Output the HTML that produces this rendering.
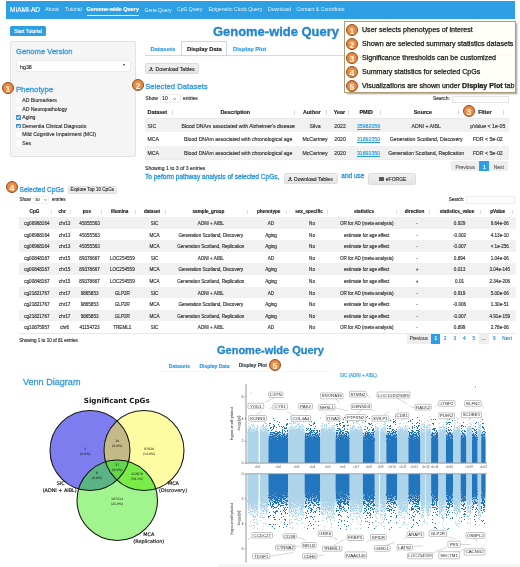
<!DOCTYPE html><html><head><meta charset="utf-8"><style>
html,body{margin:0;padding:0;overflow:hidden}
body{width:520px;height:567px;position:relative;overflow:hidden;background:#fff;font-family:"Liberation Sans", Arial, sans-serif}
.t{position:absolute;white-space:nowrap;line-height:1;-webkit-text-stroke:0.15px currentColor}
.num{position:absolute;box-sizing:border-box;border-radius:50%;background:radial-gradient(circle,#f29a55 0,#ec8a42 55%,#dc7530 100%);border:1.1px solid #8e4a1e;color:#fff4e6;font-weight:bold;text-align:center;font-family:"Liberation Sans",sans-serif}
</style></head><body>
<div style="position:absolute;left:6px;top:1px;width:509px;height:17.6px;background:#2d9fe4"></div>
<div class="t" style="left:10.00px;top:6.75px;font-size:6.5px;color:#fff;">MIAMI-AD</div>
<div class="t" style="left:45.00px;top:7.35px;font-size:5.3px;color:rgba(255,255,255,0.88);-webkit-text-stroke:0;">About</div>
<div class="t" style="left:65.00px;top:7.45px;font-size:5.1px;color:rgba(255,255,255,0.88);-webkit-text-stroke:0;">Tutorial</div>
<div class="t" style="left:144.50px;top:7.50px;font-size:5.0px;color:rgba(255,255,255,0.88);-webkit-text-stroke:0;">Gene Query</div>
<div class="t" style="left:177.00px;top:7.47px;font-size:5.05px;color:rgba(255,255,255,0.88);-webkit-text-stroke:0;">CpG Query</div>
<div class="t" style="left:208.50px;top:7.42px;font-size:5.15px;color:rgba(255,255,255,0.88);-webkit-text-stroke:0;">Epigenetic Clock Query</div>
<div class="t" style="left:268.00px;top:7.42px;font-size:5.15px;color:rgba(255,255,255,0.88);-webkit-text-stroke:0;">Download</div>
<div class="t" style="left:296.50px;top:7.40px;font-size:5.2px;color:rgba(255,255,255,0.88);-webkit-text-stroke:0;">Contact &amp; Contribute</div>
<div class="t" style="left:86.50px;top:7.30px;font-size:5.4px;color:#fff;font-weight:bold;">Genome-wide Query</div>
<div style="position:absolute;left:86.5px;top:15px;width:52.5px;height:1px;background:#fff"></div>
<div style="position:absolute;left:10px;top:26.2px;width:36px;height:9.9px;background:#2d9fe4;border-radius:1.5px"></div>
<div class="t" style="left:28.00px;transform:translateX(-50%);top:29.55px;font-size:4.9px;color:#fff;">Start Tutorial</div>
<div style="position:absolute;left:10px;top:41px;width:126px;height:116px;box-sizing:border-box;background:#f5f5f5;border:1px solid #e3e3e3;border-radius:2px"></div>
<div class="t" style="left:16.00px;top:48.00px;font-size:7.6px;color:#3198dc;-webkit-text-stroke:0.28px #3198dc;">Genome Version</div>
<div style="position:absolute;left:15.5px;top:60px;width:115.5px;height:11.5px;box-sizing:border-box;background:#fff;border:1px solid #eaeaea;border-radius:2px"></div>
<div class="t" style="left:20.00px;top:64.65px;font-size:5.3px;color:#333;">hg38</div>
<div style="position:absolute;left:123px;top:64.2px;width:0;height:0;border-left:1.6px solid transparent;border-right:1.6px solid transparent;border-top:2px solid #333"></div>
<div class="t" style="left:15.90px;top:86.40px;font-size:7.8px;color:#3198dc;-webkit-text-stroke:0.28px #3198dc;">Phenotype</div>
<div class="num" style="left:1.80px;top:81.80px;width:12px;height:12px;line-height:12px;font-size:8.6px">1</div>
<div style="position:absolute;left:16.2px;top:98.10px;width:4.6px;height:4.6px;background:#fff;border-radius:0.8px"></div>
<div class="t" style="left:22.30px;top:97.92px;font-size:5.15px;color:#333;">AD Biomarkers</div>
<div style="position:absolute;left:16.2px;top:106.68px;width:4.6px;height:4.6px;background:#fff;border-radius:0.8px"></div>
<div class="t" style="left:22.30px;top:106.50px;font-size:5.15px;color:#333;">AD Neuropathology</div>
<div style="position:absolute;left:16.2px;top:115.26px;width:4.6px;height:4.6px;background:#3b8fdc;border-radius:0.8px"></div>
<div style="position:absolute;left:17.3px;top:116.26px;width:2.2px;height:1.1px;border-left:0.7px solid #fff;border-bottom:0.7px solid #fff;transform:rotate(-45deg)"></div>
<div class="t" style="left:22.30px;top:115.08px;font-size:5.15px;color:#333;">Aging</div>
<div style="position:absolute;left:16.2px;top:123.84px;width:4.6px;height:4.6px;background:#3b8fdc;border-radius:0.8px"></div>
<div style="position:absolute;left:17.3px;top:124.84px;width:2.2px;height:1.1px;border-left:0.7px solid #fff;border-bottom:0.7px solid #fff;transform:rotate(-45deg)"></div>
<div class="t" style="left:22.30px;top:123.67px;font-size:5.15px;color:#333;">Dementia Clinical Diagnosis</div>
<div style="position:absolute;left:16.2px;top:132.42px;width:4.6px;height:4.6px;background:#fff;border-radius:0.8px"></div>
<div class="t" style="left:22.30px;top:132.25px;font-size:5.15px;color:#333;">Mild Cognitive Impairment (MCI)</div>
<div style="position:absolute;left:16.2px;top:141.00px;width:4.6px;height:4.6px;background:#fff;border-radius:0.8px"></div>
<div class="t" style="left:22.30px;top:140.83px;font-size:5.15px;color:#333;">Sex</div>
<div class="t" style="left:213.00px;top:25.72px;font-size:12.96px;color:#2386cf;font-weight:bold;-webkit-text-stroke:0.35px #2386cf;">Genome-wide Query</div>
<div style="position:absolute;left:145px;top:54.6px;width:370px;height:1px;background:#cddcea"></div>
<div style="position:absolute;left:180.8px;top:40.8px;width:46.7px;height:15px;box-sizing:border-box;background:#fff;border:1px solid #c9d9e6;border-radius:2px 2px 0 0;box-shadow:0 0 1px rgba(120,150,180,0.35)"></div>
<div class="t" style="left:150.50px;top:46.73px;font-size:5.95px;color:#2c9ae0;font-weight:bold;">Datasets</div>
<div class="t" style="left:187.00px;top:46.80px;font-size:5.8px;color:#222;font-weight:bold;">Display Data</div>
<div class="t" style="left:233.00px;top:46.80px;font-size:5.8px;color:#2c9ae0;font-weight:bold;">Display Plot</div>
<div style="position:absolute;left:145px;top:62.8px;width:53.8px;height:11.5px;box-sizing:border-box;background:linear-gradient(#efefef,#e4e4e4);border:0.5px solid #dcdcdc;border-radius:1.5px"></div>
<svg style="position:absolute;left:149px;top:66.6px" width="4.4" height="4.4" viewBox="0 0 10 10"><path d="M3.6 0h2.8v3.6h2L5 7.2 1.6 3.6h2z" fill="#3a3a3a"/><path d="M0 6.6h2.4L5 9.1l2.6-2.5H10V10H0z" fill="#3a3a3a"/></svg>
<div class="t" style="left:155.60px;top:66.72px;font-size:5.15px;color:#333;">Download Tables</div>
<div class="num" style="left:132.10px;top:79.20px;width:12px;height:12px;line-height:12px;font-size:8.6px">2</div>
<div class="t" style="left:145.20px;top:82.75px;font-size:7.7px;color:#3198dc;-webkit-text-stroke:0.28px #3198dc;">Selected Datasets</div>
<div class="t" style="left:145.50px;top:97.15px;font-size:4.9px;color:#333;">Show</div>
<div style="position:absolute;left:159.6px;top:93.6px;width:21.9px;height:9.5px;box-sizing:border-box;background:#fff;border:0.6px solid #ececec;border-radius:1.5px"></div>
<div class="t" style="left:162.30px;top:96.55px;font-size:4.9px;color:#333;">10</div>
<svg style="position:absolute;left:173.3px;top:97.6px" width="3.2" height="1.92" viewBox="0 0 10 6"><path d="M1.2 1.2l3.8 3.6 3.8-3.6" fill="none" stroke="#333" stroke-width="2.2"/></svg>
<div class="t" style="left:183.00px;top:97.15px;font-size:4.9px;color:#333;">entries</div>
<div class="t" style="left:432.90px;top:97.15px;font-size:4.9px;color:#333;">Search:</div>
<div style="position:absolute;left:452px;top:95.8px;width:56.5px;height:7.5px;box-sizing:border-box;background:#fff;border:1px solid #e3e3e3"></div>
<div style="position:absolute;left:144.5px;top:117.6px;width:364.0px;height:0.6px;background:#e9e9e9"></div>
<div class="t" style="left:147.50px;top:109.60px;font-size:5.4px;color:#222;font-weight:bold;">Dataset</div>
<div style="position:absolute;left:171.50px;top:110.05px;width:1px;height:4.5px;background:#dcdcdc"></div>
<div class="t" style="left:235.25px;transform:translateX(-50%);top:109.60px;font-size:5.4px;color:#222;font-weight:bold;">Description</div>
<div style="position:absolute;left:293.50px;top:110.05px;width:1px;height:4.5px;background:#dcdcdc"></div>
<div class="t" style="left:311.75px;transform:translateX(-50%);top:109.60px;font-size:5.4px;color:#222;font-weight:bold;">Author</div>
<div style="position:absolute;left:325.50px;top:110.05px;width:1px;height:4.5px;background:#dcdcdc"></div>
<div class="t" style="left:339.40px;transform:translateX(-50%);top:109.60px;font-size:5.4px;color:#222;font-weight:bold;">Year</div>
<div style="position:absolute;left:348.25px;top:110.05px;width:1px;height:4.5px;background:#dcdcdc"></div>
<div class="t" style="left:366.25px;transform:translateX(-50%);top:109.60px;font-size:5.4px;color:#222;font-weight:bold;">PMID</div>
<div style="position:absolute;left:379.50px;top:110.05px;width:1px;height:4.5px;background:#dcdcdc"></div>
<div class="t" style="left:422.90px;transform:translateX(-50%);top:109.60px;font-size:5.4px;color:#222;font-weight:bold;">Source</div>
<div style="position:absolute;left:457.50px;top:110.05px;width:1px;height:4.5px;background:#dcdcdc"></div>
<div class="t" style="left:484.90px;transform:translateX(-50%);top:109.60px;font-size:5.4px;color:#222;font-weight:bold;">Filter</div>
<div style="position:absolute;left:502.80px;top:110.05px;width:1px;height:4.5px;background:#dcdcdc"></div>
<div style="position:absolute;left:144.5px;top:118.8px;width:364.0px;height:13.6px;background:#f1f1f1"></div>
<div class="t" style="left:147.50px;top:123.80px;font-size:5.2px;color:#333;">SIC</div>
<div class="t" style="left:238.20px;transform:translateX(-50%);top:123.82px;font-size:5.16px;color:#333;">Blood DNAm associated with Alzheimer&#39;s disease</div>
<div class="t" style="left:315.00px;transform:translateX(-50%);top:123.80px;font-size:5.2px;color:#333;">Silva</div>
<div class="t" style="left:340.10px;transform:translateX(-50%);top:123.80px;font-size:5.2px;color:#333;">2022</div>
<div class="t" style="left:368.50px;transform:translateX(-50%);top:123.80px;font-size:5.2px;color:#2a9be0;text-decoration:underline;">35982059</div>
<div class="t" style="left:426.20px;transform:translateX(-50%);top:123.80px;font-size:5.2px;color:#333;">ADNI + AIBL</div>
<div class="t" style="left:487.80px;transform:translateX(-50%);top:123.80px;font-size:5.2px;color:#333;">pValue &lt; 1e-05</div>
<div class="t" style="left:147.50px;top:137.40px;font-size:5.2px;color:#333;">MCA</div>
<div class="t" style="left:238.20px;transform:translateX(-50%);top:137.42px;font-size:5.16px;color:#333;">Blood DNAm associated with chronological age</div>
<div class="t" style="left:315.00px;transform:translateX(-50%);top:137.40px;font-size:5.2px;color:#333;">McCartney</div>
<div class="t" style="left:340.10px;transform:translateX(-50%);top:137.40px;font-size:5.2px;color:#333;">2020</div>
<div class="t" style="left:368.50px;transform:translateX(-50%);top:137.40px;font-size:5.2px;color:#2a9be0;text-decoration:underline;">31892350</div>
<div class="t" style="left:426.20px;transform:translateX(-50%);top:137.40px;font-size:5.2px;color:#333;">Generation Scotland, Discovery</div>
<div class="t" style="left:487.80px;transform:translateX(-50%);top:137.40px;font-size:5.2px;color:#333;">FDR &lt; 5e-02</div>
<div style="position:absolute;left:144.5px;top:146.0px;width:364.0px;height:13.6px;background:#f1f1f1"></div>
<div class="t" style="left:147.50px;top:151.00px;font-size:5.2px;color:#333;">MCA</div>
<div class="t" style="left:238.20px;transform:translateX(-50%);top:151.02px;font-size:5.16px;color:#333;">Blood DNAm associated with chronological age</div>
<div class="t" style="left:315.00px;transform:translateX(-50%);top:151.00px;font-size:5.2px;color:#333;">McCartney</div>
<div class="t" style="left:340.10px;transform:translateX(-50%);top:151.00px;font-size:5.2px;color:#333;">2020</div>
<div class="t" style="left:368.50px;transform:translateX(-50%);top:151.00px;font-size:5.2px;color:#2a9be0;text-decoration:underline;">31892350</div>
<div class="t" style="left:426.20px;transform:translateX(-50%);top:151.00px;font-size:5.2px;color:#333;">Generation Scotland, Replication</div>
<div class="t" style="left:487.80px;transform:translateX(-50%);top:151.00px;font-size:5.2px;color:#333;">FDR &lt; 5e-02</div>
<div style="position:absolute;left:144.5px;top:159.4px;width:364.0px;height:0.5px;background:#ececec"></div>
<div class="t" style="left:145.00px;top:165.85px;font-size:5.1px;color:#333;">Showing 1 to 3 of 3 entries</div>
<div style="position:absolute;left:451px;top:160.8px;width:28.4px;height:10.7px;background:#eeeeee"></div>
<div class="t" style="left:465.20px;transform:translateX(-50%);top:164.50px;font-size:5.0px;color:#666;">Previous</div>
<div style="position:absolute;left:479.4px;top:160.8px;width:9.8px;height:10.7px;background:#2d9fe4"></div>
<div class="t" style="left:484.30px;transform:translateX(-50%);top:164.50px;font-size:5.0px;color:#fff;">1</div>
<div style="position:absolute;left:489.2px;top:160.8px;width:19.1px;height:10.7px;background:#eeeeee"></div>
<div class="t" style="left:498.80px;transform:translateX(-50%);top:164.50px;font-size:5.0px;color:#666;">Next</div>
<div class="num" style="left:462.60px;top:104.80px;width:12px;height:12px;line-height:12px;font-size:8.6px">3</div>
<div class="t" style="left:145.00px;top:173.73px;font-size:6.54px;color:#2b96dc;-webkit-text-stroke:0.3px #2b96dc;">To peform pathway analysis of selected CpGs,</div>
<div style="position:absolute;left:284.4px;top:172.8px;width:53.7px;height:11.6px;box-sizing:border-box;background:linear-gradient(#efefef,#e4e4e4);border:0.5px solid #dcdcdc;border-radius:1.5px"></div>
<svg style="position:absolute;left:288px;top:176.6px" width="4.4" height="4.4" viewBox="0 0 10 10"><path d="M3.6 0h2.8v3.6h2L5 7.2 1.6 3.6h2z" fill="#3a3a3a"/><path d="M0 6.6h2.4L5 9.1l2.6-2.5H10V10H0z" fill="#3a3a3a"/></svg>
<div class="t" style="left:294.00px;top:176.55px;font-size:5.1px;color:#333;">Download Tables</div>
<div class="t" style="left:341.25px;top:173.33px;font-size:6.54px;color:#2b96dc;-webkit-text-stroke:0.3px #2b96dc;">and use</div>
<div style="position:absolute;left:367.7px;top:173px;width:48.6px;height:11.5px;box-sizing:border-box;background:linear-gradient(#efefef,#e4e4e4);border:0.5px solid #dcdcdc;border-radius:1.5px"></div>
<div style="position:absolute;left:379.2px;top:177.3px;width:4.8px;height:4.2px;background:#555;border-radius:0.6px"></div>
<div class="t" style="left:385.80px;top:177.00px;font-size:5.0px;color:#333;">eFORGE</div>
<div style="position:absolute;left:344px;top:21.3px;width:171.5px;height:71.7px;box-sizing:border-box;background:rgba(255,254,248,0.88);border:1.2px solid #aa9d78;box-shadow:1.8px 1.8px 1.6px rgba(0,0,0,0.28)"></div>
<div class="num" style="left:345.90px;top:24.00px;width:12px;height:12px;line-height:12px;font-size:8.6px">1</div>
<div class="t" style="left:362.00px;top:26.65px;font-size:7.1px;color:#1a1a1a;-webkit-text-stroke:0.25px #1a1a1a;">User selects phenotypes of interest</div>
<div class="num" style="left:345.90px;top:38.00px;width:12px;height:12px;line-height:12px;font-size:8.6px">2</div>
<div class="t" style="left:362.00px;top:40.65px;font-size:7.1px;color:#1a1a1a;-webkit-text-stroke:0.25px #1a1a1a;">Shown are selected summary statistics datasets</div>
<div class="num" style="left:345.90px;top:52.00px;width:12px;height:12px;line-height:12px;font-size:8.6px">3</div>
<div class="t" style="left:362.00px;top:54.65px;font-size:7.1px;color:#1a1a1a;-webkit-text-stroke:0.25px #1a1a1a;">Significance thresholds can be customized</div>
<div class="num" style="left:345.90px;top:66.00px;width:12px;height:12px;line-height:12px;font-size:8.6px">4</div>
<div class="t" style="left:362.00px;top:68.65px;font-size:7.1px;color:#1a1a1a;-webkit-text-stroke:0.25px #1a1a1a;">Summary statistics for selected CpGs</div>
<div class="num" style="left:345.90px;top:80.00px;width:12px;height:12px;line-height:12px;font-size:8.6px">5</div>
<div class="t" style="left:362.00px;top:82.65px;font-size:7.1px;color:#1a1a1a;-webkit-text-stroke:0.25px #1a1a1a;">Visualizations are shown under <b>Display Plot</b> tab</div>
<div class="num" style="left:5.75px;top:180.50px;width:12.2px;height:12.2px;line-height:12.2px;font-size:8.8px">4</div>
<div class="t" style="left:19.50px;top:186.60px;font-size:6.6px;color:#3198dc;-webkit-text-stroke:0.3px #3198dc;">Selected CpGs</div>
<div style="position:absolute;left:67.5px;top:185.8px;width:49.5px;height:8.6px;box-sizing:border-box;background:linear-gradient(#f3f3f3,#e8e8e8);border:0.5px solid #dcdcdc;border-radius:1.5px"></div>
<div class="t" style="left:92.25px;transform:translateX(-50%);top:188.30px;font-size:4.6px;color:#333;">Explore Top 10 CpGs</div>
<div class="t" style="left:19.50px;top:198.15px;font-size:4.5px;color:#333;">Show</div>
<div style="position:absolute;left:32.5px;top:196.3px;width:16.5px;height:7.4px;box-sizing:border-box;background:#fff;border:0.5px solid #f0f0f0;border-radius:1.5px"></div>
<div class="t" style="left:35.00px;top:198.30px;font-size:4.2px;color:#333;">10</div>
<svg style="position:absolute;left:43.8px;top:199.4px" width="2.9" height="1.74" viewBox="0 0 10 6"><path d="M1.2 1.2l3.8 3.6 3.8-3.6" fill="none" stroke="#333" stroke-width="2.2"/></svg>
<div class="t" style="left:52.00px;top:198.15px;font-size:4.5px;color:#333;">entries</div>
<div class="t" style="left:448.70px;top:197.95px;font-size:4.5px;color:#333;">Search:</div>
<div style="position:absolute;left:466.2px;top:195.5px;width:48.6px;height:8.2px;box-sizing:border-box;background:#fff;border:0.6px solid #ececec"></div>
<div style="position:absolute;left:19.2px;top:216.5px;width:496.8px;height:0.5px;background:#ebebeb"></div>
<div class="t" style="left:34.50px;transform:translateX(-50%);top:210.48px;font-size:4.65px;color:#222;font-weight:bold;">CpG</div>
<div style="position:absolute;left:50.75px;top:209.50px;width:1px;height:4px;background:#dcdcdc"></div>
<div class="t" style="left:62.10px;transform:translateX(-50%);top:210.48px;font-size:4.65px;color:#222;font-weight:bold;">chr</div>
<div style="position:absolute;left:70.00px;top:209.50px;width:1px;height:4px;background:#dcdcdc"></div>
<div class="t" style="left:86.90px;transform:translateX(-50%);top:210.48px;font-size:4.65px;color:#222;font-weight:bold;">pos</div>
<div style="position:absolute;left:100.75px;top:209.50px;width:1px;height:4px;background:#dcdcdc"></div>
<div class="t" style="left:119.70px;transform:translateX(-50%);top:210.48px;font-size:4.65px;color:#222;font-weight:bold;">illumina</div>
<div style="position:absolute;left:134.80px;top:209.50px;width:1px;height:4px;background:#dcdcdc"></div>
<div class="t" style="left:152.00px;transform:translateX(-50%);top:210.48px;font-size:4.65px;color:#222;font-weight:bold;">dataset</div>
<div style="position:absolute;left:165.00px;top:209.50px;width:1px;height:4px;background:#dcdcdc"></div>
<div class="t" style="left:208.40px;transform:translateX(-50%);top:210.48px;font-size:4.65px;color:#222;font-weight:bold;">sample_group</div>
<div style="position:absolute;left:247.30px;top:209.50px;width:1px;height:4px;background:#dcdcdc"></div>
<div class="t" style="left:268.70px;transform:translateX(-50%);top:210.48px;font-size:4.65px;color:#222;font-weight:bold;">phenotype</div>
<div style="position:absolute;left:285.50px;top:209.50px;width:1px;height:4px;background:#dcdcdc"></div>
<div class="t" style="left:309.00px;transform:translateX(-50%);top:210.48px;font-size:4.65px;color:#222;font-weight:bold;">sex_specific</div>
<div style="position:absolute;left:327.30px;top:209.50px;width:1px;height:4px;background:#dcdcdc"></div>
<div class="t" style="left:364.00px;transform:translateX(-50%);top:210.48px;font-size:4.65px;color:#222;font-weight:bold;">statistics</div>
<div style="position:absolute;left:396.00px;top:209.50px;width:1px;height:4px;background:#dcdcdc"></div>
<div class="t" style="left:414.50px;transform:translateX(-50%);top:210.48px;font-size:4.65px;color:#222;font-weight:bold;">direction</div>
<div style="position:absolute;left:428.70px;top:209.50px;width:1px;height:4px;background:#dcdcdc"></div>
<div class="t" style="left:457.00px;transform:translateX(-50%);top:210.48px;font-size:4.65px;color:#222;font-weight:bold;">statistics_value</div>
<div style="position:absolute;left:480.10px;top:209.50px;width:1px;height:4px;background:#dcdcdc"></div>
<div class="t" style="left:497.70px;transform:translateX(-50%);top:210.48px;font-size:4.65px;color:#222;font-weight:bold;">pValue</div>
<div style="position:absolute;left:511.50px;top:209.50px;width:1px;height:4px;background:#dcdcdc"></div>
<div style="position:absolute;left:19.2px;top:216.9px;width:496.8px;height:11.61px;background:#f1f1f1"></div>
<div class="t" style="left:36.90px;transform:translateX(-50%);top:221.90px;font-size:4.6px;color:#333;">cg06968164</div>
<div class="t" style="left:64.70px;transform:translateX(-50%);top:221.90px;font-size:4.6px;color:#333;">chr13</div>
<div class="t" style="left:89.60px;transform:translateX(-50%);top:221.90px;font-size:4.6px;color:#333;">45055563</div>
<div class="t" style="left:154.50px;transform:translateX(-50%);top:221.90px;font-size:4.6px;color:#333;">SIC</div>
<div class="t" style="left:210.80px;transform:translateX(-50%);top:221.90px;font-size:4.6px;color:#333;">ADNI + AIBL</div>
<div class="t" style="left:271.00px;transform:translateX(-50%);top:221.90px;font-size:4.6px;color:#333;">AD</div>
<div class="t" style="left:312.00px;transform:translateX(-50%);top:221.90px;font-size:4.6px;color:#333;">No</div>
<div class="t" style="left:366.70px;transform:translateX(-50%);top:221.90px;font-size:4.6px;color:#333;">OR for AD (meta-analysis)</div>
<div class="t" style="left:417.00px;transform:translateX(-50%);top:221.90px;font-size:4.6px;color:#333;">-</div>
<div class="t" style="left:459.60px;transform:translateX(-50%);top:221.90px;font-size:4.6px;color:#333;">0.929</div>
<div class="t" style="left:499.80px;transform:translateX(-50%);top:221.90px;font-size:4.6px;color:#333;">9.64e-06</div>
<div class="t" style="left:36.90px;transform:translateX(-50%);top:233.51px;font-size:4.6px;color:#333;">cg06968164</div>
<div class="t" style="left:64.70px;transform:translateX(-50%);top:233.51px;font-size:4.6px;color:#333;">chr13</div>
<div class="t" style="left:89.60px;transform:translateX(-50%);top:233.51px;font-size:4.6px;color:#333;">45055563</div>
<div class="t" style="left:154.50px;transform:translateX(-50%);top:233.51px;font-size:4.6px;color:#333;">MCA</div>
<div class="t" style="left:210.80px;transform:translateX(-50%);top:233.51px;font-size:4.6px;color:#333;">Generation Scotland, Discovery</div>
<div class="t" style="left:271.00px;transform:translateX(-50%);top:233.51px;font-size:4.6px;color:#333;">Aging</div>
<div class="t" style="left:312.00px;transform:translateX(-50%);top:233.51px;font-size:4.6px;color:#333;">No</div>
<div class="t" style="left:366.70px;transform:translateX(-50%);top:233.51px;font-size:4.6px;color:#333;">estimate for age effect</div>
<div class="t" style="left:417.00px;transform:translateX(-50%);top:233.51px;font-size:4.6px;color:#333;">-</div>
<div class="t" style="left:459.60px;transform:translateX(-50%);top:233.51px;font-size:4.6px;color:#333;">-0.002</div>
<div class="t" style="left:499.80px;transform:translateX(-50%);top:233.51px;font-size:4.6px;color:#333;">4.13e-10</div>
<div style="position:absolute;left:19.2px;top:240.12px;width:496.8px;height:11.61px;background:#f1f1f1"></div>
<div class="t" style="left:36.90px;transform:translateX(-50%);top:245.12px;font-size:4.6px;color:#333;">cg06968164</div>
<div class="t" style="left:64.70px;transform:translateX(-50%);top:245.12px;font-size:4.6px;color:#333;">chr13</div>
<div class="t" style="left:89.60px;transform:translateX(-50%);top:245.12px;font-size:4.6px;color:#333;">45055563</div>
<div class="t" style="left:154.50px;transform:translateX(-50%);top:245.12px;font-size:4.6px;color:#333;">MCA</div>
<div class="t" style="left:210.80px;transform:translateX(-50%);top:245.12px;font-size:4.6px;color:#333;">Generation Scotland, Replication</div>
<div class="t" style="left:271.00px;transform:translateX(-50%);top:245.12px;font-size:4.6px;color:#333;">Aging</div>
<div class="t" style="left:312.00px;transform:translateX(-50%);top:245.12px;font-size:4.6px;color:#333;">No</div>
<div class="t" style="left:366.70px;transform:translateX(-50%);top:245.12px;font-size:4.6px;color:#333;">estimate for age effect</div>
<div class="t" style="left:417.00px;transform:translateX(-50%);top:245.12px;font-size:4.6px;color:#333;">-</div>
<div class="t" style="left:459.60px;transform:translateX(-50%);top:245.12px;font-size:4.6px;color:#333;">-0.007</div>
<div class="t" style="left:499.80px;transform:translateX(-50%);top:245.12px;font-size:4.6px;color:#333;">&lt; 1e-256</div>
<div class="t" style="left:36.90px;transform:translateX(-50%);top:256.73px;font-size:4.6px;color:#333;">cg00848167</div>
<div class="t" style="left:64.70px;transform:translateX(-50%);top:256.73px;font-size:4.6px;color:#333;">chr15</div>
<div class="t" style="left:89.60px;transform:translateX(-50%);top:256.73px;font-size:4.6px;color:#333;">89378667</div>
<div class="t" style="left:122.30px;transform:translateX(-50%);top:256.73px;font-size:4.6px;color:#333;">LOC254559</div>
<div class="t" style="left:154.50px;transform:translateX(-50%);top:256.73px;font-size:4.6px;color:#333;">SIC</div>
<div class="t" style="left:210.80px;transform:translateX(-50%);top:256.73px;font-size:4.6px;color:#333;">ADNI + AIBL</div>
<div class="t" style="left:271.00px;transform:translateX(-50%);top:256.73px;font-size:4.6px;color:#333;">AD</div>
<div class="t" style="left:312.00px;transform:translateX(-50%);top:256.73px;font-size:4.6px;color:#333;">No</div>
<div class="t" style="left:366.70px;transform:translateX(-50%);top:256.73px;font-size:4.6px;color:#333;">OR for AD (meta-analysis)</div>
<div class="t" style="left:417.00px;transform:translateX(-50%);top:256.73px;font-size:4.6px;color:#333;">-</div>
<div class="t" style="left:459.60px;transform:translateX(-50%);top:256.73px;font-size:4.6px;color:#333;">0.894</div>
<div class="t" style="left:499.80px;transform:translateX(-50%);top:256.73px;font-size:4.6px;color:#333;">1.04e-06</div>
<div style="position:absolute;left:19.2px;top:263.34px;width:496.8px;height:11.61px;background:#f1f1f1"></div>
<div class="t" style="left:36.90px;transform:translateX(-50%);top:268.34px;font-size:4.6px;color:#333;">cg00848167</div>
<div class="t" style="left:64.70px;transform:translateX(-50%);top:268.34px;font-size:4.6px;color:#333;">chr15</div>
<div class="t" style="left:89.60px;transform:translateX(-50%);top:268.34px;font-size:4.6px;color:#333;">89378667</div>
<div class="t" style="left:122.30px;transform:translateX(-50%);top:268.34px;font-size:4.6px;color:#333;">LOC254559</div>
<div class="t" style="left:154.50px;transform:translateX(-50%);top:268.34px;font-size:4.6px;color:#333;">MCA</div>
<div class="t" style="left:210.80px;transform:translateX(-50%);top:268.34px;font-size:4.6px;color:#333;">Generation Scotland, Discovery</div>
<div class="t" style="left:271.00px;transform:translateX(-50%);top:268.34px;font-size:4.6px;color:#333;">Aging</div>
<div class="t" style="left:312.00px;transform:translateX(-50%);top:268.34px;font-size:4.6px;color:#333;">No</div>
<div class="t" style="left:366.70px;transform:translateX(-50%);top:268.34px;font-size:4.6px;color:#333;">estimate for age effect</div>
<div class="t" style="left:417.00px;transform:translateX(-50%);top:268.34px;font-size:4.6px;color:#333;">+</div>
<div class="t" style="left:459.60px;transform:translateX(-50%);top:268.34px;font-size:4.6px;color:#333;">0.013</div>
<div class="t" style="left:499.80px;transform:translateX(-50%);top:268.34px;font-size:4.6px;color:#333;">3.04e-145</div>
<div class="t" style="left:36.90px;transform:translateX(-50%);top:279.95px;font-size:4.6px;color:#333;">cg00848167</div>
<div class="t" style="left:64.70px;transform:translateX(-50%);top:279.95px;font-size:4.6px;color:#333;">chr15</div>
<div class="t" style="left:89.60px;transform:translateX(-50%);top:279.95px;font-size:4.6px;color:#333;">89378667</div>
<div class="t" style="left:122.30px;transform:translateX(-50%);top:279.95px;font-size:4.6px;color:#333;">LOC254559</div>
<div class="t" style="left:154.50px;transform:translateX(-50%);top:279.95px;font-size:4.6px;color:#333;">MCA</div>
<div class="t" style="left:210.80px;transform:translateX(-50%);top:279.95px;font-size:4.6px;color:#333;">Generation Scotland, Replication</div>
<div class="t" style="left:271.00px;transform:translateX(-50%);top:279.95px;font-size:4.6px;color:#333;">Aging</div>
<div class="t" style="left:312.00px;transform:translateX(-50%);top:279.95px;font-size:4.6px;color:#333;">No</div>
<div class="t" style="left:366.70px;transform:translateX(-50%);top:279.95px;font-size:4.6px;color:#333;">estimate for age effect</div>
<div class="t" style="left:417.00px;transform:translateX(-50%);top:279.95px;font-size:4.6px;color:#333;">+</div>
<div class="t" style="left:459.60px;transform:translateX(-50%);top:279.95px;font-size:4.6px;color:#333;">0.01</div>
<div class="t" style="left:499.80px;transform:translateX(-50%);top:279.95px;font-size:4.6px;color:#333;">2.34e-206</div>
<div style="position:absolute;left:19.2px;top:286.56px;width:496.8px;height:11.61px;background:#f1f1f1"></div>
<div class="t" style="left:36.90px;transform:translateX(-50%);top:291.56px;font-size:4.6px;color:#333;">cg21821767</div>
<div class="t" style="left:64.70px;transform:translateX(-50%);top:291.56px;font-size:4.6px;color:#333;">chr17</div>
<div class="t" style="left:89.60px;transform:translateX(-50%);top:291.56px;font-size:4.6px;color:#333;">9865853</div>
<div class="t" style="left:122.30px;transform:translateX(-50%);top:291.56px;font-size:4.6px;color:#333;">GLP2R</div>
<div class="t" style="left:154.50px;transform:translateX(-50%);top:291.56px;font-size:4.6px;color:#333;">SIC</div>
<div class="t" style="left:210.80px;transform:translateX(-50%);top:291.56px;font-size:4.6px;color:#333;">ADNI + AIBL</div>
<div class="t" style="left:271.00px;transform:translateX(-50%);top:291.56px;font-size:4.6px;color:#333;">AD</div>
<div class="t" style="left:312.00px;transform:translateX(-50%);top:291.56px;font-size:4.6px;color:#333;">No</div>
<div class="t" style="left:366.70px;transform:translateX(-50%);top:291.56px;font-size:4.6px;color:#333;">OR for AD (meta-analysis)</div>
<div class="t" style="left:417.00px;transform:translateX(-50%);top:291.56px;font-size:4.6px;color:#333;">-</div>
<div class="t" style="left:459.60px;transform:translateX(-50%);top:291.56px;font-size:4.6px;color:#333;">0.919</div>
<div class="t" style="left:499.80px;transform:translateX(-50%);top:291.56px;font-size:4.6px;color:#333;">5.00e-06</div>
<div class="t" style="left:36.90px;transform:translateX(-50%);top:303.17px;font-size:4.6px;color:#333;">cg21821767</div>
<div class="t" style="left:64.70px;transform:translateX(-50%);top:303.17px;font-size:4.6px;color:#333;">chr17</div>
<div class="t" style="left:89.60px;transform:translateX(-50%);top:303.17px;font-size:4.6px;color:#333;">9865853</div>
<div class="t" style="left:122.30px;transform:translateX(-50%);top:303.17px;font-size:4.6px;color:#333;">GLP2R</div>
<div class="t" style="left:154.50px;transform:translateX(-50%);top:303.17px;font-size:4.6px;color:#333;">MCA</div>
<div class="t" style="left:210.80px;transform:translateX(-50%);top:303.17px;font-size:4.6px;color:#333;">Generation Scotland, Discovery</div>
<div class="t" style="left:271.00px;transform:translateX(-50%);top:303.17px;font-size:4.6px;color:#333;">Aging</div>
<div class="t" style="left:312.00px;transform:translateX(-50%);top:303.17px;font-size:4.6px;color:#333;">No</div>
<div class="t" style="left:366.70px;transform:translateX(-50%);top:303.17px;font-size:4.6px;color:#333;">estimate for age effect</div>
<div class="t" style="left:417.00px;transform:translateX(-50%);top:303.17px;font-size:4.6px;color:#333;">-</div>
<div class="t" style="left:459.60px;transform:translateX(-50%);top:303.17px;font-size:4.6px;color:#333;">-0.006</div>
<div class="t" style="left:499.80px;transform:translateX(-50%);top:303.17px;font-size:4.6px;color:#333;">1.30e-51</div>
<div style="position:absolute;left:19.2px;top:309.78px;width:496.8px;height:11.61px;background:#f1f1f1"></div>
<div class="t" style="left:36.90px;transform:translateX(-50%);top:314.78px;font-size:4.6px;color:#333;">cg21821767</div>
<div class="t" style="left:64.70px;transform:translateX(-50%);top:314.78px;font-size:4.6px;color:#333;">chr17</div>
<div class="t" style="left:89.60px;transform:translateX(-50%);top:314.78px;font-size:4.6px;color:#333;">9865853</div>
<div class="t" style="left:122.30px;transform:translateX(-50%);top:314.78px;font-size:4.6px;color:#333;">GLP2R</div>
<div class="t" style="left:154.50px;transform:translateX(-50%);top:314.78px;font-size:4.6px;color:#333;">MCA</div>
<div class="t" style="left:210.80px;transform:translateX(-50%);top:314.78px;font-size:4.6px;color:#333;">Generation Scotland, Replication</div>
<div class="t" style="left:271.00px;transform:translateX(-50%);top:314.78px;font-size:4.6px;color:#333;">Aging</div>
<div class="t" style="left:312.00px;transform:translateX(-50%);top:314.78px;font-size:4.6px;color:#333;">No</div>
<div class="t" style="left:366.70px;transform:translateX(-50%);top:314.78px;font-size:4.6px;color:#333;">estimate for age effect</div>
<div class="t" style="left:417.00px;transform:translateX(-50%);top:314.78px;font-size:4.6px;color:#333;">-</div>
<div class="t" style="left:459.60px;transform:translateX(-50%);top:314.78px;font-size:4.6px;color:#333;">-0.007</div>
<div class="t" style="left:499.80px;transform:translateX(-50%);top:314.78px;font-size:4.6px;color:#333;">4.91e-159</div>
<div class="t" style="left:36.90px;transform:translateX(-50%);top:326.39px;font-size:4.6px;color:#333;">cg10875957</div>
<div class="t" style="left:64.70px;transform:translateX(-50%);top:326.39px;font-size:4.6px;color:#333;">chr6</div>
<div class="t" style="left:89.60px;transform:translateX(-50%);top:326.39px;font-size:4.6px;color:#333;">41154723</div>
<div class="t" style="left:122.30px;transform:translateX(-50%);top:326.39px;font-size:4.6px;color:#333;">TREML1</div>
<div class="t" style="left:154.50px;transform:translateX(-50%);top:326.39px;font-size:4.6px;color:#333;">SIC</div>
<div class="t" style="left:210.80px;transform:translateX(-50%);top:326.39px;font-size:4.6px;color:#333;">ADNI + AIBL</div>
<div class="t" style="left:271.00px;transform:translateX(-50%);top:326.39px;font-size:4.6px;color:#333;">AD</div>
<div class="t" style="left:312.00px;transform:translateX(-50%);top:326.39px;font-size:4.6px;color:#333;">No</div>
<div class="t" style="left:366.70px;transform:translateX(-50%);top:326.39px;font-size:4.6px;color:#333;">OR for AD (meta-analysis)</div>
<div class="t" style="left:417.00px;transform:translateX(-50%);top:326.39px;font-size:4.6px;color:#333;">-</div>
<div class="t" style="left:459.60px;transform:translateX(-50%);top:326.39px;font-size:4.6px;color:#333;">0.899</div>
<div class="t" style="left:499.80px;transform:translateX(-50%);top:326.39px;font-size:4.6px;color:#333;">2.78e-06</div>
<div style="position:absolute;left:19.2px;top:333px;width:496.8px;height:0.5px;background:#e8e8e8"></div>
<div class="t" style="left:19.20px;top:338.53px;font-size:4.54px;color:#333;">Showing 1 to 10 of 81 entries</div>
<div style="position:absolute;left:406.8px;top:333.9px;width:24.1px;height:9.900000000000034px;background:#eeeeee"></div>
<div class="t" style="left:418.80px;transform:translateX(-50%);top:337.10px;font-size:4.7px;color:#555;">Previous</div>
<div style="position:absolute;left:430.9px;top:333.9px;width:9.6px;height:9.900000000000034px;background:#2d9fe4"></div>
<div class="t" style="left:435.70px;transform:translateX(-50%);top:337.10px;font-size:4.7px;color:#fff;">1</div>
<div class="t" style="left:445.10px;transform:translateX(-50%);top:337.10px;font-size:4.7px;color:#3590cc;">2</div>
<div class="t" style="left:454.70px;transform:translateX(-50%);top:337.10px;font-size:4.7px;color:#3590cc;">3</div>
<div class="t" style="left:464.20px;transform:translateX(-50%);top:337.10px;font-size:4.7px;color:#3590cc;">4</div>
<div class="t" style="left:473.80px;transform:translateX(-50%);top:337.10px;font-size:4.7px;color:#3590cc;">5</div>
<div class="t" style="left:494.30px;transform:translateX(-50%);top:337.10px;font-size:4.7px;color:#3590cc;">9</div>
<div style="position:absolute;left:478.7px;top:333.9px;width:10.1px;height:9.900000000000034px;background:#eeeeee"></div>
<div class="t" style="left:483.70px;transform:translateX(-50%);top:337.10px;font-size:4.7px;color:#666;">&#8230;</div>
<div class="t" style="left:507.20px;transform:translateX(-50%);top:337.10px;font-size:4.7px;color:#3590cc;">Next</div>
<div class="t" style="left:217.00px;top:345.00px;font-size:11.0px;color:#2386cf;font-weight:bold;-webkit-text-stroke:0.3px #2386cf;">Genome-wide Query</div>
<div style="position:absolute;left:160px;top:370.6px;width:170px;height:0.6px;background:#f4f7fa"></div>
<div class="t" style="left:168.75px;top:363.65px;font-size:5.1px;color:#2c9ae0;font-weight:bold;">Datasets</div>
<div class="t" style="left:199.50px;top:363.70px;font-size:5.0px;color:#2c9ae0;font-weight:bold;">Display Data</div>
<div class="t" style="left:238.75px;top:363.53px;font-size:4.94px;color:#3b4352;font-weight:bold;">Display Plot</div>
<div class="num" style="left:268.85px;top:358.85px;width:12.3px;height:12.3px;line-height:12.3px;font-size:8.9px">5</div>
<div class="t" style="left:23.00px;top:377.86px;font-size:9.07px;color:#3a9ad9;-webkit-text-stroke:0.3px #3a9ad9;">Venn Diagram</div>
<div class="t" style="left:339.70px;top:373.95px;font-size:4.5px;color:#2d9fe4;">SIC (ADNI + AIBL)</div>
<svg style="position:absolute;left:0;top:0" width="520" height="567" viewBox="0 0 520 567"><rect x="218.5" y="564.3" width="302" height="3" fill="#f4f4f4"/><g><defs><clipPath id="cB"><circle cx="90" cy="450.5" r="40"/></clipPath><clipPath id="cY"><circle cx="144" cy="450.5" r="40"/></clipPath></defs><circle cx="90" cy="450.5" r="40" fill="#7d7df0"/><circle cx="144" cy="450.5" r="40" fill="#fefca2"/><circle cx="117.25" cy="500.25" r="40.25" fill="#a2f58e"/><circle cx="144" cy="450.5" r="40" fill="#c4ba88" clip-path="url(#cB)"/><circle cx="117.25" cy="500.25" r="40.25" fill="#5cb485" clip-path="url(#cB)"/><circle cx="117.25" cy="500.25" r="40.25" fill="#7aec48" clip-path="url(#cY)"/><g clip-path="url(#cB)"><circle cx="117.25" cy="500.25" r="40.25" fill="#62d64c" clip-path="url(#cY)"/></g><circle cx="90" cy="450.5" r="40" fill="none" stroke="#151515" stroke-width="1.05"/><circle cx="144" cy="450.5" r="40" fill="none" stroke="#151515" stroke-width="1.05"/><circle cx="117.25" cy="500.25" r="40.25" fill="none" stroke="#151515" stroke-width="1.05"/></g><text x="83.8" y="403.3" style="font-family:'DejaVu Sans',sans-serif;font-weight:bold;font-size:7.14px" fill="#111">Significant CpGs</text><text x="85.2" y="449.5" text-anchor="middle" style="font-family:'DejaVu Sans',sans-serif;font-size:3.2px" fill="#111">5</text><text x="85.2" y="454.5" text-anchor="middle" style="font-family:'DejaVu Sans',sans-serif;font-size:3.2px" fill="#111">(0.0%)</text><text x="117.3" y="442.3" text-anchor="middle" style="font-family:'DejaVu Sans',sans-serif;font-size:3.2px" fill="#111">10</text><text x="117.3" y="447.3" text-anchor="middle" style="font-family:'DejaVu Sans',sans-serif;font-size:3.2px" fill="#111">(0.0%)</text><text x="149" y="449.5" text-anchor="middle" style="font-family:'DejaVu Sans',sans-serif;font-size:3.2px" fill="#111">97820</text><text x="149" y="454.5" text-anchor="middle" style="font-family:'DejaVu Sans',sans-serif;font-size:3.2px" fill="#111">(14.0%)</text><text x="117.3" y="466.4" text-anchor="middle" style="font-family:'DejaVu Sans',sans-serif;font-size:3.2px" fill="#111">27</text><text x="117.3" y="471.4" text-anchor="middle" style="font-family:'DejaVu Sans',sans-serif;font-size:3.2px" fill="#111">(0.0%)</text><text x="137" y="474.5" text-anchor="middle" style="font-family:'DejaVu Sans',sans-serif;font-size:3.2px" fill="#111">412879</text><text x="137" y="479.5" text-anchor="middle" style="font-family:'DejaVu Sans',sans-serif;font-size:3.2px" fill="#111">(59.1%)</text><text x="97" y="474" text-anchor="middle" style="font-family:'DejaVu Sans',sans-serif;font-size:3.2px" fill="#111">8</text><text x="97" y="479" text-anchor="middle" style="font-family:'DejaVu Sans',sans-serif;font-size:3.2px" fill="#111">(0.0%)</text><text x="117" y="499.75" text-anchor="middle" style="font-family:'DejaVu Sans',sans-serif;font-size:3.2px" fill="#111">187614</text><text x="117" y="504.75" text-anchor="middle" style="font-family:'DejaVu Sans',sans-serif;font-size:3.2px" fill="#111">(26.9%)</text><text x="60.8" y="484.8" text-anchor="middle" style="font-family:'DejaVu Sans',sans-serif;font-size:4.9px" fill="#111" stroke="#111" stroke-width="0.15">SIC</text><text x="59.7" y="491.8" text-anchor="middle" style="font-family:'DejaVu Sans',sans-serif;font-size:4.9px" fill="#111" stroke="#111" stroke-width="0.15">(ADNI + AIBL)</text><text x="173.4" y="484.5" text-anchor="middle" style="font-family:'DejaVu Sans',sans-serif;font-size:4.9px" fill="#111" stroke="#111" stroke-width="0.15">MCA</text><text x="173.1" y="491.8" text-anchor="middle" style="font-family:'DejaVu Sans',sans-serif;font-size:4.9px" fill="#111" stroke="#111" stroke-width="0.15">(Discovery)</text><text x="148.75" y="535.8" text-anchor="middle" style="font-family:'DejaVu Sans',sans-serif;font-size:4.9px" fill="#111" stroke="#111" stroke-width="0.15">MCA</text><text x="148.75" y="543" text-anchor="middle" style="font-family:'DejaVu Sans',sans-serif;font-size:4.9px" fill="#111" stroke="#111" stroke-width="0.15">(Replication)</text><linearGradient id="g1" x1="0" y1="0" x2="0" y2="1"><stop offset="0" stop-color="#aed4ea" stop-opacity="0"/><stop offset="1" stop-color="#aed4ea" stop-opacity="0.9"/></linearGradient><linearGradient id="g2" x1="0" y1="0" x2="0" y2="1"><stop offset="0" stop-color="#2276bd" stop-opacity="0"/><stop offset="1" stop-color="#2276bd" stop-opacity="0.9"/></linearGradient><rect x="247.40" y="433.03" width="11.20" height="29.97" fill="#aed4ea"/><rect x="247.40" y="425.26" width="11.20" height="7.77" fill="url(#g1)"/><rect x="259.80" y="433.03" width="8.60" height="29.97" fill="#aed4ea"/><rect x="259.80" y="425.26" width="8.60" height="7.77" fill="url(#g1)"/><rect x="268.40" y="439.69" width="19.90" height="23.31" fill="#2276bd"/><rect x="268.40" y="430.81" width="19.90" height="8.88" fill="url(#g2)"/><rect x="288.30" y="433.03" width="16.30" height="29.97" fill="#aed4ea"/><rect x="288.30" y="425.26" width="16.30" height="7.77" fill="url(#g1)"/><rect x="304.60" y="439.69" width="15.80" height="23.31" fill="#2276bd"/><rect x="304.60" y="430.81" width="15.80" height="8.88" fill="url(#g2)"/><rect x="320.40" y="433.03" width="15.10" height="29.97" fill="#aed4ea"/><rect x="320.40" y="425.26" width="15.10" height="7.77" fill="url(#g1)"/><rect x="335.50" y="439.69" width="14.20" height="23.31" fill="#2276bd"/><rect x="335.50" y="430.81" width="14.20" height="8.88" fill="url(#g2)"/><rect x="349.70" y="433.03" width="13.20" height="29.97" fill="#aed4ea"/><rect x="349.70" y="425.26" width="13.20" height="7.77" fill="url(#g1)"/><rect x="362.90" y="439.69" width="11.90" height="23.31" fill="#2276bd"/><rect x="362.90" y="430.81" width="11.90" height="8.88" fill="url(#g2)"/><rect x="374.80" y="433.03" width="4.20" height="29.97" fill="#aed4ea"/><rect x="374.80" y="425.26" width="4.20" height="7.77" fill="url(#g1)"/><rect x="380.00" y="433.03" width="6.30" height="29.97" fill="#aed4ea"/><rect x="380.00" y="425.26" width="6.30" height="7.77" fill="url(#g1)"/><rect x="386.30" y="439.69" width="11.10" height="23.31" fill="#2276bd"/><rect x="386.30" y="430.81" width="11.10" height="8.88" fill="url(#g2)"/><rect x="397.40" y="433.03" width="11.00" height="29.97" fill="#aed4ea"/><rect x="397.40" y="425.26" width="11.00" height="7.77" fill="url(#g1)"/><rect x="408.40" y="439.69" width="12.10" height="23.31" fill="#2276bd"/><rect x="408.40" y="430.81" width="12.10" height="8.88" fill="url(#g2)"/><rect x="420.50" y="433.03" width="4.80" height="29.97" fill="#aed4ea"/><rect x="420.50" y="425.26" width="4.80" height="7.77" fill="url(#g1)"/><rect x="425.80" y="433.03" width="5.30" height="29.97" fill="#aed4ea"/><rect x="425.80" y="425.26" width="5.30" height="7.77" fill="url(#g1)"/><rect x="431.10" y="439.69" width="7.40" height="23.31" fill="#2276bd"/><rect x="431.10" y="430.81" width="7.40" height="8.88" fill="url(#g2)"/><rect x="438.50" y="433.03" width="7.40" height="29.97" fill="#aed4ea"/><rect x="438.50" y="425.26" width="7.40" height="7.77" fill="url(#g1)"/><rect x="445.90" y="439.69" width="7.40" height="23.31" fill="#2276bd"/><rect x="445.90" y="430.81" width="7.40" height="8.88" fill="url(#g2)"/><rect x="453.30" y="433.03" width="7.30" height="29.97" fill="#aed4ea"/><rect x="453.30" y="425.26" width="7.30" height="7.77" fill="url(#g1)"/><rect x="460.60" y="439.69" width="5.90" height="23.31" fill="#2276bd"/><rect x="460.60" y="430.81" width="5.90" height="8.88" fill="url(#g2)"/><rect x="466.50" y="433.03" width="5.50" height="29.97" fill="#aed4ea"/><rect x="466.50" y="425.26" width="5.50" height="7.77" fill="url(#g1)"/><rect x="472.00" y="439.69" width="5.70" height="23.31" fill="#2276bd"/><rect x="472.00" y="430.81" width="5.70" height="8.88" fill="url(#g2)"/><rect x="477.70" y="433.03" width="3.50" height="29.97" fill="#aed4ea"/><rect x="477.70" y="425.26" width="3.50" height="7.77" fill="url(#g1)"/><rect x="481.20" y="439.69" width="4.40" height="23.31" fill="#2276bd"/><rect x="481.20" y="430.81" width="4.40" height="8.88" fill="url(#g2)"/><path stroke="#aed4ea" stroke-width="1" transform="translate(0 0.5)" d="M257 430h1M253 429h1M249 430h1M254 426h1M248 431h1M248 426h1M254 433h1M257 419h1M254 429h1M249 433h1M253 433h1M249 432h1M248 430h1M252 425h1M253 429h1M252 428h1M252 432h1M256 428h1M251 432h1M250 433h1M255 431h1M256 431h1M257 425h1M247 432h1M257 430h1M257 431h1M248 429h1M255 432h1M248 431h1M257 427h1M249 432h1M248 433h1M256 432h1M253 430h1M249 427h1M249 429h1M249 431h1M250 432h1M257 426h1M251 424h1M250 431h1M256 429h1M250 432h1M255 431h1M250 433h1M248 429h1M250 429h1M251 430h1M257 430h1M253 424h1M249 432h1M257 426h1M250 432h1M255 421h1M249 420h1M256 429h1M252 433h1M248 419h1M250 428h1M250 426h1M253 432h1M249 428h1M248 432h1M253 425h1M254 432h1M257 432h1M248 432h1M252 433h1M249 431h1M253 432h1M251 424h1M257 428h1M254 429h1M249 433h1M248 423h1M255 419h1M260 429h1M263 427h1M260 430h1M265 423h1M265 428h1M266 423h1M262 428h1M267 424h1M263 426h1M266 429h1M265 431h1M264 429h1M260 429h1M267 424h1M265 431h1M265 429h1M263 425h1M260 427h1M260 429h1M263 432h1M265 430h1M264 422h1M262 433h1M262 428h1M261 432h1M267 428h1M263 424h1M262 428h1M261 431h1M266 423h1M266 431h1M264 431h1M261 430h1M266 425h1M265 420h1M262 432h1M263 432h1M261 431h1M265 430h1M262 425h1M267 430h1M260 433h1M266 433h1M265 429h1M262 426h1M260 432h1M263 433h1M266 432h1M261 433h1M265 431h1M265 428h1M266 419h1M265 432h1M263 432h1M260 430h1M265 432h1M262 431h1M265 430h1M264 427h1M263 426h1M267 433h1M267 428h1M261 430h1M265 423h1M263 429h1M266 426h1M267 430h1M265 432h1M265 426h1M265 428h1M299 431h1M303 429h1M299 431h1M301 433h1M290 433h1M299 428h1M291 431h1M301 429h1M290 432h1M291 432h1M295 433h1M302 431h1M296 429h1M300 426h1M294 431h1M295 433h1M294 428h1M303 426h1M298 429h1M289 431h1M294 429h1M290 431h1M296 426h1M301 429h1M291 427h1M302 430h1M294 430h1M290 428h1M303 430h1M299 425h1M291 421h1M298 432h1M290 432h1M297 428h1M293 422h1M294 430h1M290 418h1M290 423h1M297 430h1M297 432h1M301 429h1M290 426h1M293 423h1M292 429h1M301 432h1M297 433h1M289 432h1M303 421h1M298 431h1M299 427h1M294 429h1M301 433h1M291 430h1M290 431h1M297 432h1M296 432h1M297 431h1M298 433h1M299 432h1M303 429h1M295 431h1M298 428h1M300 427h1M301 425h1M295 431h1M297 423h1M296 430h1M295 423h1M293 433h1M299 423h1M299 429h1M300 431h1M297 433h1M290 431h1M296 431h1M289 428h1M296 432h1M293 431h1M292 433h1M302 419h1M298 424h1M295 426h1M292 427h1M297 423h1M290 426h1M290 430h1M303 433h1M292 432h1M293 433h1M302 426h1M294 431h1M297 433h1M289 423h1M293 430h1M303 417h1M296 432h1M293 422h1M302 432h1M301 431h1M296 432h1M291 429h1M291 424h1M289 433h1M299 431h1M302 424h1M299 432h1M299 421h1M295 433h1M292 431h1M299 432h1M291 432h1M298 426h1M294 428h1M302 429h1M292 432h1M302 428h1M293 429h1M290 416h1M295 430h1M296 433h1M297 432h1M292 426h1M290 432h1M300 432h1M293 430h1M291 423h1M303 433h1M295 427h1M294 422h1M296 432h1M297 429h1M294 428h1M300 430h1M296 425h1M299 430h1M303 432h1M300 432h1M298 432h1M295 427h1M300 426h1M292 430h1M292 429h1M296 433h1M297 428h1M297 424h1M291 432h1M289 430h1M295 431h1M292 426h1M289 423h1M297 430h1M328 429h1M322 425h1M330 430h1M330 431h1M326 432h1M329 429h1M328 433h1M329 431h1M329 429h1M334 432h1M331 431h1M326 424h1M327 432h1M332 429h1M334 425h1M332 430h1M334 433h1M333 428h1M324 426h1M327 430h1M333 432h1M324 429h1M321 430h1M331 430h1M324 426h1M332 427h1M328 423h1M332 432h1M326 433h1M321 431h1M333 425h1M322 432h1M326 425h1M329 423h1M323 429h1M333 427h1M323 428h1M326 433h1M325 431h1M329 432h1M329 428h1M323 432h1M330 430h1M322 433h1M334 429h1M325 432h1M334 428h1M331 431h1M325 431h1M322 429h1M326 426h1M326 430h1M328 421h1M325 428h1M324 429h1M324 424h1M324 425h1M330 430h1M334 431h1M331 429h1M327 433h1M326 432h1M327 420h1M325 428h1M330 432h1M326 432h1M333 432h1M326 431h1M332 425h1M329 430h1M322 423h1M322 431h1M326 428h1M330 431h1M333 420h1M321 429h1M327 431h1M327 431h1M330 429h1M334 417h1M334 431h1M332 429h1M321 430h1M326 428h1M323 431h1M322 431h1M331 433h1M323 429h1M329 427h1M324 426h1M331 427h1M322 430h1M321 425h1M334 423h1M321 431h1M328 430h1M322 426h1M325 430h1M322 429h1M322 433h1M328 432h1M331 432h1M326 433h1M323 430h1M328 430h1M332 433h1M351 432h1M354 433h1M353 432h1M351 430h1M356 429h1M359 430h1M361 433h1M352 433h1M353 427h1M361 430h1M352 431h1M357 432h1M359 418h1M355 429h1M360 430h1M352 421h1M362 433h1M359 431h1M350 432h1M352 427h1M352 433h1M352 426h1M356 429h1M355 432h1M350 431h1M350 432h1M357 431h1M355 429h1M354 431h1M360 429h1M355 430h1M355 431h1M361 432h1M361 425h1M360 432h1M353 432h1M359 432h1M357 432h1M361 432h1M351 428h1M354 430h1M356 422h1M356 431h1M350 430h1M353 429h1M357 430h1M351 430h1M356 429h1M362 432h1M355 433h1M359 432h1M360 426h1M353 423h1M356 431h1M356 421h1M356 430h1M353 425h1M356 431h1M352 432h1M360 426h1M362 422h1M358 426h1M358 426h1M359 432h1M360 431h1M353 422h1M350 430h1M354 426h1M357 423h1M361 429h1M350 428h1M351 416h1M360 431h1M352 428h1M357 432h1M359 433h1M360 427h1M359 424h1M357 421h1M357 430h1M354 431h1M350 432h1M359 432h1M358 427h1M358 430h1M354 432h1M352 429h1M358 421h1M354 422h1M361 432h1M361 429h1M361 427h1M354 432h1M356 430h1M350 425h1M356 430h1M359 432h1M352 429h1M375 427h1M376 420h1M377 433h1M377 432h1M377 428h1M377 433h1M375 426h1M375 432h1M375 432h1M376 419h1M376 432h1M377 432h1M377 429h1M378 433h1M377 431h1M377 432h1M377 432h1M376 418h1M376 432h1M378 428h1M375 432h1M376 432h1M378 428h1M378 428h1M377 431h1M377 430h1M375 430h1M376 430h1M375 433h1M378 431h1M376 432h1M377 423h1M375 430h1M376 427h1M377 432h1M375 428h1M375 424h1M375 432h1M383 427h1M384 428h1M380 426h1M381 432h1M380 433h1M385 431h1M380 433h1M384 429h1M385 433h1M381 432h1M381 433h1M381 429h1M381 432h1M383 431h1M381 429h1M383 431h1M383 433h1M383 432h1M382 433h1M385 429h1M382 430h1M385 432h1M382 428h1M382 428h1M385 433h1M382 432h1M384 426h1M384 422h1M381 431h1M385 427h1M381 416h1M384 424h1M382 429h1M385 423h1M383 424h1M385 425h1M406 431h1M399 426h1M407 432h1M405 426h1M407 432h1M399 432h1M400 423h1M406 430h1M399 431h1M400 429h1M405 427h1M402 430h1M402 431h1M402 428h1M405 431h1M403 432h1M398 431h1M401 433h1M398 431h1M407 425h1M398 431h1M401 431h1M399 429h1M406 431h1M399 433h1M398 427h1M400 428h1M405 433h1M399 431h1M405 427h1M400 430h1M401 430h1M405 432h1M406 422h1M403 419h1M407 432h1M407 432h1M405 432h1M400 431h1M406 428h1M399 423h1M406 430h1M398 432h1M400 431h1M407 429h1M406 433h1M400 427h1M401 432h1M398 433h1M402 430h1M401 429h1M400 433h1M404 431h1M402 431h1M400 433h1M400 432h1M399 433h1M402 433h1M406 431h1M402 430h1M398 433h1M405 430h1M402 431h1M405 430h1M405 425h1M406 428h1M404 430h1M403 429h1M403 426h1M406 433h1M405 429h1M403 423h1M398 430h1M401 420h1M422 433h1M421 421h1M424 424h1M422 415h1M421 428h1M424 432h1M421 432h1M421 426h1M423 430h1M421 429h1M421 432h1M423 429h1M424 426h1M421 431h1M421 430h1M421 424h1M423 426h1M422 423h1M424 425h1M424 432h1M422 433h1M423 430h1M424 432h1M422 424h1M424 427h1M424 422h1M422 429h1M421 428h1M424 430h1M421 429h1M421 430h1M421 431h1M424 427h1M424 430h1M422 433h1M423 429h1M422 432h1M422 433h1M421 433h1M422 432h1M424 429h1M424 430h1M421 432h1M424 429h1M423 429h1M421 432h1M428 425h1M430 429h1M427 433h1M428 431h1M430 432h1M427 433h1M426 426h1M430 432h1M426 429h1M427 429h1M430 427h1M427 429h1M427 427h1M427 424h1M429 424h1M427 420h1M428 432h1M429 431h1M426 433h1M428 432h1M426 427h1M426 427h1M427 431h1M430 425h1M429 416h1M428 421h1M428 429h1M427 431h1M428 432h1M429 425h1M429 432h1M426 431h1M428 425h1M428 430h1M428 430h1M429 430h1M428 432h1M426 431h1M430 421h1M427 429h1M428 430h1M427 426h1M426 432h1M427 432h1M427 433h1M428 432h1M429 429h1M443 430h1M441 432h1M443 422h1M443 431h1M442 431h1M441 427h1M439 430h1M442 432h1M443 432h1M441 432h1M442 431h1M443 431h1M444 430h1M439 430h1M440 432h1M445 430h1M443 432h1M443 432h1M440 432h1M439 423h1M445 431h1M439 427h1M443 433h1M443 433h1M440 427h1M443 432h1M442 426h1M442 430h1M440 433h1M440 430h1M442 430h1M443 429h1M443 431h1M444 430h1M444 427h1M443 430h1M440 433h1M443 432h1M442 430h1M442 431h1M440 431h1M443 424h1M441 431h1M441 431h1M443 427h1M443 426h1M443 418h1M441 431h1M443 431h1M444 431h1M442 430h1M458 418h1M456 431h1M458 433h1M456 432h1M457 427h1M459 430h1M458 433h1M457 422h1M457 430h1M457 431h1M454 432h1M458 430h1M454 429h1M459 429h1M454 420h1M454 430h1M456 432h1M455 432h1M454 433h1M457 428h1M455 420h1M456 430h1M459 429h1M456 427h1M458 431h1M454 427h1M458 429h1M454 427h1M454 426h1M457 429h1M454 431h1M458 433h1M454 431h1M459 429h1M455 433h1M459 425h1M458 432h1M458 433h1M454 431h1M459 433h1M454 427h1M458 432h1M454 425h1M459 423h1M457 433h1M458 429h1M459 427h1M456 417h1M456 431h1M457 426h1M457 421h1M455 423h1M459 431h1M453 429h1M457 419h1M457 428h1M458 432h1M458 431h1M455 432h1M467 428h1M470 426h1M470 432h1M468 429h1M469 429h1M469 432h1M468 433h1M467 429h1M467 424h1M471 432h1M471 429h1M467 431h1M468 431h1M467 432h1M467 430h1M469 432h1M471 424h1M469 426h1M468 427h1M470 431h1M470 431h1M467 431h1M467 428h1M468 430h1M470 429h1M471 428h1M470 427h1M470 422h1M469 428h1M469 430h1M471 432h1M467 430h1M468 428h1M469 433h1M467 429h1M468 428h1M469 433h1M470 418h1M467 429h1M469 429h1M469 430h1M471 424h1M468 426h1M470 426h1M471 433h1M467 432h1M470 422h1M468 430h1M471 428h1M469 423h1M471 433h1M471 432h1M480 432h1M480 430h1M479 430h1M480 425h1M479 425h1M478 431h1M479 433h1M479 433h1M480 426h1M479 433h1M478 427h1M478 433h1M479 429h1M478 431h1M479 427h1M478 427h1M478 422h1M479 432h1M480 424h1M478 424h1M480 431h1M480 428h1M479 431h1M478 426h1M480 421h1M478 429h1M479 432h1M478 423h1M480 428h1M479 431h1"/><path stroke="#2276bd" stroke-width="1" transform="translate(0 0.5)" d="M287 419h1M279 431h1M274 426h1M285 437h1M270 436h1M279 432h1M278 440h1M284 439h1M284 439h1M275 431h1M271 439h1M278 433h1M284 433h1M286 436h1M286 439h1M273 436h1M274 432h1M280 436h1M284 435h1M274 437h1M284 427h1M272 429h1M287 436h1M279 438h1M279 436h1M280 440h1M287 436h1M276 431h1M279 436h1M281 439h1M279 437h1M286 425h1M273 436h1M271 437h1M284 427h1M277 438h1M272 434h1M286 439h1M283 440h1M272 438h1M281 438h1M275 434h1M270 432h1M271 436h1M273 438h1M278 437h1M276 437h1M278 439h1M272 434h1M280 436h1M284 434h1M285 438h1M282 430h1M285 438h1M274 425h1M285 439h1M273 432h1M273 439h1M284 437h1M283 439h1M276 433h1M269 438h1M281 426h1M287 439h1M278 432h1M278 433h1M272 439h1M270 439h1M279 436h1M279 439h1M272 438h1M286 439h1M270 423h1M277 432h1M275 436h1M278 437h1M280 440h1M282 429h1M272 436h1M282 437h1M272 439h1M278 440h1M285 431h1M282 429h1M280 437h1M280 436h1M287 431h1M273 426h1M282 431h1M284 437h1M285 428h1M282 432h1M283 437h1M282 439h1M275 436h1M269 437h1M280 434h1M273 424h1M281 437h1M281 435h1M278 437h1M287 434h1M282 432h1M287 440h1M280 432h1M273 437h1M269 438h1M276 439h1M273 427h1M279 436h1M287 435h1M287 434h1M284 439h1M280 432h1M269 425h1M271 436h1M272 436h1M280 439h1M286 437h1M278 435h1M275 438h1M281 435h1M274 433h1M274 440h1M273 439h1M271 432h1M276 427h1M283 439h1M287 424h1M270 427h1M277 436h1M287 438h1M278 424h1M282 436h1M287 430h1M280 439h1M280 436h1M272 439h1M278 439h1M277 434h1M277 438h1M279 437h1M283 435h1M287 423h1M282 438h1M271 427h1M283 434h1M275 438h1M281 435h1M280 434h1M283 439h1M273 418h1M286 428h1M269 439h1M274 437h1M280 439h1M279 439h1M270 433h1M279 434h1M275 436h1M272 437h1M282 430h1M270 439h1M284 434h1M283 438h1M276 438h1M284 437h1M275 435h1M283 426h1M276 437h1M270 428h1M270 439h1M279 436h1M281 438h1M283 439h1M272 434h1M270 438h1M282 433h1M274 439h1M275 433h1M275 439h1M282 435h1M286 424h1M286 436h1M284 438h1M274 437h1M286 427h1M273 437h1M275 437h1M276 437h1M272 435h1M283 435h1M284 435h1M272 432h1M285 438h1M269 436h1M279 435h1M287 434h1M284 439h1M279 431h1M270 439h1M282 427h1M270 434h1M271 432h1M281 438h1M273 432h1M278 432h1M276 437h1M287 433h1M278 435h1M282 433h1M286 437h1M284 434h1M285 431h1M284 428h1M287 434h1M278 433h1M284 437h1M276 439h1M275 439h1M272 437h1M274 420h1M270 438h1M271 434h1M283 439h1M270 436h1M279 426h1M269 439h1M272 438h1M273 433h1M280 438h1M272 438h1M272 432h1M274 435h1M284 436h1M273 428h1M286 437h1M279 422h1M278 438h1M269 423h1M284 437h1M278 436h1M281 438h1M269 436h1M275 431h1M282 435h1M271 439h1M274 438h1M285 436h1M273 435h1M271 432h1M268 430h1M284 430h1M270 438h1M282 439h1M277 436h1M286 435h1M285 438h1M283 437h1M286 439h1M284 438h1M279 436h1M271 430h1M274 438h1M270 438h1M277 433h1M275 433h1M270 437h1M277 421h1M284 434h1M269 437h1M282 438h1M279 436h1M284 438h1M280 438h1M276 435h1M274 437h1M276 434h1M273 438h1M307 438h1M305 438h1M314 436h1M309 435h1M306 430h1M307 438h1M307 433h1M317 431h1M306 437h1M310 438h1M319 439h1M312 432h1M319 439h1M311 432h1M305 438h1M318 439h1M310 438h1M311 439h1M316 432h1M308 438h1M313 438h1M311 425h1M310 437h1M319 434h1M305 437h1M314 439h1M310 433h1M317 435h1M318 436h1M310 429h1M310 431h1M308 437h1M307 435h1M307 438h1M308 436h1M309 436h1M319 433h1M317 438h1M310 439h1M315 437h1M309 440h1M307 438h1M310 425h1M315 438h1M310 439h1M318 437h1M316 433h1M318 440h1M309 437h1M306 428h1M309 432h1M312 439h1M310 438h1M305 439h1M313 440h1M309 437h1M313 439h1M315 438h1M315 434h1M307 438h1M309 433h1M311 437h1M317 438h1M309 437h1M308 439h1M305 434h1M313 431h1M319 438h1M315 426h1M308 433h1M314 422h1M317 438h1M314 439h1M311 437h1M305 437h1M309 436h1M309 439h1M311 436h1M307 434h1M308 439h1M310 437h1M307 435h1M315 435h1M315 440h1M310 437h1M306 437h1M305 436h1M313 436h1M309 438h1M305 437h1M318 435h1M308 434h1M307 436h1M314 423h1M310 435h1M319 431h1M314 434h1M311 437h1M309 430h1M318 437h1M318 439h1M307 436h1M309 437h1M319 439h1M307 438h1M315 438h1M305 435h1M310 438h1M312 434h1M313 434h1M313 430h1M319 437h1M310 428h1M309 433h1M315 433h1M319 430h1M307 434h1M312 435h1M310 438h1M316 435h1M308 438h1M309 439h1M312 439h1M306 439h1M306 433h1M306 436h1M316 436h1M307 429h1M317 439h1M308 436h1M316 437h1M315 438h1M315 437h1M310 432h1M317 430h1M313 437h1M315 434h1M317 431h1M306 437h1M315 438h1M307 440h1M313 424h1M319 439h1M315 437h1M314 437h1M305 433h1M306 439h1M309 432h1M319 439h1M309 440h1M313 436h1M310 438h1M316 430h1M309 437h1M314 432h1M319 437h1M315 435h1M316 439h1M307 439h1M318 438h1M312 439h1M309 440h1M313 439h1M314 438h1M308 436h1M310 438h1M305 439h1M318 438h1M306 439h1M308 428h1M312 437h1M317 437h1M305 435h1M314 434h1M309 424h1M311 430h1M315 439h1M305 439h1M306 439h1M310 432h1M309 436h1M305 438h1M319 440h1M312 430h1M316 432h1M311 431h1M317 432h1M319 439h1M319 437h1M315 438h1M318 440h1M313 438h1M310 437h1M314 430h1M310 434h1M310 438h1M318 438h1M306 437h1M316 438h1M316 435h1M315 439h1M306 439h1M310 437h1M305 436h1M311 438h1M313 423h1M308 428h1M309 432h1M306 415h1M311 421h1M308 437h1M315 439h1M309 433h1M319 438h1M307 437h1M319 439h1M314 437h1M314 438h1M314 428h1M317 434h1M348 436h1M341 434h1M347 421h1M341 440h1M338 430h1M345 433h1M338 435h1M336 439h1M339 421h1M344 429h1M336 437h1M337 438h1M337 426h1M340 436h1M344 428h1M348 435h1M342 427h1M341 438h1M345 438h1M340 437h1M342 437h1M341 436h1M336 430h1M336 436h1M343 437h1M338 439h1M340 438h1M342 438h1M345 436h1M336 437h1M348 440h1M343 422h1M340 435h1M340 438h1M344 435h1M340 436h1M342 432h1M336 439h1M339 438h1M346 437h1M347 437h1M339 433h1M337 417h1M346 437h1M340 430h1M346 434h1M336 432h1M336 434h1M343 425h1M344 440h1M348 432h1M343 440h1M345 437h1M344 417h1M348 439h1M346 436h1M345 437h1M341 437h1M337 438h1M345 439h1M337 430h1M344 435h1M337 439h1M340 423h1M343 426h1M338 437h1M343 430h1M337 428h1M342 440h1M341 437h1M344 425h1M342 433h1M341 431h1M337 432h1M338 435h1M338 437h1M338 437h1M343 436h1M341 435h1M347 437h1M343 436h1M348 437h1M345 438h1M339 432h1M343 438h1M336 430h1M340 433h1M341 434h1M343 419h1M348 436h1M342 438h1M345 439h1M340 429h1M336 433h1M343 435h1M340 439h1M348 432h1M346 439h1M346 438h1M338 435h1M344 439h1M346 435h1M347 425h1M345 437h1M348 433h1M339 429h1M345 438h1M339 440h1M343 438h1M339 438h1M337 436h1M339 438h1M339 436h1M347 439h1M347 429h1M344 435h1M345 435h1M344 426h1M346 438h1M336 424h1M340 431h1M339 436h1M340 432h1M348 436h1M343 437h1M339 423h1M337 424h1M344 439h1M347 439h1M343 439h1M349 438h1M347 439h1M344 439h1M336 435h1M348 433h1M347 431h1M342 439h1M342 439h1M342 437h1M342 438h1M345 437h1M342 439h1M342 435h1M348 435h1M337 438h1M340 433h1M348 419h1M348 425h1M347 425h1M336 436h1M343 433h1M344 434h1M348 439h1M342 422h1M336 439h1M347 422h1M336 440h1M346 433h1M342 435h1M345 431h1M336 439h1M346 419h1M347 437h1M340 437h1M336 432h1M339 435h1M342 437h1M344 436h1M339 428h1M338 439h1M339 436h1M346 437h1M339 434h1M339 436h1M339 428h1M338 438h1M339 437h1M345 433h1M346 435h1M337 432h1M339 438h1M340 437h1M341 439h1M346 431h1M340 431h1M341 438h1M343 432h1M342 430h1M336 436h1M341 439h1M348 439h1M338 428h1M348 425h1M340 425h1M337 433h1M348 439h1M337 433h1M347 432h1M348 436h1M340 439h1M339 424h1M364 439h1M367 436h1M373 434h1M367 437h1M365 436h1M373 439h1M368 433h1M371 435h1M370 424h1M373 438h1M369 439h1M371 439h1M365 435h1M366 433h1M371 438h1M371 434h1M371 436h1M368 439h1M368 423h1M373 439h1M364 438h1M370 436h1M364 437h1M369 432h1M367 434h1M370 434h1M363 433h1M364 439h1M368 440h1M364 437h1M368 439h1M373 429h1M368 435h1M366 417h1M364 438h1M365 429h1M368 437h1M367 428h1M366 431h1M371 436h1M367 437h1M368 438h1M370 437h1M366 431h1M368 436h1M372 436h1M367 427h1M374 431h1M367 434h1M371 438h1M371 423h1M370 434h1M368 434h1M365 432h1M369 418h1M367 433h1M363 437h1M371 438h1M370 438h1M365 426h1M364 435h1M372 430h1M367 435h1M371 432h1M371 435h1M366 433h1M369 435h1M374 439h1M371 438h1M371 423h1M366 435h1M369 436h1M365 434h1M373 434h1M366 431h1M367 439h1M370 436h1M369 423h1M367 432h1M364 438h1M370 433h1M372 437h1M366 437h1M369 440h1M367 434h1M365 438h1M372 425h1M366 439h1M364 439h1M372 432h1M366 436h1M370 440h1M372 429h1M365 433h1M371 437h1M372 438h1M368 438h1M368 430h1M369 434h1M374 438h1M365 434h1M365 421h1M367 436h1M368 430h1M373 433h1M365 437h1M371 438h1M373 428h1M365 437h1M365 433h1M363 433h1M364 429h1M369 435h1M364 439h1M367 416h1M369 429h1M364 439h1M363 433h1M365 438h1M370 433h1M366 436h1M366 435h1M367 437h1M366 438h1M366 440h1M366 435h1M366 439h1M372 436h1M368 438h1M373 432h1M370 434h1M370 436h1M367 437h1M368 436h1M369 435h1M371 427h1M365 440h1M366 440h1M372 434h1M366 439h1M372 430h1M370 433h1M371 436h1M367 435h1M373 430h1M364 438h1M373 435h1M369 438h1M372 436h1M374 439h1M374 440h1M365 437h1M370 439h1M369 424h1M368 432h1M369 435h1M365 436h1M373 433h1M365 436h1M369 437h1M369 434h1M363 438h1M370 438h1M393 422h1M388 437h1M392 439h1M394 439h1M393 438h1M390 435h1M388 436h1M395 416h1M389 437h1M393 439h1M395 438h1M392 437h1M386 440h1M386 437h1M393 439h1M394 438h1M391 433h1M395 424h1M391 438h1M390 438h1M394 436h1M393 439h1M394 421h1M388 434h1M388 439h1M390 439h1M394 435h1M393 421h1M387 439h1M387 436h1M395 433h1M392 429h1M390 439h1M393 440h1M389 440h1M388 439h1M392 439h1M392 430h1M390 439h1M393 432h1M395 435h1M392 429h1M393 419h1M389 431h1M393 436h1M386 436h1M389 435h1M391 436h1M387 439h1M392 433h1M396 431h1M389 436h1M391 431h1M390 426h1M391 437h1M391 437h1M396 439h1M390 439h1M393 439h1M388 437h1M392 432h1M391 438h1M390 428h1M388 440h1M395 436h1M388 439h1M395 432h1M387 433h1M388 436h1M392 439h1M396 437h1M388 431h1M387 439h1M393 436h1M395 431h1M388 439h1M392 436h1M389 426h1M388 434h1M387 425h1M396 434h1M390 433h1M395 431h1M387 436h1M388 435h1M396 429h1M389 435h1M390 439h1M394 432h1M390 437h1M393 432h1M391 439h1M387 439h1M395 436h1M393 437h1M390 439h1M396 435h1M388 433h1M392 434h1M394 434h1M395 420h1M390 434h1M390 437h1M390 434h1M390 437h1M395 431h1M393 429h1M390 434h1M389 438h1M387 431h1M396 438h1M390 439h1M388 434h1M395 439h1M389 432h1M389 428h1M390 436h1M388 438h1M391 438h1M394 440h1M393 431h1M390 439h1M388 439h1M394 435h1M386 436h1M392 438h1M387 437h1M390 420h1M390 425h1M395 435h1M388 431h1M387 435h1M387 439h1M390 439h1M396 435h1M395 422h1M394 434h1M391 431h1M393 439h1M392 437h1M392 433h1M393 435h1M394 430h1M387 439h1M387 439h1M396 438h1M391 436h1M392 438h1M394 437h1M395 431h1M386 435h1M387 428h1M387 438h1M394 435h1M393 437h1M392 438h1M391 438h1M393 439h1M388 438h1M410 435h1M410 432h1M414 432h1M412 428h1M408 438h1M417 428h1M417 438h1M409 433h1M417 439h1M419 436h1M409 436h1M412 439h1M418 425h1M410 436h1M411 433h1M410 437h1M413 436h1M413 435h1M419 425h1M418 430h1M411 438h1M414 434h1M415 437h1M419 438h1M409 439h1M411 432h1M418 439h1M411 438h1M417 427h1M411 439h1M419 420h1M416 436h1M417 432h1M414 438h1M414 434h1M412 434h1M410 420h1M411 438h1M419 423h1M419 429h1M418 430h1M415 439h1M417 430h1M418 439h1M409 432h1M414 427h1M419 436h1M416 434h1M416 437h1M415 439h1M418 433h1M417 436h1M411 436h1M416 435h1M410 440h1M413 438h1M411 438h1M413 433h1M419 433h1M409 428h1M415 432h1M415 437h1M412 439h1M416 439h1M416 426h1M416 435h1M417 422h1M414 440h1M415 434h1M418 434h1M412 440h1M418 434h1M419 435h1M418 431h1M419 436h1M418 437h1M409 438h1M413 438h1M416 439h1M412 437h1M410 435h1M413 431h1M412 419h1M411 435h1M411 440h1M412 427h1M412 436h1M414 438h1M414 439h1M412 438h1M417 432h1M416 435h1M418 432h1M409 439h1M417 430h1M419 431h1M410 435h1M415 435h1M410 421h1M414 438h1M419 437h1M409 434h1M411 438h1M412 435h1M412 434h1M418 426h1M411 430h1M409 435h1M409 439h1M419 439h1M416 436h1M408 431h1M409 428h1M417 436h1M413 440h1M416 439h1M414 425h1M416 439h1M416 433h1M412 431h1M415 437h1M414 438h1M412 427h1M412 432h1M412 439h1M408 421h1M417 417h1M415 439h1M410 439h1M415 434h1M419 438h1M411 438h1M410 440h1M414 437h1M412 423h1M412 430h1M414 439h1M409 434h1M418 439h1M416 438h1M416 430h1M416 438h1M410 421h1M419 425h1M414 439h1M412 426h1M409 438h1M409 428h1M412 439h1M412 438h1M413 434h1M416 439h1M414 439h1M413 431h1M411 430h1M411 437h1M417 440h1M415 435h1M416 423h1M416 438h1M411 436h1M412 435h1M435 438h1M434 433h1M432 432h1M435 419h1M435 435h1M436 438h1M433 437h1M436 433h1M432 423h1M437 436h1M437 434h1M434 439h1M431 435h1M436 434h1M436 437h1M436 435h1M435 435h1M435 435h1M432 433h1M436 437h1M437 436h1M432 436h1M433 439h1M437 439h1M436 439h1M432 429h1M431 419h1M437 436h1M435 436h1M432 437h1M434 428h1M432 435h1M434 435h1M436 435h1M433 423h1M435 438h1M435 428h1M431 434h1M434 438h1M432 438h1M434 437h1M435 438h1M435 436h1M436 431h1M433 419h1M435 437h1M433 433h1M434 433h1M433 429h1M433 428h1M434 437h1M435 436h1M435 435h1M437 432h1M431 439h1M436 438h1M431 439h1M434 429h1M431 439h1M431 439h1M433 436h1M437 434h1M437 435h1M437 433h1M433 437h1M434 439h1M437 436h1M432 436h1M436 438h1M435 439h1M433 439h1M434 433h1M433 433h1M435 432h1M437 437h1M437 436h1M434 439h1M432 434h1M432 439h1M432 435h1M432 438h1M436 436h1M432 433h1M437 434h1M434 435h1M436 430h1M436 438h1M436 439h1M432 436h1M432 435h1M433 424h1M434 430h1M437 436h1M448 436h1M452 439h1M452 420h1M451 438h1M446 428h1M446 438h1M452 433h1M451 430h1M447 436h1M447 437h1M449 430h1M448 434h1M447 438h1M446 435h1M450 433h1M449 424h1M451 435h1M451 439h1M448 435h1M450 422h1M450 439h1M452 436h1M447 432h1M450 429h1M449 438h1M449 436h1M448 435h1M447 438h1M447 440h1M449 432h1M448 427h1M450 434h1M448 427h1M448 429h1M447 423h1M450 439h1M451 439h1M448 437h1M448 437h1M447 437h1M446 431h1M448 433h1M449 419h1M452 433h1M451 426h1M452 437h1M450 439h1M448 437h1M450 440h1M451 439h1M449 436h1M451 434h1M447 434h1M447 434h1M449 422h1M449 438h1M448 422h1M448 438h1M449 434h1M452 439h1M448 433h1M449 433h1M450 439h1M446 439h1M448 439h1M448 439h1M446 436h1M451 439h1M447 432h1M446 439h1M449 438h1M451 436h1M449 437h1M446 430h1M448 430h1M447 437h1M449 439h1M446 424h1M449 432h1M450 436h1M447 434h1M449 433h1M446 438h1M447 432h1M449 438h1M451 436h1M448 437h1M446 439h1M446 422h1M452 435h1M452 435h1M450 439h1M449 434h1M449 434h1M448 434h1M447 436h1M449 436h1M446 438h1M450 439h1M450 432h1M463 438h1M461 431h1M464 430h1M464 439h1M462 436h1M462 430h1M462 440h1M463 439h1M461 435h1M464 435h1M461 435h1M463 438h1M462 439h1M463 437h1M463 433h1M462 435h1M462 432h1M462 435h1M464 431h1M463 426h1M465 431h1M462 438h1M464 439h1M461 439h1M464 437h1M465 431h1M463 437h1M462 439h1M461 428h1M462 440h1M465 437h1M464 436h1M465 439h1M463 434h1M461 426h1M462 433h1M461 439h1M461 431h1M465 426h1M463 439h1M464 436h1M464 434h1M463 439h1M461 439h1M463 438h1M465 439h1M464 439h1M461 425h1M462 435h1M463 437h1M462 439h1M464 437h1M464 430h1M461 437h1M462 425h1M464 438h1M463 440h1M463 439h1M461 436h1M463 438h1M463 438h1M464 439h1M465 436h1M461 438h1M464 439h1M465 438h1M463 439h1M463 422h1M462 439h1M463 434h1M461 438h1M464 438h1M473 438h1M476 431h1M477 439h1M475 432h1M476 433h1M473 439h1M473 438h1M475 438h1M473 439h1M475 430h1M473 436h1M477 437h1M475 430h1M472 428h1M476 432h1M474 436h1M476 439h1M472 434h1M476 439h1M473 436h1M476 435h1M475 439h1M473 435h1M475 439h1M472 438h1M474 437h1M473 439h1M475 423h1M475 426h1M473 434h1M474 429h1M475 434h1M476 422h1M473 436h1M472 435h1M473 433h1M474 440h1M476 439h1M473 436h1M472 431h1M475 439h1M475 439h1M474 439h1M473 436h1M475 434h1M476 437h1M474 438h1M475 437h1M473 439h1M474 430h1M474 430h1M474 435h1M473 437h1M475 439h1M474 438h1M473 437h1M473 435h1M472 438h1M473 439h1M476 433h1M476 439h1M473 438h1M474 430h1M476 429h1M472 440h1M474 437h1M472 437h1M473 428h1M484 439h1M484 433h1M483 423h1M483 428h1M482 437h1M482 436h1M484 429h1M485 432h1M484 439h1M483 436h1M482 427h1M482 438h1M481 435h1M482 423h1M483 437h1M482 439h1M484 434h1M483 436h1M483 427h1M481 438h1M484 438h1M482 437h1M482 432h1M482 435h1M484 437h1M484 437h1M483 439h1M482 435h1M483 436h1M481 435h1M484 438h1M482 434h1M482 439h1M481 434h1M484 431h1M483 428h1M484 438h1M482 419h1M484 434h1M483 437h1M482 437h1M482 434h1M483 434h1M484 440h1M482 439h1M482 426h1M483 431h1M482 437h1M484 438h1M484 435h1M483 440h1"/><linearGradient id="g3" x1="0" y1="0" x2="0" y2="1"><stop offset="0" stop-color="#aed4ea" stop-opacity="0.9"/><stop offset="1" stop-color="#aed4ea" stop-opacity="0"/></linearGradient><linearGradient id="g4" x1="0" y1="0" x2="0" y2="1"><stop offset="0" stop-color="#2276bd" stop-opacity="0.9"/><stop offset="1" stop-color="#2276bd" stop-opacity="0"/></linearGradient><rect x="247.40" y="474.00" width="11.20" height="22.41" fill="#aed4ea"/><rect x="247.40" y="496.41" width="11.20" height="21.16" fill="url(#g3)"/><rect x="259.80" y="474.00" width="8.60" height="22.41" fill="#aed4ea"/><rect x="259.80" y="496.41" width="8.60" height="21.16" fill="url(#g3)"/><rect x="268.40" y="474.00" width="19.90" height="17.43" fill="#2276bd"/><rect x="268.40" y="491.43" width="19.90" height="14.94" fill="url(#g4)"/><rect x="288.30" y="474.00" width="16.30" height="22.41" fill="#aed4ea"/><rect x="288.30" y="496.41" width="16.30" height="21.16" fill="url(#g3)"/><rect x="304.60" y="474.00" width="15.80" height="17.43" fill="#2276bd"/><rect x="304.60" y="491.43" width="15.80" height="14.94" fill="url(#g4)"/><rect x="320.40" y="474.00" width="15.10" height="22.41" fill="#aed4ea"/><rect x="320.40" y="496.41" width="15.10" height="21.16" fill="url(#g3)"/><rect x="335.50" y="474.00" width="14.20" height="17.43" fill="#2276bd"/><rect x="335.50" y="491.43" width="14.20" height="14.94" fill="url(#g4)"/><rect x="349.70" y="474.00" width="13.20" height="22.41" fill="#aed4ea"/><rect x="349.70" y="496.41" width="13.20" height="21.16" fill="url(#g3)"/><rect x="362.90" y="474.00" width="11.90" height="17.43" fill="#2276bd"/><rect x="362.90" y="491.43" width="11.90" height="14.94" fill="url(#g4)"/><rect x="374.80" y="474.00" width="4.20" height="22.41" fill="#aed4ea"/><rect x="374.80" y="496.41" width="4.20" height="21.16" fill="url(#g3)"/><rect x="380.00" y="474.00" width="6.30" height="22.41" fill="#aed4ea"/><rect x="380.00" y="496.41" width="6.30" height="21.16" fill="url(#g3)"/><rect x="386.30" y="474.00" width="11.10" height="17.43" fill="#2276bd"/><rect x="386.30" y="491.43" width="11.10" height="14.94" fill="url(#g4)"/><rect x="397.40" y="474.00" width="11.00" height="22.41" fill="#aed4ea"/><rect x="397.40" y="496.41" width="11.00" height="21.16" fill="url(#g3)"/><rect x="408.40" y="474.00" width="12.10" height="17.43" fill="#2276bd"/><rect x="408.40" y="491.43" width="12.10" height="14.94" fill="url(#g4)"/><rect x="420.50" y="474.00" width="4.80" height="22.41" fill="#aed4ea"/><rect x="420.50" y="496.41" width="4.80" height="21.16" fill="url(#g3)"/><rect x="425.80" y="474.00" width="5.30" height="22.41" fill="#aed4ea"/><rect x="425.80" y="496.41" width="5.30" height="21.16" fill="url(#g3)"/><rect x="431.10" y="474.00" width="7.40" height="17.43" fill="#2276bd"/><rect x="431.10" y="491.43" width="7.40" height="14.94" fill="url(#g4)"/><rect x="438.50" y="474.00" width="7.40" height="22.41" fill="#aed4ea"/><rect x="438.50" y="496.41" width="7.40" height="21.16" fill="url(#g3)"/><rect x="445.90" y="474.00" width="7.40" height="17.43" fill="#2276bd"/><rect x="445.90" y="491.43" width="7.40" height="14.94" fill="url(#g4)"/><rect x="453.30" y="474.00" width="7.30" height="22.41" fill="#aed4ea"/><rect x="453.30" y="496.41" width="7.30" height="21.16" fill="url(#g3)"/><rect x="460.60" y="474.00" width="5.90" height="17.43" fill="#2276bd"/><rect x="460.60" y="491.43" width="5.90" height="14.94" fill="url(#g4)"/><rect x="466.50" y="474.00" width="5.50" height="22.41" fill="#aed4ea"/><rect x="466.50" y="496.41" width="5.50" height="21.16" fill="url(#g3)"/><rect x="472.00" y="474.00" width="5.70" height="17.43" fill="#2276bd"/><rect x="472.00" y="491.43" width="5.70" height="14.94" fill="url(#g4)"/><rect x="477.70" y="474.00" width="3.50" height="22.41" fill="#aed4ea"/><rect x="477.70" y="496.41" width="3.50" height="21.16" fill="url(#g3)"/><rect x="481.20" y="474.00" width="4.40" height="17.43" fill="#2276bd"/><rect x="481.20" y="491.43" width="4.40" height="14.94" fill="url(#g4)"/><path stroke="#aed4ea" stroke-width="1" transform="translate(0 0.5)" d="M257 496h1M253 500h1M253 497h1M249 500h1M250 500h1M248 496h1M255 500h1M253 506h1M251 496h1M255 503h1M254 503h1M257 499h1M255 499h1M253 504h1M251 496h1M252 506h1M253 500h1M254 497h1M249 499h1M256 497h1M249 496h1M248 498h1M253 509h1M251 499h1M250 498h1M255 502h1M250 496h1M255 505h1M256 498h1M253 516h1M253 519h1M249 525h1M248 500h1M248 509h1M254 525h1M256 519h1M255 499h1M257 499h1M249 496h1M252 497h1M257 520h1M250 496h1M253 497h1M253 509h1M250 500h1M257 500h1M251 513h1M256 514h1M254 500h1M254 510h1M254 498h1M250 500h1M255 502h1M253 509h1M249 503h1M251 502h1M256 498h1M257 496h1M253 502h1M250 502h1M252 500h1M255 495h1M251 508h1M249 512h1M249 505h1M249 500h1M252 496h1M255 501h1M254 502h1M253 501h1M250 514h1M248 512h1M256 501h1M255 504h1M254 498h1M251 499h1M250 521h1M251 499h1M252 509h1M252 502h1M250 498h1M248 497h1M250 511h1M253 496h1M252 496h1M253 500h1M256 498h1M256 498h1M257 503h1M248 509h1M250 499h1M249 510h1M248 506h1M251 505h1M250 496h1M257 504h1M249 525h1M257 497h1M248 503h1M249 506h1M252 505h1M253 507h1M256 503h1M253 499h1M249 496h1M256 497h1M252 498h1M254 502h1M256 500h1M251 504h1M255 516h1M251 513h1M257 528h1M249 499h1M255 510h1M248 499h1M255 507h1M253 497h1M252 496h1M251 500h1M256 503h1M252 498h1M251 504h1M252 497h1M256 502h1M257 502h1M254 500h1M254 516h1M257 504h1M252 496h1M256 499h1M251 496h1M248 499h1M257 506h1M255 504h1M250 497h1M254 496h1M253 501h1M253 496h1M248 501h1M249 504h1M251 503h1M255 503h1M253 497h1M251 526h1M250 498h1M252 502h1M255 498h1M257 496h1M255 502h1M257 497h1M254 519h1M254 496h1M257 523h1M249 510h1M248 496h1M256 506h1M257 503h1M253 498h1M254 512h1M249 506h1M255 496h1M256 497h1M250 496h1M254 497h1M257 495h1M256 507h1M253 502h1M256 504h1M249 508h1M251 502h1M253 514h1M252 511h1M248 499h1M254 503h1M256 497h1M256 508h1M249 497h1M253 525h1M254 500h1M253 509h1M253 502h1M253 517h1M256 510h1M250 503h1M256 506h1M257 515h1M249 501h1M251 497h1M253 528h1M255 496h1M250 499h1M256 500h1M249 502h1M250 496h1M255 506h1M249 502h1M254 507h1M252 496h1M257 498h1M255 500h1M255 499h1M248 500h1M252 508h1M252 504h1M251 506h1M249 512h1M257 496h1M256 508h1M254 496h1M255 507h1M254 522h1M257 503h1M257 497h1M250 501h1M253 520h1M254 503h1M254 519h1M251 506h1M254 500h1M251 497h1M248 499h1M250 496h1M252 499h1M257 508h1M254 510h1M250 496h1M254 497h1M257 500h1M256 498h1M248 503h1M254 498h1M257 524h1M254 527h1M257 497h1M255 506h1M255 499h1M253 503h1M256 496h1M251 498h1M255 496h1M248 496h1M249 500h1M256 499h1M248 504h1M251 502h1M255 500h1M255 503h1M256 507h1M257 506h1M250 501h1M255 508h1M255 510h1M256 502h1M254 496h1M252 506h1M257 511h1M252 498h1M256 504h1M249 496h1M256 502h1M253 507h1M256 498h1M253 497h1M254 500h1M255 496h1M249 499h1M247 500h1M257 512h1M249 510h1M250 498h1M254 498h1M249 496h1M249 497h1M257 496h1M253 497h1M255 495h1M251 506h1M248 500h1M251 501h1M254 496h1M256 498h1M255 497h1M248 497h1M248 498h1M249 496h1M256 501h1M252 501h1M256 496h1M248 504h1M247 501h1M254 511h1M247 500h1M251 502h1M248 507h1M257 502h1M254 510h1M256 509h1M252 496h1M256 510h1M255 498h1M257 503h1M251 508h1M250 498h1M257 496h1M256 499h1M253 505h1M257 497h1M248 501h1M250 500h1M249 496h1M253 496h1M250 499h1M248 509h1M257 496h1M256 497h1M255 496h1M255 517h1M250 497h1M251 511h1M255 497h1M257 506h1M257 524h1M249 506h1M248 497h1M253 498h1M250 499h1M252 515h1M253 502h1M255 497h1M256 507h1M256 500h1M253 496h1M252 504h1M257 514h1M251 507h1M256 522h1M254 499h1M256 496h1M253 500h1M256 503h1M249 497h1M248 507h1M255 499h1M250 502h1M249 501h1M251 498h1M254 498h1M262 502h1M267 497h1M262 498h1M262 501h1M266 497h1M265 500h1M264 501h1M264 497h1M264 500h1M266 503h1M261 496h1M261 505h1M260 506h1M260 498h1M265 496h1M265 499h1M267 502h1M266 499h1M263 505h1M266 505h1M261 500h1M262 498h1M261 506h1M261 499h1M260 505h1M265 496h1M266 509h1M265 496h1M262 498h1M260 504h1M264 499h1M265 498h1M262 496h1M262 511h1M264 506h1M266 504h1M263 523h1M260 500h1M267 505h1M262 510h1M266 506h1M262 505h1M265 510h1M264 517h1M265 497h1M264 497h1M264 499h1M267 499h1M266 510h1M263 503h1M262 499h1M263 505h1M264 497h1M265 501h1M264 500h1M266 504h1M265 501h1M263 500h1M265 500h1M260 497h1M260 496h1M263 499h1M263 497h1M262 500h1M262 498h1M264 507h1M260 496h1M263 513h1M265 499h1M267 505h1M266 510h1M260 497h1M266 499h1M267 496h1M267 503h1M263 510h1M264 500h1M261 508h1M261 498h1M260 496h1M262 496h1M263 499h1M260 500h1M262 498h1M264 499h1M260 517h1M267 498h1M265 502h1M262 502h1M262 498h1M263 496h1M262 529h1M266 499h1M267 499h1M266 499h1M267 500h1M266 497h1M263 499h1M266 512h1M261 500h1M261 496h1M261 496h1M262 500h1M267 504h1M266 499h1M262 500h1M262 496h1M262 517h1M260 501h1M262 507h1M260 501h1M265 500h1M261 513h1M260 516h1M266 513h1M266 499h1M265 501h1M264 499h1M266 498h1M264 496h1M260 513h1M263 499h1M267 506h1M261 502h1M263 503h1M262 498h1M267 503h1M264 505h1M266 497h1M266 501h1M261 498h1M267 510h1M267 501h1M265 499h1M265 502h1M263 526h1M264 496h1M266 496h1M262 500h1M261 500h1M263 501h1M265 505h1M260 498h1M261 499h1M263 511h1M260 509h1M261 506h1M264 496h1M262 500h1M265 523h1M266 496h1M261 504h1M261 502h1M264 502h1M262 515h1M262 499h1M261 498h1M261 504h1M260 498h1M266 511h1M262 506h1M266 504h1M265 507h1M262 499h1M262 498h1M264 502h1M261 496h1M260 497h1M261 503h1M266 502h1M265 500h1M260 506h1M266 497h1M262 505h1M265 497h1M263 499h1M264 509h1M261 499h1M267 497h1M261 508h1M265 501h1M263 496h1M265 498h1M263 517h1M264 499h1M262 498h1M264 506h1M261 495h1M263 497h1M264 497h1M264 501h1M267 499h1M262 499h1M265 498h1M262 505h1M264 496h1M266 496h1M262 502h1M263 507h1M261 504h1M261 496h1M265 507h1M261 496h1M261 502h1M260 520h1M260 506h1M266 499h1M266 497h1M266 502h1M266 508h1M266 511h1M262 496h1M261 506h1M264 501h1M263 496h1M267 502h1M264 501h1M267 501h1M264 508h1M304 506h1M299 496h1M295 503h1M302 498h1M290 506h1M301 502h1M299 499h1M293 496h1M290 508h1M301 502h1M297 501h1M301 496h1M292 497h1M303 501h1M299 498h1M301 508h1M303 507h1M294 519h1M303 502h1M294 503h1M293 496h1M293 499h1M296 502h1M302 504h1M295 501h1M300 503h1M295 499h1M300 504h1M294 497h1M291 496h1M299 510h1M297 496h1M294 497h1M290 503h1M301 510h1M301 498h1M300 498h1M294 507h1M289 503h1M293 501h1M292 497h1M303 500h1M292 504h1M302 501h1M297 509h1M302 500h1M297 497h1M291 522h1M292 502h1M292 496h1M292 500h1M292 516h1M293 515h1M298 514h1M295 496h1M291 496h1M290 496h1M292 501h1M298 497h1M295 506h1M290 505h1M290 496h1M300 502h1M298 498h1M291 502h1M300 514h1M291 499h1M294 496h1M296 503h1M293 497h1M289 498h1M299 498h1M292 497h1M302 495h1M302 507h1M293 502h1M290 505h1M290 523h1M295 503h1M303 514h1M301 503h1M294 501h1M300 498h1M303 503h1M302 497h1M296 501h1M293 502h1M296 499h1M292 501h1M294 498h1M289 500h1M299 497h1M302 497h1M290 496h1M301 497h1M289 505h1M292 499h1M297 498h1M302 500h1M298 504h1M297 506h1M293 497h1M295 510h1M296 501h1M302 510h1M303 505h1M299 500h1M292 511h1M298 524h1M292 516h1M291 506h1M295 510h1M298 498h1M301 497h1M300 503h1M300 511h1M290 512h1M300 508h1M303 503h1M300 501h1M303 501h1M296 496h1M295 496h1M288 501h1M289 496h1M303 497h1M293 506h1M289 511h1M296 496h1M290 498h1M298 501h1M293 496h1M299 498h1M295 500h1M297 518h1M301 513h1M292 504h1M299 507h1M295 516h1M296 512h1M296 506h1M292 497h1M297 503h1M296 510h1M301 500h1M289 499h1M291 509h1M292 504h1M299 500h1M302 499h1M295 519h1M291 505h1M289 498h1M296 516h1M302 508h1M290 502h1M293 496h1M300 509h1M295 502h1M294 499h1M290 506h1M299 498h1M292 501h1M289 516h1M300 502h1M294 497h1M291 504h1M295 499h1M297 497h1M301 503h1M290 499h1M290 501h1M295 497h1M303 505h1M294 503h1M298 496h1M296 503h1M293 499h1M298 504h1M302 497h1M294 512h1M290 496h1M289 498h1M291 499h1M296 498h1M297 505h1M293 497h1M303 500h1M290 496h1M299 500h1M303 506h1M290 507h1M301 503h1M302 508h1M295 498h1M289 496h1M294 496h1M290 500h1M292 522h1M291 502h1M296 500h1M300 520h1M301 496h1M294 500h1M302 505h1M294 506h1M303 496h1M303 496h1M288 496h1M301 498h1M302 503h1M289 523h1M291 519h1M302 502h1M290 496h1M292 497h1M300 497h1M295 496h1M301 499h1M289 506h1M299 501h1M300 499h1M301 509h1M296 507h1M293 502h1M298 496h1M297 509h1M295 503h1M290 527h1M289 504h1M295 509h1M303 517h1M303 515h1M289 496h1M296 504h1M301 509h1M300 501h1M291 497h1M300 499h1M289 504h1M297 505h1M296 498h1M303 501h1M297 504h1M288 497h1M294 519h1M289 519h1M298 500h1M300 512h1M300 496h1M301 499h1M301 501h1M301 496h1M296 510h1M293 510h1M291 502h1M289 506h1M292 505h1M290 500h1M297 497h1M293 505h1M297 503h1M289 507h1M296 503h1M289 515h1M289 502h1M295 498h1M290 498h1M301 497h1M295 513h1M293 511h1M290 499h1M294 496h1M291 502h1M294 495h1M292 498h1M295 502h1M295 510h1M301 505h1M295 516h1M293 500h1M290 500h1M304 527h1M293 500h1M292 501h1M300 498h1M300 497h1M289 524h1M303 503h1M292 498h1M301 497h1M296 497h1M291 513h1M302 503h1M294 497h1M290 496h1M293 496h1M293 497h1M299 505h1M303 497h1M301 510h1M302 504h1M301 510h1M289 507h1M301 518h1M298 500h1M294 502h1M294 500h1M301 505h1M295 505h1M289 507h1M296 499h1M303 498h1M292 527h1M300 498h1M299 513h1M298 498h1M292 501h1M294 506h1M293 496h1M289 520h1M295 505h1M294 497h1M294 503h1M296 500h1M296 500h1M301 497h1M293 496h1M302 498h1M300 496h1M300 496h1M293 499h1M297 509h1M302 506h1M298 515h1M294 499h1M289 501h1M301 496h1M296 504h1M295 498h1M303 507h1M289 498h1M296 500h1M298 499h1M292 497h1M295 511h1M296 497h1M295 497h1M291 502h1M302 510h1M303 515h1M293 496h1M302 514h1M290 497h1M292 508h1M292 497h1M303 497h1M301 519h1M295 499h1M290 499h1M300 498h1M290 505h1M300 497h1M299 500h1M295 499h1M292 528h1M298 504h1M302 504h1M289 497h1M290 496h1M290 504h1M298 499h1M303 496h1M296 523h1M302 511h1M299 505h1M301 496h1M295 500h1M302 522h1M302 507h1M292 497h1M297 496h1M289 520h1M293 501h1M303 497h1M299 502h1M299 507h1M301 506h1M291 500h1M303 512h1M293 497h1M291 511h1M301 518h1M294 507h1M296 502h1M290 504h1M292 515h1M292 507h1M289 508h1M302 503h1M302 500h1M296 519h1M291 496h1M300 497h1M302 504h1M301 507h1M297 504h1M299 505h1M290 497h1M294 506h1M294 499h1M296 498h1M289 496h1M292 502h1M296 498h1M289 502h1M300 503h1M300 496h1M289 497h1M299 502h1M297 496h1M290 498h1M293 496h1M302 512h1M289 512h1M298 503h1M295 496h1M301 498h1M293 497h1M291 496h1M297 496h1M301 523h1M295 496h1M298 520h1M298 499h1M298 500h1M303 496h1M302 499h1M301 498h1M298 496h1M295 500h1M294 500h1M289 510h1M300 503h1M299 500h1M297 513h1M297 496h1M291 496h1M301 499h1M295 499h1M290 499h1M298 514h1M295 514h1M295 498h1M303 497h1M301 496h1M299 501h1M302 496h1M289 503h1M289 496h1M291 510h1M290 505h1M298 505h1M296 499h1M298 498h1M303 496h1M302 499h1M301 510h1M303 495h1M290 507h1M293 508h1M299 507h1M303 496h1M289 522h1M300 505h1M289 509h1M299 500h1M303 496h1M294 507h1M321 503h1M330 500h1M321 496h1M331 499h1M326 509h1M326 519h1M325 497h1M326 518h1M321 496h1M322 499h1M325 509h1M328 517h1M326 506h1M331 504h1M327 499h1M323 508h1M333 497h1M331 510h1M330 500h1M334 499h1M326 500h1M325 498h1M322 504h1M330 507h1M329 507h1M333 498h1M324 504h1M325 504h1M331 498h1M329 501h1M331 497h1M324 497h1M321 505h1M326 509h1M334 496h1M327 500h1M328 500h1M324 506h1M333 501h1M332 506h1M324 497h1M330 505h1M332 502h1M328 508h1M330 501h1M326 501h1M328 500h1M333 498h1M325 496h1M321 497h1M331 513h1M330 509h1M324 496h1M334 497h1M325 504h1M323 496h1M331 527h1M334 497h1M324 497h1M330 516h1M329 499h1M332 510h1M327 496h1M332 499h1M321 499h1M328 496h1M321 507h1M325 499h1M331 515h1M332 495h1M333 502h1M329 497h1M332 498h1M324 500h1M334 498h1M328 505h1M334 496h1M329 513h1M321 501h1M324 500h1M332 499h1M333 507h1M323 506h1M326 499h1M332 502h1M321 499h1M321 499h1M330 497h1M328 496h1M329 497h1M324 503h1M326 500h1M328 496h1M321 500h1M327 497h1M329 501h1M324 496h1M333 508h1M323 498h1M333 497h1M330 497h1M329 508h1M331 505h1M327 503h1M328 510h1M329 507h1M327 498h1M326 503h1M322 501h1M332 498h1M322 512h1M330 497h1M322 514h1M326 498h1M327 498h1M334 496h1M326 517h1M323 504h1M333 497h1M328 510h1M324 499h1M329 500h1M330 520h1M329 516h1M325 496h1M332 497h1M333 511h1M334 504h1M327 513h1M327 509h1M323 504h1M331 496h1M326 500h1M321 499h1M334 520h1M324 498h1M328 504h1M328 501h1M331 517h1M330 509h1M330 500h1M333 517h1M333 501h1M329 501h1M322 500h1M332 497h1M327 497h1M332 502h1M324 502h1M321 498h1M326 497h1M326 496h1M323 504h1M329 498h1M330 498h1M327 497h1M324 504h1M330 496h1M332 497h1M322 497h1M330 500h1M325 496h1M331 511h1M321 503h1M323 503h1M333 505h1M326 506h1M321 503h1M324 498h1M331 524h1M322 498h1M326 495h1M330 496h1M331 501h1M328 498h1M327 504h1M334 497h1M323 498h1M334 500h1M329 500h1M327 512h1M325 499h1M326 500h1M324 500h1M328 496h1M328 496h1M327 499h1M325 503h1M328 503h1M321 497h1M324 502h1M328 502h1M334 499h1M324 529h1M322 513h1M328 508h1M325 503h1M325 505h1M329 498h1M332 497h1M329 497h1M324 503h1M323 505h1M333 512h1M323 501h1M334 501h1M327 501h1M326 497h1M324 509h1M333 499h1M328 496h1M323 501h1M332 501h1M328 495h1M333 499h1M326 501h1M326 497h1M328 497h1M326 509h1M332 517h1M328 501h1M321 513h1M331 523h1M326 500h1M333 498h1M322 498h1M324 506h1M334 496h1M333 496h1M334 513h1M324 499h1M329 509h1M332 499h1M326 507h1M328 496h1M330 496h1M328 499h1M326 496h1M321 496h1M334 502h1M330 499h1M332 514h1M322 514h1M323 500h1M333 510h1M323 501h1M322 500h1M325 506h1M333 502h1M323 496h1M325 499h1M333 513h1M321 512h1M327 512h1M331 501h1M323 498h1M327 507h1M330 503h1M326 497h1M325 500h1M324 503h1M329 503h1M321 496h1M332 501h1M334 504h1M331 496h1M322 505h1M323 506h1M323 496h1M324 499h1M325 496h1M321 508h1M323 508h1M327 515h1M331 503h1M323 500h1M329 496h1M321 497h1M328 498h1M322 504h1M332 504h1M329 504h1M331 508h1M322 498h1M322 502h1M327 505h1M325 504h1M333 499h1M325 496h1M321 496h1M331 496h1M322 498h1M330 499h1M323 497h1M324 506h1M329 498h1M329 504h1M330 502h1M323 514h1M327 507h1M327 499h1M322 509h1M328 499h1M323 500h1M330 497h1M320 508h1M334 514h1M321 503h1M321 497h1M332 502h1M328 500h1M326 496h1M323 509h1M331 497h1M330 499h1M331 500h1M324 526h1M328 502h1M333 496h1M331 506h1M327 512h1M334 518h1M329 500h1M323 498h1M325 508h1M328 503h1M333 499h1M323 514h1M328 505h1M324 501h1M332 500h1M329 498h1M330 502h1M325 497h1M322 497h1M328 515h1M331 497h1M333 499h1M322 520h1M327 517h1M323 511h1M324 499h1M326 504h1M334 499h1M330 505h1M327 521h1M325 496h1M328 499h1M332 499h1M326 498h1M323 513h1M331 501h1M322 505h1M324 498h1M324 501h1M325 499h1M325 496h1M323 496h1M320 500h1M330 519h1M324 503h1M333 506h1M329 517h1M328 497h1M329 510h1M330 508h1M329 500h1M322 502h1M330 504h1M331 507h1M329 510h1M328 502h1M331 507h1M334 505h1M329 517h1M322 504h1M323 498h1M327 504h1M326 503h1M327 497h1M322 497h1M326 503h1M325 500h1M332 499h1M323 500h1M332 496h1M323 517h1M327 505h1M323 500h1M325 512h1M332 503h1M325 510h1M326 509h1M328 497h1M332 498h1M322 496h1M327 498h1M321 497h1M321 501h1M325 514h1M333 499h1M321 511h1M321 499h1M321 501h1M326 501h1M332 509h1M326 499h1M327 517h1M324 499h1M325 496h1M328 503h1M333 513h1M329 516h1M327 497h1M332 498h1M327 498h1M331 498h1M321 500h1M334 496h1M334 501h1M320 496h1M328 509h1M330 496h1M330 504h1M326 501h1M333 516h1M323 507h1M326 511h1M323 507h1M330 497h1M321 497h1M325 496h1M329 505h1M326 498h1M357 495h1M350 515h1M356 500h1M362 497h1M356 505h1M350 497h1M357 496h1M360 501h1M355 501h1M359 499h1M357 505h1M359 496h1M354 499h1M359 503h1M352 521h1M360 497h1M357 505h1M356 496h1M352 499h1M352 500h1M352 500h1M361 521h1M352 510h1M350 501h1M362 496h1M358 501h1M362 499h1M351 498h1M361 501h1M360 517h1M351 501h1M357 502h1M361 497h1M352 519h1M353 519h1M357 496h1M351 507h1M357 502h1M361 506h1M352 498h1M353 500h1M356 496h1M360 496h1M353 496h1M361 501h1M351 502h1M357 499h1M358 497h1M357 508h1M356 528h1M361 509h1M361 497h1M351 498h1M360 512h1M362 498h1M353 504h1M357 497h1M355 508h1M359 498h1M355 505h1M360 510h1M353 513h1M360 496h1M351 506h1M357 497h1M353 499h1M359 509h1M359 502h1M354 498h1M359 498h1M357 501h1M361 507h1M351 505h1M351 524h1M358 502h1M352 502h1M352 509h1M361 503h1M356 497h1M350 508h1M354 516h1M359 509h1M357 501h1M350 499h1M351 511h1M352 505h1M362 495h1M350 510h1M361 505h1M359 514h1M361 500h1M359 506h1M350 514h1M356 498h1M358 516h1M356 519h1M361 500h1M353 500h1M361 495h1M350 507h1M359 496h1M356 495h1M359 501h1M360 524h1M350 516h1M356 498h1M355 498h1M358 510h1M361 511h1M352 497h1M361 497h1M360 511h1M356 508h1M355 503h1M354 499h1M360 518h1M355 507h1M350 511h1M358 503h1M359 511h1M356 496h1M358 500h1M360 496h1M356 497h1M357 496h1M361 500h1M352 510h1M361 508h1M359 504h1M359 501h1M350 498h1M354 497h1M353 506h1M360 506h1M351 496h1M360 512h1M353 511h1M353 505h1M360 496h1M362 516h1M362 503h1M352 499h1M359 502h1M356 499h1M357 499h1M356 498h1M361 497h1M356 517h1M360 528h1M353 500h1M350 496h1M359 497h1M350 508h1M352 496h1M357 496h1M354 501h1M350 496h1M351 501h1M353 498h1M362 501h1M355 502h1M361 505h1M358 496h1M360 504h1M359 496h1M350 496h1M352 499h1M356 502h1M352 503h1M357 503h1M356 513h1M360 511h1M355 496h1M350 506h1M361 501h1M361 500h1M358 513h1M357 505h1M358 523h1M357 498h1M353 495h1M360 498h1M356 506h1M356 497h1M350 505h1M358 496h1M359 501h1M357 499h1M359 504h1M350 498h1M361 499h1M362 506h1M356 502h1M353 496h1M353 497h1M360 504h1M361 496h1M362 498h1M356 498h1M357 505h1M356 506h1M361 497h1M357 497h1M358 501h1M351 496h1M357 513h1M352 498h1M357 504h1M360 504h1M351 498h1M352 501h1M357 498h1M354 499h1M355 499h1M357 499h1M357 521h1M350 503h1M359 516h1M357 497h1M362 505h1M355 497h1M354 500h1M357 496h1M353 497h1M352 500h1M357 498h1M354 503h1M354 508h1M357 505h1M354 505h1M361 498h1M362 500h1M360 518h1M355 497h1M353 495h1M351 505h1M360 497h1M360 498h1M361 502h1M353 503h1M358 497h1M356 510h1M351 497h1M355 499h1M352 497h1M358 501h1M357 497h1M353 497h1M360 498h1M352 504h1M355 496h1M355 499h1M357 498h1M358 499h1M354 496h1M350 511h1M356 499h1M353 500h1M362 500h1M358 498h1M353 508h1M357 508h1M352 496h1M359 499h1M353 504h1M351 496h1M350 497h1M361 500h1M360 510h1M357 512h1M360 503h1M358 501h1M351 499h1M353 500h1M362 500h1M357 503h1M354 498h1M361 496h1M355 513h1M361 497h1M352 498h1M351 502h1M355 508h1M359 498h1M354 513h1M355 499h1M359 504h1M362 500h1M356 500h1M362 499h1M355 498h1M356 502h1M354 498h1M352 508h1M355 499h1M359 502h1M350 499h1M359 503h1M357 499h1M362 499h1M354 506h1M351 499h1M359 500h1M356 498h1M360 504h1M352 501h1M359 496h1M350 528h1M356 501h1M361 507h1M358 496h1M361 520h1M359 496h1M356 501h1M351 509h1M359 496h1M354 510h1M358 507h1M358 497h1M362 496h1M357 518h1M359 508h1M352 499h1M357 495h1M361 500h1M361 510h1M351 497h1M360 508h1M362 501h1M359 502h1M354 501h1M358 502h1M350 518h1M350 498h1M350 497h1M376 509h1M377 511h1M377 510h1M377 503h1M376 499h1M377 502h1M376 496h1M377 497h1M377 498h1M375 501h1M376 517h1M377 505h1M376 500h1M376 501h1M375 500h1M376 513h1M378 496h1M375 497h1M378 510h1M377 501h1M376 526h1M375 498h1M375 498h1M376 506h1M375 499h1M375 505h1M375 511h1M375 501h1M377 496h1M375 499h1M378 501h1M376 505h1M377 506h1M375 497h1M377 499h1M377 495h1M378 498h1M375 516h1M378 496h1M378 525h1M378 505h1M376 521h1M375 503h1M377 504h1M377 496h1M377 497h1M376 504h1M375 501h1M375 514h1M376 498h1M378 496h1M375 500h1M375 510h1M378 499h1M376 499h1M376 496h1M375 526h1M375 498h1M378 501h1M378 501h1M376 500h1M377 504h1M376 497h1M376 498h1M376 497h1M377 498h1M378 511h1M376 498h1M378 496h1M377 504h1M376 501h1M377 511h1M376 496h1M376 506h1M377 503h1M376 498h1M376 496h1M377 518h1M375 496h1M376 509h1M375 501h1M378 522h1M376 499h1M377 505h1M375 502h1M376 496h1M375 505h1M376 512h1M377 495h1M376 496h1M375 497h1M377 508h1M375 499h1M376 504h1M378 501h1M376 512h1M375 520h1M376 511h1M377 496h1M377 496h1M378 513h1M375 502h1M377 508h1M377 497h1M378 496h1M376 497h1M376 498h1M376 501h1M378 502h1M375 521h1M376 506h1M376 496h1M376 499h1M384 516h1M381 523h1M385 509h1M381 515h1M382 499h1M384 498h1M385 499h1M382 505h1M382 503h1M384 504h1M383 505h1M385 514h1M383 498h1M384 506h1M383 499h1M382 499h1M383 504h1M380 502h1M382 519h1M383 498h1M384 505h1M383 502h1M380 496h1M381 496h1M383 503h1M385 496h1M380 510h1M383 497h1M384 500h1M383 496h1M383 502h1M383 496h1M383 522h1M384 511h1M383 496h1M385 498h1M382 496h1M380 502h1M385 506h1M382 495h1M385 515h1M382 497h1M383 507h1M382 495h1M380 514h1M383 497h1M381 496h1M385 498h1M383 509h1M385 497h1M383 521h1M381 498h1M385 503h1M384 528h1M380 514h1M380 508h1M383 496h1M381 506h1M384 502h1M382 502h1M384 498h1M381 496h1M381 496h1M381 508h1M380 514h1M380 517h1M380 510h1M384 511h1M381 507h1M380 523h1M384 500h1M384 514h1M384 496h1M383 504h1M382 497h1M380 500h1M380 498h1M382 511h1M382 501h1M381 503h1M385 496h1M384 496h1M385 498h1M383 506h1M383 497h1M384 502h1M383 496h1M380 497h1M382 503h1M384 515h1M384 502h1M384 496h1M384 503h1M384 497h1M384 504h1M383 505h1M383 526h1M385 496h1M382 510h1M382 502h1M382 514h1M381 510h1M383 496h1M380 497h1M380 496h1M385 496h1M382 503h1M382 497h1M383 501h1M384 508h1M383 496h1M383 499h1M383 497h1M381 496h1M384 497h1M385 507h1M384 519h1M383 503h1M385 513h1M382 498h1M384 496h1M384 496h1M383 496h1M383 496h1M381 502h1M382 496h1M381 525h1M384 515h1M385 499h1M384 504h1M383 498h1M381 497h1M381 506h1M382 517h1M381 511h1M383 496h1M382 501h1M384 496h1M384 496h1M381 498h1M382 501h1M381 497h1M384 505h1M385 501h1M385 496h1M381 497h1M384 501h1M384 510h1M381 501h1M385 499h1M380 499h1M383 507h1M381 500h1M383 496h1M384 502h1M383 497h1M384 496h1M381 508h1M380 495h1M384 518h1M384 526h1M383 499h1M382 500h1M381 496h1M383 503h1M381 498h1M385 517h1M382 506h1M383 506h1M382 506h1M384 496h1M383 505h1M400 501h1M405 496h1M404 509h1M407 503h1M406 498h1M401 499h1M400 504h1M404 519h1M403 507h1M402 498h1M401 503h1M399 498h1M400 496h1M401 500h1M406 496h1M398 502h1M401 517h1M405 498h1M405 507h1M404 496h1M402 505h1M399 499h1M401 498h1M405 508h1M399 495h1M401 515h1M401 499h1M404 496h1M398 500h1M405 497h1M404 522h1M399 500h1M403 496h1M399 499h1M403 496h1M399 499h1M407 505h1M404 496h1M399 512h1M406 497h1M407 513h1M402 497h1M405 497h1M404 504h1M405 501h1M399 520h1M401 513h1M402 506h1M401 496h1M403 498h1M404 497h1M401 499h1M403 497h1M403 509h1M400 498h1M406 503h1M405 498h1M404 516h1M402 505h1M402 511h1M407 506h1M406 510h1M405 503h1M403 499h1M400 501h1M407 498h1M398 497h1M400 497h1M407 505h1M404 497h1M400 501h1M402 503h1M398 523h1M399 506h1M405 498h1M399 496h1M401 502h1M399 503h1M404 504h1M399 504h1M400 509h1M399 497h1M398 498h1M399 499h1M401 502h1M401 498h1M403 499h1M399 499h1M397 495h1M400 498h1M399 497h1M406 524h1M399 503h1M399 496h1M399 497h1M399 497h1M398 497h1M398 497h1M404 496h1M406 497h1M403 499h1M399 527h1M400 504h1M406 501h1M400 506h1M403 497h1M404 499h1M403 511h1M405 505h1M399 500h1M403 496h1M406 497h1M400 496h1M398 499h1M400 515h1M404 506h1M407 498h1M399 498h1M407 498h1M400 496h1M400 504h1M403 501h1M404 504h1M400 497h1M406 501h1M405 499h1M402 503h1M399 507h1M405 497h1M407 499h1M403 499h1M404 499h1M403 496h1M400 504h1M398 515h1M402 501h1M398 497h1M401 502h1M401 499h1M407 496h1M406 506h1M406 497h1M404 507h1M403 497h1M407 505h1M399 509h1M404 500h1M406 503h1M400 512h1M404 498h1M404 509h1M406 499h1M399 504h1M403 509h1M407 502h1M401 496h1M403 496h1M400 527h1M406 498h1M401 502h1M404 500h1M405 510h1M407 509h1M405 497h1M402 495h1M398 496h1M406 499h1M403 500h1M403 497h1M400 497h1M401 499h1M401 504h1M402 503h1M407 513h1M400 502h1M401 498h1M404 519h1M407 509h1M399 506h1M403 499h1M407 503h1M397 500h1M405 501h1M403 498h1M398 504h1M406 497h1M401 497h1M401 507h1M403 503h1M404 506h1M401 509h1M403 509h1M402 496h1M407 497h1M404 516h1M398 497h1M403 498h1M406 498h1M402 517h1M401 503h1M405 497h1M402 501h1M402 508h1M402 497h1M398 502h1M404 507h1M400 501h1M399 502h1M407 501h1M402 506h1M401 496h1M398 498h1M398 496h1M403 522h1M407 498h1M398 499h1M402 524h1M407 496h1M400 506h1M401 513h1M406 507h1M407 508h1M398 496h1M402 501h1M404 517h1M403 501h1M406 497h1M400 507h1M400 498h1M401 500h1M405 497h1M398 502h1M400 508h1M403 508h1M399 501h1M398 496h1M401 505h1M405 505h1M403 525h1M398 498h1M400 502h1M407 503h1M405 496h1M407 504h1M398 499h1M407 497h1M398 512h1M406 497h1M406 501h1M401 506h1M400 500h1M405 503h1M402 510h1M403 497h1M406 511h1M407 496h1M407 528h1M398 497h1M403 501h1M407 509h1M404 503h1M399 514h1M401 496h1M399 509h1M400 496h1M399 504h1M406 500h1M401 503h1M399 497h1M402 500h1M404 510h1M399 511h1M398 496h1M402 498h1M397 503h1M403 496h1M399 498h1M405 511h1M398 500h1M401 510h1M404 508h1M402 496h1M406 496h1M402 498h1M404 517h1M401 496h1M403 503h1M403 499h1M406 501h1M406 496h1M405 497h1M406 499h1M402 501h1M404 509h1M404 523h1M401 497h1M403 495h1M407 512h1M421 499h1M421 504h1M422 499h1M424 497h1M422 514h1M424 503h1M423 496h1M421 502h1M423 501h1M424 502h1M422 498h1M422 497h1M423 501h1M422 499h1M421 497h1M421 497h1M421 497h1M424 496h1M421 510h1M423 500h1M422 508h1M424 498h1M421 496h1M421 499h1M421 508h1M422 502h1M422 510h1M423 502h1M424 499h1M424 519h1M424 501h1M423 504h1M423 496h1M422 507h1M422 509h1M422 508h1M423 497h1M421 498h1M424 496h1M421 504h1M422 496h1M422 501h1M423 499h1M421 507h1M424 498h1M422 515h1M424 497h1M423 505h1M422 496h1M423 500h1M423 496h1M421 516h1M422 498h1M424 502h1M423 499h1M422 508h1M424 498h1M423 503h1M424 504h1M424 498h1M424 497h1M422 502h1M424 500h1M424 520h1M424 495h1M422 497h1M423 496h1M421 497h1M423 496h1M422 504h1M421 514h1M422 497h1M424 502h1M423 502h1M423 498h1M423 496h1M424 502h1M422 510h1M423 510h1M422 502h1M421 499h1M424 501h1M424 496h1M421 496h1M421 497h1M422 506h1M423 500h1M423 521h1M422 499h1M422 501h1M421 503h1M423 507h1M424 502h1M421 501h1M423 502h1M421 505h1M422 517h1M421 499h1M421 497h1M421 498h1M423 499h1M423 516h1M423 515h1M422 517h1M424 522h1M421 496h1M422 502h1M423 501h1M423 500h1M423 497h1M422 503h1M423 497h1M421 500h1M421 504h1M424 506h1M424 499h1M424 501h1M421 507h1M422 503h1M422 505h1M422 512h1M423 512h1M421 496h1M423 498h1M422 509h1M427 508h1M426 498h1M426 510h1M427 507h1M429 503h1M430 502h1M427 501h1M427 511h1M426 503h1M429 501h1M430 500h1M427 503h1M430 502h1M427 499h1M429 498h1M429 514h1M427 513h1M426 507h1M426 504h1M428 496h1M427 498h1M427 499h1M426 498h1M428 495h1M429 510h1M430 500h1M428 502h1M428 497h1M430 507h1M427 497h1M429 496h1M427 500h1M427 497h1M427 497h1M427 498h1M426 497h1M428 505h1M429 496h1M428 500h1M428 501h1M427 508h1M429 497h1M428 509h1M430 508h1M429 500h1M430 495h1M427 508h1M430 506h1M429 501h1M430 499h1M427 504h1M429 506h1M429 503h1M427 497h1M429 499h1M428 499h1M427 504h1M427 498h1M429 506h1M428 501h1M428 504h1M426 496h1M427 499h1M428 515h1M430 507h1M426 498h1M429 505h1M428 506h1M426 497h1M428 504h1M427 496h1M430 500h1M430 504h1M427 518h1M427 510h1M427 512h1M427 500h1M426 503h1M427 502h1M426 507h1M427 501h1M429 501h1M428 499h1M428 512h1M429 507h1M428 500h1M428 500h1M430 499h1M429 500h1M429 501h1M427 500h1M427 497h1M427 496h1M427 496h1M427 503h1M430 498h1M430 496h1M426 522h1M428 501h1M429 503h1M429 505h1M428 497h1M427 499h1M427 508h1M427 498h1M427 509h1M429 498h1M429 499h1M427 498h1M430 499h1M430 511h1M427 515h1M427 507h1M427 514h1M427 499h1M428 515h1M427 498h1M429 514h1M427 496h1M426 499h1M429 500h1M427 498h1M428 501h1M428 511h1M426 498h1M430 501h1M426 500h1M428 498h1M428 507h1M427 510h1M426 508h1M429 499h1M428 497h1M429 501h1M428 496h1M427 503h1M427 508h1M428 511h1M428 498h1M426 506h1M427 524h1M426 508h1M430 496h1M429 497h1M428 500h1M427 515h1M426 503h1M429 498h1M440 504h1M442 510h1M441 496h1M443 497h1M439 506h1M441 504h1M442 529h1M443 501h1M444 503h1M444 501h1M439 502h1M443 507h1M440 500h1M442 496h1M443 498h1M440 501h1M443 518h1M441 508h1M440 497h1M442 507h1M444 499h1M443 506h1M442 497h1M441 496h1M440 511h1M440 502h1M442 508h1M444 500h1M440 509h1M442 516h1M445 498h1M444 496h1M445 506h1M439 499h1M443 497h1M440 509h1M441 496h1M440 496h1M444 496h1M441 517h1M441 498h1M443 519h1M445 499h1M439 511h1M441 510h1M441 502h1M443 510h1M442 496h1M440 501h1M440 502h1M441 501h1M445 513h1M439 499h1M442 503h1M439 502h1M444 497h1M442 518h1M445 500h1M441 509h1M441 498h1M439 503h1M440 497h1M441 496h1M444 498h1M440 500h1M441 504h1M439 496h1M441 501h1M442 524h1M444 497h1M439 502h1M439 512h1M439 508h1M443 501h1M444 501h1M444 498h1M443 496h1M440 496h1M441 499h1M441 500h1M443 498h1M442 497h1M439 501h1M443 497h1M442 502h1M440 511h1M443 500h1M439 499h1M440 495h1M444 506h1M444 496h1M441 506h1M443 527h1M439 496h1M439 513h1M440 497h1M440 496h1M440 502h1M443 496h1M440 505h1M445 497h1M443 519h1M443 499h1M444 513h1M445 511h1M439 522h1M443 498h1M440 504h1M439 512h1M439 510h1M443 521h1M443 506h1M441 503h1M439 497h1M442 498h1M444 496h1M443 501h1M441 506h1M439 501h1M443 500h1M439 504h1M439 507h1M439 501h1M440 496h1M439 504h1M442 500h1M441 514h1M445 496h1M444 496h1M439 497h1M442 503h1M441 502h1M440 507h1M442 500h1M443 518h1M442 498h1M439 497h1M441 511h1M441 502h1M445 498h1M441 496h1M441 507h1M439 501h1M439 514h1M442 506h1M442 496h1M442 501h1M440 500h1M439 496h1M443 496h1M440 501h1M439 497h1M441 497h1M440 500h1M439 516h1M443 502h1M441 499h1M441 501h1M442 504h1M439 496h1M442 496h1M444 499h1M443 517h1M442 517h1M439 504h1M441 505h1M439 503h1M439 496h1M439 497h1M442 500h1M439 504h1M444 528h1M444 496h1M444 495h1M439 513h1M442 515h1M445 509h1M439 501h1M440 499h1M441 508h1M443 495h1M441 498h1M439 498h1M443 504h1M442 499h1M441 496h1M443 496h1M442 504h1M442 503h1M440 501h1M443 501h1M440 500h1M440 512h1M443 500h1M456 506h1M456 496h1M455 513h1M454 509h1M457 514h1M457 503h1M454 503h1M454 496h1M454 502h1M459 523h1M456 498h1M459 518h1M456 525h1M456 509h1M456 514h1M457 497h1M458 497h1M456 523h1M454 496h1M457 505h1M456 500h1M455 497h1M459 505h1M457 504h1M459 510h1M453 497h1M458 511h1M458 508h1M459 501h1M459 497h1M459 511h1M456 503h1M460 500h1M453 496h1M459 517h1M453 501h1M454 509h1M455 499h1M453 501h1M455 510h1M458 498h1M455 500h1M459 499h1M457 506h1M458 520h1M454 507h1M458 500h1M457 497h1M458 510h1M460 498h1M456 507h1M455 500h1M459 496h1M455 500h1M457 513h1M453 500h1M456 516h1M456 502h1M459 497h1M456 498h1M457 524h1M456 510h1M459 511h1M459 506h1M454 510h1M455 497h1M454 498h1M455 504h1M458 497h1M458 506h1M456 506h1M457 501h1M455 502h1M459 497h1M457 502h1M455 496h1M454 512h1M457 495h1M455 501h1M458 500h1M456 497h1M458 498h1M458 499h1M458 497h1M458 499h1M455 521h1M458 508h1M456 496h1M454 500h1M460 511h1M455 498h1M457 511h1M458 510h1M455 508h1M454 498h1M457 503h1M455 501h1M456 497h1M458 502h1M459 500h1M455 497h1M455 496h1M454 500h1M455 503h1M456 508h1M455 504h1M455 497h1M454 503h1M455 498h1M457 497h1M455 500h1M458 497h1M454 508h1M457 512h1M456 504h1M455 502h1M458 498h1M458 506h1M457 508h1M456 496h1M453 498h1M454 496h1M459 498h1M455 506h1M459 496h1M459 509h1M455 496h1M458 495h1M458 495h1M455 500h1M456 506h1M459 502h1M457 496h1M454 498h1M459 500h1M457 503h1M460 503h1M457 496h1M456 496h1M454 496h1M458 504h1M459 512h1M459 521h1M457 498h1M454 504h1M458 497h1M455 523h1M455 510h1M455 496h1M457 503h1M454 498h1M455 503h1M455 499h1M459 509h1M458 496h1M458 511h1M458 510h1M455 496h1M456 501h1M457 502h1M455 497h1M455 497h1M455 499h1M458 504h1M459 506h1M454 509h1M458 500h1M459 502h1M453 503h1M457 498h1M456 496h1M454 495h1M458 499h1M458 496h1M458 526h1M458 501h1M454 499h1M456 498h1M453 510h1M459 498h1M460 500h1M459 498h1M459 502h1M458 509h1M454 502h1M458 502h1M459 498h1M458 497h1M454 500h1M457 503h1M459 496h1M467 498h1M467 510h1M469 504h1M467 506h1M467 515h1M469 499h1M468 500h1M468 506h1M468 508h1M467 512h1M470 496h1M469 503h1M469 502h1M468 502h1M470 496h1M468 498h1M469 498h1M468 501h1M470 498h1M471 497h1M469 503h1M468 496h1M470 518h1M469 497h1M471 498h1M469 511h1M469 503h1M470 508h1M469 501h1M468 516h1M469 502h1M468 506h1M467 496h1M467 501h1M470 510h1M469 496h1M469 497h1M467 504h1M467 507h1M470 498h1M467 497h1M471 497h1M468 498h1M470 496h1M469 498h1M470 496h1M469 500h1M468 497h1M469 502h1M467 496h1M467 497h1M467 502h1M467 501h1M468 499h1M469 501h1M467 504h1M470 498h1M470 495h1M468 497h1M469 503h1M468 499h1M470 507h1M467 496h1M468 496h1M469 497h1M469 515h1M468 495h1M468 496h1M469 500h1M467 503h1M468 502h1M468 495h1M468 498h1M467 516h1M470 501h1M470 501h1M470 507h1M469 515h1M467 497h1M468 511h1M469 499h1M468 507h1M468 499h1M471 497h1M469 498h1M468 496h1M470 497h1M471 496h1M469 496h1M468 497h1M470 512h1M470 499h1M468 502h1M468 503h1M467 523h1M467 499h1M468 509h1M470 498h1M471 496h1M470 506h1M467 504h1M470 500h1M470 503h1M468 500h1M468 496h1M470 496h1M468 529h1M469 512h1M470 511h1M468 501h1M469 498h1M471 496h1M467 515h1M469 499h1M471 506h1M468 496h1M468 519h1M469 496h1M469 498h1M469 496h1M468 503h1M470 512h1M468 500h1M468 522h1M467 497h1M467 496h1M470 513h1M468 497h1M468 496h1M470 518h1M469 496h1M470 523h1M468 501h1M470 525h1M470 503h1M479 501h1M478 500h1M480 496h1M478 496h1M479 525h1M479 503h1M479 511h1M479 497h1M478 504h1M478 515h1M480 498h1M480 502h1M480 508h1M478 504h1M478 503h1M480 498h1M480 515h1M479 500h1M478 501h1M478 505h1M480 513h1M480 503h1M478 518h1M479 517h1M478 512h1M479 519h1M480 503h1M479 496h1M480 497h1M478 504h1M479 517h1M478 496h1M479 499h1M479 507h1M478 504h1M479 512h1M479 506h1M479 498h1M479 515h1M479 498h1M479 504h1M480 496h1M479 497h1M480 497h1M480 515h1M479 496h1M480 509h1M480 502h1M478 501h1M478 498h1M478 510h1M479 504h1M478 499h1M480 498h1M478 505h1M479 503h1M479 496h1M480 496h1M479 511h1M480 500h1M480 498h1M478 505h1M480 509h1M478 497h1M478 497h1M480 500h1M478 513h1M478 498h1M479 502h1M480 496h1M479 502h1M479 498h1M479 499h1M478 500h1M480 510h1M478 501h1M479 497h1M479 499h1M479 500h1M479 508h1M480 508h1M478 500h1M478 499h1M479 496h1M478 497h1M478 497h1M478 498h1M478 496h1M480 516h1M478 499h1M478 510h1M478 500h1M480 500h1M479 506h1M480 506h1M478 497h1M479 507h1M479 497h1M478 513h1M479 497h1M480 502h1M478 503h1"/><path stroke="#2276bd" stroke-width="1" transform="translate(0 0.5)" d="M280 494h1M271 496h1M274 490h1M284 502h1M285 502h1M276 511h1M273 493h1M277 500h1M270 491h1M286 491h1M282 496h1M287 507h1M277 497h1M282 493h1M279 504h1M279 491h1M270 493h1M287 504h1M274 495h1M287 496h1M274 497h1M272 497h1M270 497h1M270 491h1M283 496h1M271 495h1M285 494h1M274 496h1M285 498h1M277 499h1M275 513h1M274 492h1M278 504h1M283 499h1M268 504h1M286 492h1M272 492h1M271 492h1M278 500h1M277 497h1M281 505h1M287 501h1M278 491h1M274 492h1M287 501h1M271 494h1M276 499h1M287 494h1M282 495h1M285 496h1M283 498h1M282 502h1M276 495h1M280 501h1M280 494h1M278 496h1M276 494h1M270 491h1M271 491h1M275 519h1M276 511h1M281 513h1M281 517h1M284 491h1M268 517h1M275 499h1M286 526h1M278 494h1M280 500h1M270 504h1M268 495h1M284 509h1M285 507h1M277 495h1M277 496h1M273 494h1M277 491h1M279 491h1M279 491h1M272 496h1M283 527h1M283 505h1M277 496h1M279 519h1M284 491h1M281 501h1M285 513h1M276 495h1M273 492h1M285 502h1M284 494h1M283 491h1M278 494h1M274 528h1M268 516h1M276 510h1M279 498h1M280 493h1M280 492h1M269 501h1M269 512h1M273 511h1M274 501h1M275 500h1M272 493h1M273 524h1M285 494h1M287 513h1M271 498h1M272 494h1M274 493h1M279 492h1M275 492h1M273 503h1M274 519h1M270 491h1M273 496h1M274 495h1M283 499h1M273 508h1M275 497h1M275 502h1M279 496h1M272 491h1M273 506h1M286 495h1M270 492h1M286 492h1M276 491h1M278 494h1M287 524h1M278 505h1M281 496h1M283 491h1M272 505h1M278 500h1M280 506h1M273 492h1M274 507h1M278 502h1M283 494h1M282 503h1M278 497h1M277 495h1M272 498h1M285 493h1M276 494h1M274 512h1M282 491h1M278 494h1M275 491h1M280 494h1M281 491h1M278 495h1M280 491h1M283 497h1M273 492h1M284 491h1M279 493h1M275 519h1M271 492h1M269 494h1M270 491h1M281 514h1M272 498h1M287 492h1M271 496h1M269 498h1M284 508h1M271 497h1M278 495h1M272 498h1M271 500h1M270 490h1M285 494h1M276 496h1M277 491h1M284 522h1M274 493h1M274 499h1M278 497h1M280 493h1M278 497h1M280 499h1M287 492h1M278 498h1M271 494h1M273 497h1M282 493h1M277 492h1M285 494h1M275 492h1M285 512h1M269 495h1M276 493h1M281 505h1M275 524h1M280 493h1M281 492h1M276 498h1M272 491h1M276 507h1M272 496h1M280 492h1M275 507h1M283 497h1M280 490h1M273 494h1M269 495h1M280 500h1M280 496h1M284 493h1M274 493h1M274 507h1M277 511h1M278 494h1M280 491h1M277 494h1M278 495h1M281 499h1M268 497h1M276 494h1M272 504h1M272 493h1M275 511h1M277 492h1M272 493h1M284 490h1M273 501h1M270 498h1M284 496h1M282 497h1M285 519h1M280 501h1M282 505h1M276 499h1M276 507h1M284 494h1M279 526h1M282 493h1M277 491h1M273 504h1M272 498h1M283 516h1M276 491h1M276 499h1M283 507h1M270 495h1M282 493h1M284 524h1M275 498h1M269 500h1M286 503h1M275 512h1M268 497h1M270 495h1M274 492h1M285 504h1M279 492h1M278 493h1M279 500h1M286 493h1M273 492h1M286 504h1M275 495h1M284 498h1M279 495h1M280 490h1M272 506h1M286 497h1M281 495h1M275 498h1M283 510h1M273 495h1M277 502h1M285 520h1M281 498h1M271 491h1M269 498h1M279 491h1M285 500h1M281 493h1M274 497h1M275 497h1M281 498h1M273 497h1M276 491h1M275 499h1M285 495h1M271 499h1M269 496h1M271 500h1M283 503h1M275 503h1M278 493h1M282 492h1M286 505h1M269 500h1M277 491h1M277 498h1M269 492h1M283 493h1M285 495h1M281 494h1M269 500h1M274 497h1M282 497h1M272 492h1M284 509h1M275 498h1M287 492h1M278 503h1M281 497h1M283 494h1M273 494h1M274 495h1M271 506h1M281 501h1M281 503h1M277 493h1M273 491h1M287 500h1M280 498h1M277 497h1M269 500h1M276 491h1M286 496h1M269 493h1M274 496h1M268 495h1M281 499h1M275 501h1M271 491h1M269 492h1M284 494h1M286 501h1M284 519h1M281 500h1M284 499h1M276 500h1M270 503h1M270 515h1M281 514h1M280 495h1M278 495h1M270 505h1M272 492h1M275 500h1M276 493h1M279 494h1M272 504h1M277 500h1M269 524h1M272 497h1M272 494h1M283 496h1M287 491h1M285 510h1M275 511h1M274 501h1M275 497h1M280 506h1M275 491h1M274 502h1M275 495h1M281 495h1M285 495h1M278 508h1M269 494h1M281 499h1M277 495h1M286 509h1M273 495h1M269 491h1M275 494h1M282 492h1M277 506h1M271 492h1M275 498h1M286 492h1M277 498h1M284 511h1M285 492h1M275 491h1M269 495h1M277 498h1M286 491h1M287 501h1M271 500h1M271 491h1M281 492h1M281 495h1M281 494h1M280 491h1M285 504h1M275 499h1M270 499h1M273 517h1M271 491h1M285 500h1M280 491h1M277 501h1M270 504h1M280 492h1M278 495h1M283 497h1M284 502h1M278 492h1M287 494h1M280 505h1M272 491h1M283 501h1M271 493h1M280 497h1M284 496h1M272 502h1M276 493h1M271 493h1M271 492h1M278 491h1M272 500h1M272 502h1M269 493h1M271 497h1M278 502h1M277 506h1M270 498h1M270 494h1M286 493h1M270 524h1M269 498h1M271 498h1M284 491h1M286 500h1M271 492h1M276 503h1M285 492h1M285 498h1M269 497h1M274 497h1M283 491h1M270 491h1M279 501h1M274 501h1M285 496h1M270 491h1M270 502h1M284 490h1M280 511h1M274 517h1M283 492h1M272 506h1M274 491h1M269 500h1M281 492h1M286 494h1M273 493h1M281 502h1M285 491h1M280 494h1M270 499h1M272 491h1M287 491h1M278 495h1M272 526h1M270 491h1M274 498h1M279 501h1M279 496h1M287 491h1M277 494h1M287 496h1M278 503h1M287 500h1M269 492h1M271 491h1M269 516h1M276 502h1M273 492h1M287 491h1M285 491h1M277 495h1M279 498h1M271 507h1M272 493h1M269 493h1M279 496h1M286 505h1M275 494h1M278 493h1M275 499h1M273 515h1M285 500h1M277 495h1M281 503h1M277 492h1M308 508h1M314 499h1M319 511h1M307 511h1M306 499h1M306 494h1M318 501h1M315 492h1M318 502h1M315 496h1M308 500h1M313 495h1M317 495h1M313 528h1M307 495h1M305 512h1M306 505h1M306 491h1M315 500h1M313 496h1M307 491h1M313 500h1M310 494h1M310 492h1M314 496h1M319 499h1M314 492h1M307 496h1M306 491h1M311 491h1M316 503h1M314 492h1M315 496h1M310 496h1M315 499h1M307 494h1M318 499h1M310 510h1M318 492h1M312 509h1M315 491h1M318 493h1M318 494h1M315 493h1M309 498h1M311 499h1M318 492h1M310 493h1M312 493h1M317 492h1M312 503h1M314 494h1M315 521h1M310 495h1M313 503h1M314 505h1M317 496h1M312 492h1M318 494h1M305 494h1M310 516h1M316 494h1M319 498h1M311 511h1M314 492h1M305 491h1M308 508h1M319 514h1M313 507h1M318 521h1M307 495h1M308 503h1M305 503h1M305 496h1M306 500h1M312 497h1M305 491h1M307 493h1M309 493h1M313 524h1M313 497h1M311 502h1M315 505h1M310 504h1M305 493h1M314 494h1M305 502h1M318 495h1M316 499h1M310 508h1M310 500h1M319 509h1M316 493h1M310 505h1M311 491h1M311 499h1M307 493h1M314 498h1M316 492h1M313 492h1M306 515h1M319 504h1M312 491h1M305 507h1M314 500h1M314 498h1M315 499h1M308 491h1M311 496h1M305 506h1M318 493h1M306 497h1M305 501h1M313 496h1M305 493h1M309 502h1M307 491h1M315 501h1M306 503h1M319 494h1M311 500h1M306 494h1M309 496h1M315 511h1M317 497h1M306 495h1M311 491h1M306 496h1M314 493h1M319 495h1M319 504h1M306 503h1M312 491h1M311 501h1M311 508h1M315 493h1M311 516h1M314 492h1M311 492h1M308 497h1M309 521h1M313 497h1M314 492h1M315 497h1M313 491h1M312 502h1M309 495h1M318 491h1M311 498h1M306 495h1M319 497h1M310 493h1M310 495h1M310 496h1M314 501h1M317 493h1M305 496h1M311 492h1M312 495h1M313 494h1M310 491h1M307 496h1M307 517h1M307 528h1M317 496h1M311 496h1M310 493h1M310 494h1M316 499h1M318 525h1M309 497h1M310 492h1M317 491h1M309 507h1M319 495h1M318 499h1M318 496h1M316 502h1M308 496h1M307 491h1M312 502h1M318 498h1M314 504h1M316 491h1M306 513h1M307 494h1M315 495h1M314 491h1M311 492h1M315 492h1M319 498h1M317 494h1M319 507h1M319 500h1M317 495h1M314 492h1M308 492h1M318 507h1M306 506h1M313 495h1M310 491h1M316 508h1M306 517h1M311 493h1M307 491h1M316 503h1M315 491h1M317 498h1M317 502h1M308 497h1M312 503h1M314 494h1M319 492h1M319 499h1M307 492h1M316 492h1M309 493h1M317 502h1M309 493h1M318 504h1M307 491h1M315 492h1M314 496h1M319 496h1M317 507h1M307 492h1M313 519h1M318 497h1M314 492h1M308 494h1M316 491h1M313 499h1M308 495h1M305 518h1M319 508h1M308 494h1M311 499h1M317 492h1M315 495h1M308 499h1M305 492h1M307 496h1M319 495h1M309 492h1M319 493h1M313 496h1M311 500h1M316 492h1M311 510h1M318 505h1M313 494h1M307 497h1M315 512h1M308 498h1M307 494h1M309 500h1M307 510h1M311 494h1M312 497h1M309 492h1M313 505h1M306 499h1M317 494h1M310 496h1M309 495h1M305 493h1M309 505h1M308 502h1M310 492h1M309 493h1M318 496h1M307 493h1M317 492h1M318 494h1M319 490h1M313 492h1M319 492h1M315 494h1M314 501h1M311 491h1M316 510h1M318 494h1M319 494h1M309 505h1M312 517h1M311 498h1M313 494h1M309 492h1M311 525h1M317 494h1M305 491h1M316 491h1M310 512h1M308 513h1M315 492h1M308 506h1M318 493h1M308 525h1M310 496h1M306 492h1M306 497h1M318 491h1M318 496h1M311 509h1M317 504h1M313 512h1M313 491h1M310 493h1M314 498h1M311 497h1M311 495h1M311 493h1M318 499h1M318 491h1M311 496h1M314 511h1M314 495h1M306 496h1M313 492h1M308 491h1M309 494h1M309 494h1M316 498h1M310 505h1M315 499h1M318 500h1M319 499h1M318 492h1M314 516h1M310 523h1M316 500h1M318 500h1M319 495h1M345 499h1M336 511h1M338 498h1M344 490h1M344 504h1M340 493h1M341 496h1M347 493h1M346 526h1M346 492h1M347 516h1M337 493h1M337 495h1M342 496h1M342 494h1M343 507h1M338 498h1M336 510h1M342 494h1M338 495h1M338 493h1M337 493h1M339 495h1M344 492h1M348 493h1M342 492h1M340 497h1M340 501h1M343 502h1M336 497h1M338 500h1M340 508h1M340 510h1M339 502h1M336 498h1M341 520h1M345 492h1M345 503h1M342 490h1M341 509h1M339 495h1M337 496h1M343 501h1M348 493h1M336 491h1M340 497h1M345 504h1M344 501h1M347 493h1M336 508h1M345 500h1M338 494h1M339 514h1M337 491h1M347 493h1M338 510h1M337 491h1M336 496h1M345 492h1M336 494h1M348 505h1M337 495h1M349 499h1M347 491h1M341 492h1M348 491h1M337 494h1M346 503h1M337 498h1M347 492h1M341 506h1M339 519h1M345 496h1M343 493h1M344 510h1M348 492h1M338 522h1M344 503h1M336 495h1M341 495h1M336 490h1M341 521h1M348 525h1M344 491h1M343 497h1M344 497h1M348 502h1M343 496h1M342 511h1M340 508h1M346 503h1M344 497h1M343 496h1M338 515h1M337 493h1M343 503h1M340 515h1M341 497h1M339 504h1M339 492h1M345 491h1M339 491h1M347 503h1M341 502h1M344 492h1M336 493h1M337 502h1M336 493h1M337 491h1M345 499h1M344 500h1M344 493h1M342 511h1M341 499h1M338 491h1M341 492h1M343 509h1M338 501h1M341 495h1M349 497h1M343 494h1M342 495h1M341 508h1M339 505h1M346 498h1M336 494h1M345 503h1M343 491h1M339 501h1M343 495h1M348 505h1M337 493h1M338 514h1M342 494h1M338 504h1M342 492h1M337 493h1M345 491h1M348 504h1M340 502h1M341 494h1M338 496h1M342 495h1M345 498h1M341 493h1M339 491h1M342 494h1M344 496h1M337 492h1M342 492h1M348 494h1M347 498h1M340 499h1M345 495h1M336 491h1M337 503h1M341 492h1M340 499h1M346 503h1M344 495h1M337 494h1M340 493h1M337 493h1M348 493h1M339 508h1M341 495h1M340 494h1M336 498h1M341 492h1M343 492h1M336 500h1M344 499h1M344 508h1M347 493h1M343 509h1M346 492h1M345 496h1M339 512h1M347 499h1M347 498h1M347 494h1M340 500h1M336 491h1M348 499h1M337 502h1M340 491h1M338 493h1M340 528h1M337 506h1M341 492h1M347 512h1M342 498h1M347 491h1M346 492h1M340 491h1M341 492h1M337 491h1M343 499h1M347 497h1M339 491h1M336 493h1M343 506h1M348 491h1M345 501h1M345 497h1M347 493h1M348 502h1M338 501h1M346 529h1M338 525h1M338 500h1M339 496h1M340 504h1M343 498h1M336 491h1M341 516h1M348 502h1M338 503h1M345 496h1M348 517h1M347 502h1M345 492h1M339 512h1M348 501h1M337 497h1M342 492h1M349 494h1M344 493h1M342 492h1M347 492h1M345 496h1M341 493h1M340 491h1M342 491h1M338 494h1M340 503h1M337 500h1M340 505h1M338 494h1M345 496h1M343 503h1M339 498h1M344 496h1M345 497h1M338 504h1M345 493h1M336 493h1M345 493h1M341 521h1M347 504h1M346 496h1M342 494h1M339 491h1M343 499h1M344 524h1M346 510h1M345 511h1M340 495h1M344 520h1M344 502h1M340 506h1M339 497h1M343 493h1M339 506h1M347 521h1M336 510h1M343 493h1M347 504h1M336 495h1M345 494h1M344 493h1M344 501h1M348 495h1M347 492h1M341 501h1M336 500h1M339 507h1M344 491h1M342 501h1M337 494h1M342 507h1M343 492h1M348 494h1M338 502h1M346 491h1M346 491h1M337 502h1M337 510h1M344 499h1M340 490h1M338 498h1M344 500h1M339 492h1M343 492h1M348 492h1M347 501h1M341 500h1M347 504h1M348 508h1M343 502h1M342 491h1M338 491h1M348 507h1M348 493h1M338 497h1M340 500h1M347 493h1M338 496h1M365 498h1M368 496h1M366 495h1M364 491h1M372 495h1M364 503h1M369 495h1M374 508h1M366 496h1M368 493h1M368 527h1M364 501h1M370 499h1M367 499h1M369 502h1M369 499h1M365 497h1M367 492h1M368 491h1M369 522h1M370 492h1M372 495h1M364 497h1M367 495h1M370 491h1M373 503h1M373 498h1M373 495h1M372 501h1M370 493h1M373 493h1M365 499h1M364 493h1M368 497h1M372 505h1M373 499h1M369 493h1M368 501h1M374 504h1M368 492h1M371 503h1M369 498h1M364 496h1M367 491h1M364 501h1M365 518h1M363 503h1M366 492h1M370 497h1M366 499h1M369 502h1M370 497h1M367 521h1M373 497h1M371 502h1M369 491h1M371 501h1M367 495h1M367 504h1M369 524h1M370 494h1M366 515h1M373 492h1M364 494h1M364 510h1M366 507h1M366 491h1M372 495h1M363 492h1M372 517h1M373 498h1M364 508h1M366 494h1M370 501h1M363 497h1M368 505h1M368 503h1M367 495h1M363 498h1M370 517h1M367 513h1M371 501h1M367 500h1M369 494h1M370 514h1M369 501h1M366 495h1M370 492h1M370 498h1M372 492h1M374 493h1M368 509h1M366 500h1M368 495h1M366 510h1M367 505h1M371 492h1M366 495h1M370 501h1M371 492h1M371 497h1M369 500h1M372 496h1M365 508h1M365 493h1M363 491h1M365 492h1M367 501h1M371 492h1M368 500h1M372 497h1M367 497h1M374 491h1M370 494h1M372 493h1M370 495h1M367 493h1M369 491h1M373 492h1M365 521h1M364 496h1M369 494h1M365 503h1M368 504h1M365 511h1M373 491h1M371 491h1M371 491h1M370 513h1M368 513h1M367 512h1M372 501h1M369 499h1M368 493h1M368 508h1M371 498h1M363 504h1M365 511h1M368 498h1M366 492h1M370 496h1M367 498h1M373 492h1M372 495h1M371 498h1M368 503h1M373 504h1M364 497h1M372 491h1M374 495h1M373 511h1M369 493h1M373 505h1M372 522h1M369 491h1M371 493h1M369 491h1M365 494h1M365 494h1M369 494h1M366 497h1M373 504h1M371 492h1M365 491h1M367 493h1M366 493h1M364 502h1M364 505h1M373 500h1M371 496h1M370 497h1M372 509h1M366 496h1M373 500h1M373 511h1M372 495h1M371 503h1M368 498h1M373 494h1M369 494h1M373 491h1M372 499h1M363 513h1M371 501h1M369 499h1M365 493h1M367 495h1M372 491h1M363 502h1M373 493h1M373 492h1M372 494h1M365 494h1M374 495h1M365 492h1M372 502h1M372 498h1M372 494h1M366 504h1M369 495h1M365 494h1M371 502h1M371 507h1M364 492h1M365 492h1M364 499h1M367 495h1M371 492h1M367 517h1M365 498h1M367 491h1M364 499h1M368 490h1M371 492h1M367 492h1M372 492h1M364 496h1M374 505h1M373 512h1M365 492h1M373 509h1M371 494h1M365 499h1M369 506h1M370 504h1M363 497h1M366 499h1M365 491h1M368 494h1M363 503h1M367 492h1M370 499h1M373 501h1M368 493h1M368 498h1M371 497h1M366 492h1M367 499h1M364 492h1M368 495h1M370 494h1M369 500h1M364 512h1M366 509h1M366 493h1M370 492h1M372 499h1M368 506h1M373 503h1M372 491h1M372 501h1M370 492h1M369 495h1M363 501h1M371 492h1M372 508h1M373 506h1M370 498h1M365 498h1M372 501h1M372 499h1M367 499h1M370 503h1M368 491h1M365 508h1M368 493h1M370 507h1M373 506h1M363 497h1M370 492h1M367 499h1M369 515h1M368 493h1M372 494h1M373 496h1M374 528h1M372 497h1M365 495h1M365 493h1M367 496h1M372 494h1M367 500h1M366 498h1M365 496h1M363 492h1M365 492h1M370 510h1M369 512h1M371 498h1M374 498h1M368 496h1M366 491h1M372 502h1M373 495h1M372 499h1M369 492h1M366 495h1M370 503h1M370 508h1M373 499h1M366 506h1M370 515h1M372 502h1M396 504h1M393 491h1M395 490h1M393 500h1M391 504h1M394 491h1M395 491h1M393 506h1M389 492h1M387 496h1M396 498h1M389 529h1M392 492h1M394 501h1M390 506h1M389 495h1M392 496h1M396 522h1M389 497h1M388 492h1M395 491h1M395 495h1M391 494h1M393 496h1M395 495h1M393 495h1M391 492h1M393 503h1M396 499h1M393 491h1M390 503h1M396 492h1M391 510h1M390 491h1M386 494h1M389 501h1M386 493h1M395 498h1M393 510h1M388 491h1M389 510h1M391 492h1M390 516h1M396 493h1M392 492h1M387 495h1M396 505h1M396 491h1M387 502h1M390 520h1M392 493h1M394 510h1M390 496h1M389 496h1M388 510h1M388 501h1M395 494h1M396 497h1M396 494h1M392 502h1M396 493h1M391 498h1M396 517h1M391 499h1M389 509h1M391 492h1M396 498h1M391 491h1M387 491h1M390 491h1M396 495h1M392 495h1M392 492h1M391 497h1M394 491h1M394 502h1M392 500h1M391 507h1M389 491h1M394 494h1M386 493h1M389 490h1M392 496h1M389 499h1M387 493h1M387 501h1M392 494h1M395 497h1M386 495h1M395 495h1M393 499h1M386 491h1M394 507h1M395 507h1M386 519h1M393 504h1M389 496h1M386 508h1M389 499h1M387 494h1M390 500h1M389 497h1M387 499h1M387 498h1M389 491h1M393 490h1M396 491h1M388 490h1M396 499h1M394 491h1M389 511h1M388 503h1M391 493h1M389 496h1M396 493h1M388 491h1M391 497h1M390 491h1M390 494h1M391 513h1M392 492h1M393 493h1M388 499h1M388 491h1M390 491h1M392 491h1M392 493h1M392 492h1M391 498h1M387 508h1M393 494h1M393 495h1M396 495h1M390 497h1M389 493h1M388 491h1M391 509h1M391 497h1M388 491h1M395 491h1M391 492h1M396 493h1M388 491h1M387 499h1M390 503h1M387 493h1M388 499h1M393 490h1M391 491h1M396 497h1M387 492h1M388 505h1M389 493h1M387 493h1M391 516h1M391 500h1M396 505h1M391 496h1M389 497h1M392 493h1M387 495h1M395 497h1M390 496h1M389 492h1M389 492h1M387 501h1M390 492h1M388 497h1M394 492h1M388 491h1M396 494h1M390 496h1M389 511h1M396 492h1M391 493h1M387 497h1M396 493h1M390 492h1M394 491h1M391 491h1M392 498h1M390 509h1M391 510h1M390 495h1M388 508h1M395 493h1M390 491h1M389 506h1M387 498h1M395 503h1M395 494h1M391 493h1M395 497h1M393 512h1M393 492h1M393 494h1M390 496h1M390 493h1M389 505h1M395 499h1M389 495h1M396 515h1M389 496h1M393 499h1M388 496h1M391 527h1M394 491h1M394 501h1M389 494h1M387 494h1M393 502h1M391 493h1M389 491h1M388 522h1M387 506h1M387 510h1M394 493h1M396 496h1M388 492h1M389 493h1M388 492h1M390 499h1M388 493h1M396 495h1M395 494h1M395 502h1M395 494h1M388 491h1M394 491h1M391 498h1M390 501h1M394 493h1M391 500h1M388 494h1M393 494h1M395 491h1M392 491h1M395 513h1M396 497h1M393 499h1M392 492h1M396 494h1M396 491h1M389 496h1M392 497h1M388 491h1M390 495h1M387 495h1M391 492h1M392 508h1M393 491h1M396 493h1M394 495h1M387 492h1M391 502h1M391 491h1M394 503h1M396 516h1M390 492h1M396 492h1M386 503h1M395 499h1M417 497h1M419 497h1M409 493h1M414 511h1M411 508h1M418 493h1M415 490h1M409 503h1M415 497h1M417 512h1M415 496h1M417 501h1M417 491h1M416 492h1M416 491h1M419 513h1M415 506h1M416 497h1M410 492h1M417 496h1M415 501h1M415 514h1M409 497h1M409 493h1M412 501h1M413 503h1M418 501h1M416 510h1M419 493h1M419 498h1M415 505h1M417 504h1M415 494h1M416 495h1M410 499h1M412 509h1M419 493h1M409 492h1M418 504h1M409 518h1M412 492h1M410 493h1M410 496h1M413 509h1M417 492h1M413 491h1M417 492h1M419 496h1M411 500h1M412 491h1M419 499h1M412 497h1M414 506h1M418 501h1M413 496h1M418 499h1M418 491h1M416 492h1M419 491h1M414 492h1M419 494h1M413 512h1M412 492h1M417 496h1M413 491h1M416 497h1M416 522h1M418 494h1M413 519h1M413 491h1M419 496h1M410 497h1M409 491h1M415 498h1M410 491h1M414 496h1M413 493h1M412 495h1M416 493h1M409 498h1M413 508h1M415 493h1M419 494h1M412 508h1M412 526h1M409 503h1M414 499h1M419 509h1M419 497h1M418 495h1M419 508h1M412 492h1M409 496h1M411 498h1M415 501h1M415 493h1M409 503h1M417 492h1M410 493h1M416 503h1M408 500h1M418 506h1M417 502h1M416 493h1M411 496h1M416 492h1M412 491h1M409 498h1M412 494h1M417 495h1M414 516h1M414 493h1M415 509h1M409 503h1M416 504h1M416 497h1M413 503h1M411 497h1M410 491h1M419 507h1M410 501h1M419 500h1M410 500h1M418 499h1M419 492h1M412 499h1M416 497h1M412 515h1M413 502h1M418 504h1M413 512h1M409 495h1M413 509h1M415 496h1M419 513h1M412 493h1M414 493h1M409 491h1M410 493h1M419 500h1M411 510h1M412 504h1M415 494h1M408 497h1M419 492h1M418 501h1M418 500h1M416 506h1M411 492h1M418 497h1M412 504h1M409 494h1M414 496h1M417 511h1M409 494h1M410 491h1M410 491h1M411 527h1M411 491h1M411 492h1M413 508h1M413 496h1M413 524h1M411 491h1M410 492h1M414 500h1M419 490h1M415 499h1M417 491h1M415 493h1M417 501h1M417 523h1M418 497h1M410 493h1M419 493h1M418 502h1M415 506h1M415 500h1M409 509h1M415 496h1M419 496h1M409 502h1M418 511h1M414 496h1M414 493h1M419 520h1M413 501h1M412 494h1M417 498h1M414 503h1M413 516h1M416 506h1M413 491h1M411 507h1M409 496h1M417 494h1M409 490h1M418 492h1M413 494h1M413 494h1M411 492h1M417 508h1M409 494h1M408 493h1M418 497h1M411 496h1M419 492h1M417 496h1M419 492h1M414 500h1M416 491h1M416 497h1M415 492h1M419 492h1M416 499h1M416 501h1M409 495h1M413 499h1M415 503h1M413 498h1M412 493h1M411 495h1M418 503h1M418 504h1M417 506h1M413 492h1M419 491h1M418 492h1M414 494h1M414 491h1M410 497h1M414 495h1M411 517h1M417 500h1M415 493h1M411 493h1M416 493h1M408 500h1M416 506h1M414 495h1M416 493h1M415 497h1M419 499h1M411 498h1M418 525h1M415 496h1M411 509h1M417 502h1M413 520h1M418 508h1M417 504h1M417 493h1M413 508h1M415 496h1M417 491h1M409 514h1M418 499h1M409 491h1M412 506h1M419 491h1M414 506h1M409 493h1M437 491h1M434 507h1M434 494h1M437 495h1M435 496h1M433 493h1M435 497h1M436 505h1M433 493h1M432 493h1M434 504h1M433 491h1M435 512h1M434 494h1M435 493h1M436 493h1M437 493h1M435 492h1M434 493h1M432 499h1M435 492h1M436 493h1M437 498h1M433 499h1M435 496h1M434 495h1M434 502h1M437 497h1M432 496h1M432 500h1M436 509h1M437 500h1M433 501h1M434 494h1M435 491h1M436 496h1M434 494h1M434 495h1M434 492h1M433 512h1M437 515h1M437 492h1M436 495h1M435 497h1M435 498h1M433 504h1M435 497h1M437 495h1M437 493h1M432 502h1M434 527h1M437 499h1M432 491h1M432 519h1M436 502h1M437 493h1M433 494h1M437 492h1M436 499h1M435 527h1M432 505h1M433 504h1M434 503h1M434 493h1M434 502h1M434 494h1M433 499h1M436 497h1M432 492h1M437 496h1M431 504h1M437 494h1M435 498h1M435 494h1M433 492h1M432 505h1M433 493h1M432 504h1M435 500h1M436 493h1M437 508h1M432 522h1M432 491h1M436 502h1M435 494h1M432 491h1M433 507h1M436 494h1M432 491h1M437 500h1M431 495h1M436 500h1M436 500h1M433 492h1M432 492h1M432 493h1M434 497h1M434 493h1M437 496h1M432 503h1M432 501h1M435 492h1M436 508h1M437 506h1M433 505h1M433 496h1M435 494h1M436 494h1M436 492h1M437 496h1M437 511h1M432 493h1M436 497h1M432 491h1M435 493h1M436 504h1M435 494h1M437 492h1M436 491h1M436 501h1M434 493h1M436 499h1M433 494h1M434 492h1M436 528h1M435 523h1M437 491h1M434 492h1M434 494h1M432 502h1M434 492h1M437 490h1M435 493h1M432 498h1M433 504h1M433 500h1M437 491h1M435 496h1M432 515h1M437 493h1M432 496h1M431 494h1M435 492h1M437 500h1M434 498h1M435 492h1M432 504h1M433 492h1M435 491h1M433 497h1M435 493h1M437 494h1M435 497h1M431 493h1M436 499h1M435 493h1M431 494h1M436 514h1M432 492h1M431 495h1M437 494h1M435 490h1M434 493h1M433 507h1M432 491h1M434 509h1M437 497h1M435 497h1M433 491h1M437 492h1M434 499h1M434 491h1M437 496h1M435 495h1M435 497h1M435 495h1M433 493h1M435 507h1M433 495h1M432 507h1M435 494h1M435 497h1M436 503h1M435 493h1M435 493h1M432 492h1M448 501h1M448 492h1M446 496h1M447 504h1M447 496h1M448 500h1M451 493h1M448 497h1M450 500h1M450 493h1M449 499h1M446 517h1M447 529h1M446 514h1M450 499h1M447 492h1M450 495h1M449 492h1M447 501h1M447 493h1M451 496h1M452 518h1M451 501h1M447 494h1M447 491h1M451 502h1M447 492h1M450 499h1M449 500h1M448 514h1M451 494h1M450 501h1M448 501h1M448 495h1M448 499h1M447 501h1M448 504h1M448 495h1M447 504h1M452 506h1M448 492h1M449 491h1M447 497h1M447 494h1M447 493h1M450 500h1M447 491h1M452 503h1M452 490h1M447 500h1M450 491h1M449 497h1M447 503h1M451 498h1M450 491h1M447 500h1M448 503h1M448 508h1M448 493h1M448 498h1M448 494h1M449 494h1M450 495h1M448 503h1M446 491h1M449 494h1M449 497h1M448 501h1M449 504h1M447 511h1M448 528h1M448 497h1M451 492h1M451 506h1M450 518h1M447 491h1M451 493h1M448 491h1M450 492h1M451 491h1M448 493h1M452 497h1M448 491h1M448 502h1M448 491h1M449 506h1M452 512h1M449 499h1M448 496h1M448 493h1M451 492h1M449 503h1M447 493h1M450 498h1M446 501h1M450 498h1M448 496h1M449 492h1M452 503h1M447 512h1M448 493h1M450 504h1M452 500h1M449 492h1M452 492h1M451 491h1M451 491h1M447 491h1M451 491h1M451 502h1M446 509h1M449 493h1M446 500h1M452 503h1M452 512h1M452 491h1M451 491h1M449 512h1M451 491h1M451 492h1M449 505h1M448 504h1M451 495h1M447 497h1M448 497h1M446 507h1M447 504h1M450 494h1M449 505h1M448 493h1M450 494h1M449 492h1M447 491h1M451 493h1M448 510h1M452 517h1M448 491h1M446 494h1M448 499h1M446 496h1M450 502h1M451 494h1M451 501h1M450 501h1M447 493h1M449 505h1M448 497h1M449 495h1M448 507h1M446 515h1M448 494h1M448 508h1M446 506h1M452 491h1M450 491h1M451 493h1M448 493h1M451 504h1M449 493h1M447 497h1M446 494h1M449 499h1M452 496h1M447 493h1M448 492h1M451 493h1M447 496h1M449 493h1M451 494h1M447 493h1M450 493h1M450 496h1M450 495h1M451 497h1M447 498h1M447 507h1M448 491h1M449 507h1M449 494h1M452 492h1M450 499h1M450 500h1M449 491h1M449 494h1M452 505h1M451 493h1M463 493h1M464 495h1M461 492h1M463 514h1M462 492h1M462 494h1M461 504h1M465 507h1M463 491h1M465 491h1M464 495h1M463 493h1M464 500h1M462 495h1M462 492h1M463 493h1M465 492h1M464 514h1M462 496h1M462 499h1M463 496h1M461 497h1M465 496h1M464 509h1M465 494h1M463 496h1M463 491h1M464 494h1M462 508h1M463 496h1M465 494h1M462 500h1M461 493h1M464 498h1M464 492h1M463 495h1M465 495h1M461 492h1M461 508h1M463 499h1M465 507h1M465 514h1M465 500h1M461 504h1M465 496h1M463 509h1M463 492h1M464 494h1M463 494h1M461 490h1M464 497h1M465 498h1M462 500h1M464 491h1M464 493h1M462 497h1M463 494h1M464 499h1M465 491h1M465 494h1M465 491h1M461 498h1M464 492h1M461 508h1M464 497h1M465 511h1M465 494h1M465 492h1M464 491h1M465 491h1M462 491h1M463 506h1M465 492h1M461 498h1M465 499h1M461 492h1M463 504h1M465 499h1M462 494h1M461 495h1M462 492h1M463 500h1M465 491h1M462 505h1M461 497h1M464 493h1M461 493h1M463 492h1M465 493h1M465 491h1M461 493h1M463 498h1M461 500h1M462 500h1M463 505h1M464 492h1M465 511h1M461 493h1M462 493h1M463 501h1M463 492h1M461 492h1M461 500h1M463 491h1M464 500h1M462 494h1M463 505h1M464 493h1M465 491h1M464 519h1M465 498h1M461 504h1M464 516h1M462 493h1M464 504h1M461 501h1M464 511h1M461 500h1M464 513h1M464 494h1M462 508h1M462 490h1M461 501h1M465 500h1M462 496h1M461 517h1M461 496h1M462 493h1M462 496h1M465 491h1M464 503h1M465 493h1M465 508h1M464 490h1M463 499h1M464 493h1M462 493h1M463 497h1M461 521h1M465 492h1M465 495h1M475 502h1M474 496h1M474 519h1M472 492h1M474 492h1M477 509h1M475 496h1M474 493h1M476 503h1M473 491h1M474 493h1M473 494h1M475 501h1M475 524h1M476 507h1M472 499h1M474 501h1M473 493h1M474 491h1M475 492h1M475 512h1M472 491h1M474 495h1M476 493h1M473 491h1M472 494h1M473 495h1M475 491h1M476 503h1M472 505h1M474 492h1M476 515h1M474 491h1M472 496h1M475 494h1M474 503h1M475 491h1M477 494h1M475 490h1M472 492h1M472 496h1M474 496h1M473 494h1M474 492h1M476 503h1M476 496h1M475 492h1M472 501h1M474 492h1M472 493h1M474 500h1M476 503h1M475 491h1M475 491h1M474 491h1M475 495h1M475 509h1M476 491h1M475 521h1M476 497h1M475 503h1M476 494h1M473 492h1M473 496h1M476 491h1M474 492h1M472 494h1M476 492h1M474 500h1M475 492h1M474 501h1M476 508h1M475 493h1M473 492h1M472 509h1M476 495h1M474 500h1M472 494h1M476 491h1M473 503h1M473 504h1M472 495h1M473 494h1M475 492h1M473 506h1M475 514h1M476 497h1M474 500h1M476 511h1M475 492h1M475 491h1M477 505h1M474 491h1M473 498h1M474 492h1M472 501h1M475 493h1M472 496h1M474 516h1M477 499h1M472 507h1M474 492h1M473 496h1M476 502h1M477 502h1M475 491h1M476 496h1M475 494h1M473 507h1M472 497h1M473 493h1M473 502h1M473 493h1M474 498h1M472 492h1M472 493h1M475 501h1M474 491h1M475 498h1M477 491h1M476 498h1M472 491h1M475 491h1M483 492h1M484 502h1M483 495h1M484 523h1M483 502h1M482 512h1M484 493h1M484 511h1M482 496h1M483 495h1M484 495h1M484 496h1M482 503h1M484 494h1M481 495h1M482 491h1M484 497h1M484 502h1M484 493h1M482 498h1M484 505h1M482 499h1M482 491h1M482 521h1M483 498h1M481 502h1M482 497h1M483 493h1M483 500h1M483 503h1M483 496h1M482 500h1M483 520h1M484 501h1M484 491h1M481 510h1M483 494h1M483 496h1M484 501h1M482 503h1M483 504h1M484 492h1M482 491h1M482 501h1M482 512h1M481 503h1M482 500h1M481 520h1M481 507h1M483 509h1M484 493h1M483 492h1M482 493h1M484 494h1M481 508h1M481 494h1M484 504h1M483 491h1M483 503h1M482 502h1M484 506h1M483 495h1M483 510h1M484 493h1M482 496h1M483 491h1M484 509h1M481 506h1M484 506h1M484 492h1M484 492h1M482 503h1M483 500h1M482 495h1M482 491h1M481 494h1M483 493h1M483 494h1M481 494h1M483 505h1M482 503h1M483 499h1M483 507h1M484 500h1M483 509h1M484 493h1M484 507h1M481 497h1"/><line x1="246" y1="384.2" x2="246" y2="463.3" stroke="#8c8c8c" stroke-width="0.9"/><line x1="246" y1="473.7" x2="246" y2="562.5" stroke="#8c8c8c" stroke-width="0.9"/><rect x="246" y="462.6" width="241" height="1" fill="#9a9a9a"/><rect x="246" y="473.3" width="241" height="0.9" fill="#9a9a9a"/><line x1="244.6" y1="463.3" x2="246" y2="463.3" stroke="#8c8c8c" stroke-width="0.9"/><text x="243.6" y="464.40000000000003" text-anchor="end" style="font-family:'Liberation Sans',sans-serif;font-size:3.6px" fill="#444">0</text><line x1="244.6" y1="441" x2="246" y2="441" stroke="#8c8c8c" stroke-width="0.9"/><text x="243.6" y="442.1" text-anchor="end" style="font-family:'Liberation Sans',sans-serif;font-size:3.6px" fill="#444">2</text><line x1="244.6" y1="418.6" x2="246" y2="418.6" stroke="#8c8c8c" stroke-width="0.9"/><text x="243.6" y="419.70000000000005" text-anchor="end" style="font-family:'Liberation Sans',sans-serif;font-size:3.6px" fill="#444">4</text><line x1="244.6" y1="396.7" x2="246" y2="396.7" stroke="#8c8c8c" stroke-width="0.9"/><text x="243.6" y="397.8" text-anchor="end" style="font-family:'Liberation Sans',sans-serif;font-size:3.6px" fill="#444">6</text><line x1="244.6" y1="474.25" x2="246" y2="474.25" stroke="#8c8c8c" stroke-width="0.9"/><text x="243.6" y="475.35" text-anchor="end" style="font-family:'Liberation Sans',sans-serif;font-size:3.6px" fill="#444">0</text><line x1="244.6" y1="498.75" x2="246" y2="498.75" stroke="#8c8c8c" stroke-width="0.9"/><text x="243.6" y="499.85" text-anchor="end" style="font-family:'Liberation Sans',sans-serif;font-size:3.6px" fill="#444">2</text><line x1="244.6" y1="523.75" x2="246" y2="523.75" stroke="#8c8c8c" stroke-width="0.9"/><text x="243.6" y="524.85" text-anchor="end" style="font-family:'Liberation Sans',sans-serif;font-size:3.6px" fill="#444">4</text><line x1="244.6" y1="548.75" x2="246" y2="548.75" stroke="#8c8c8c" stroke-width="0.9"/><text x="243.6" y="549.85" text-anchor="end" style="font-family:'Liberation Sans',sans-serif;font-size:3.6px" fill="#444">6</text><text transform="translate(232.8 423.5) rotate(-90)" text-anchor="middle" style="font-family:'Liberation Sans',sans-serif;font-size:4.3px" fill="#333">hyper-methylated</text><text transform="translate(240.0 423.5) rotate(-90)" text-anchor="middle" style="font-family:'Liberation Sans',sans-serif;font-size:4.3px" fill="#333">-log<tspan font-size="3px" dy="0.8">10</tspan><tspan dy="-0.8">(p)</tspan></text><text transform="translate(232.8 518.5) rotate(-90)" text-anchor="middle" style="font-family:'Liberation Sans',sans-serif;font-size:4.3px" fill="#333">hypo-methylated</text><text transform="translate(240.0 518.5) rotate(-90)" text-anchor="middle" style="font-family:'Liberation Sans',sans-serif;font-size:4.3px" fill="#333">-log<tspan font-size="3px" dy="0.8">10</tspan><tspan dy="-0.8">(p)</tspan></text><text x="257.9" y="467.6" text-anchor="middle" style="font-family:'Liberation Sans',sans-serif;font-size:2.9px" fill="#555">chr1</text><text x="278.4" y="467.6" text-anchor="middle" style="font-family:'Liberation Sans',sans-serif;font-size:2.9px" fill="#555">chr2</text><text x="296.5" y="467.6" text-anchor="middle" style="font-family:'Liberation Sans',sans-serif;font-size:2.9px" fill="#555">chr3</text><text x="312.5" y="467.6" text-anchor="middle" style="font-family:'Liberation Sans',sans-serif;font-size:2.9px" fill="#555">chr4</text><text x="327.9" y="467.6" text-anchor="middle" style="font-family:'Liberation Sans',sans-serif;font-size:2.9px" fill="#555">chr5</text><text x="342.6" y="467.6" text-anchor="middle" style="font-family:'Liberation Sans',sans-serif;font-size:2.9px" fill="#555">chr6</text><text x="356.3" y="467.6" text-anchor="middle" style="font-family:'Liberation Sans',sans-serif;font-size:2.9px" fill="#555">chr7</text><text x="368.9" y="467.6" text-anchor="middle" style="font-family:'Liberation Sans',sans-serif;font-size:2.9px" fill="#555">chr8</text><text x="380.6" y="467.6" text-anchor="middle" style="font-family:'Liberation Sans',sans-serif;font-size:2.9px" fill="#555">chr9</text><text x="391.9" y="467.6" text-anchor="middle" style="font-family:'Liberation Sans',sans-serif;font-size:2.9px" fill="#555">chr10</text><text x="402.9" y="467.6" text-anchor="middle" style="font-family:'Liberation Sans',sans-serif;font-size:2.9px" fill="#555">chr11</text><text x="414.4" y="467.6" text-anchor="middle" style="font-family:'Liberation Sans',sans-serif;font-size:2.9px" fill="#555">chr12</text><text x="425.8" y="467.6" text-anchor="middle" style="font-family:'Liberation Sans',sans-serif;font-size:2.9px" fill="#555">chr13</text><text x="434.8" y="467.6" text-anchor="middle" style="font-family:'Liberation Sans',sans-serif;font-size:2.9px" fill="#555">chr14</text><text x="449.6" y="467.6" text-anchor="middle" style="font-family:'Liberation Sans',sans-serif;font-size:2.9px" fill="#555">chr16</text><text x="469.2" y="467.6" text-anchor="middle" style="font-family:'Liberation Sans',sans-serif;font-size:2.9px" fill="#555">chr19</text><text x="483.4" y="467.6" text-anchor="middle" style="font-family:'Liberation Sans',sans-serif;font-size:2.9px" fill="#555">chr22</text><g stroke="#a8a8a8" stroke-width="0.45"><line x1="273.8" y1="397.8" x2="265.2" y2="402.4"/><line x1="272.7" y1="407" x2="269.2" y2="408.8"/><line x1="256.5" y1="414.5" x2="261.7" y2="411.6"/><line x1="293.4" y1="415.5" x2="287.1" y2="411.6"/><line x1="335.7" y1="398.5" x2="339" y2="403.2"/><line x1="335" y1="407.9" x2="347.8" y2="410.6"/><line x1="305.4" y1="408.5" x2="305.4" y2="411.9"/><line x1="326.2" y1="413.9" x2="324.2" y2="412.6"/><line x1="361.9" y1="409.5" x2="356.5" y2="414"/><line x1="366.6" y1="395" x2="370" y2="398"/><line x1="396.3" y1="397.8" x2="407.1" y2="403.8"/><line x1="415" y1="407.5" x2="409.8" y2="406.5"/><line x1="383.6" y1="414.6" x2="389.6" y2="411.9"/><line x1="399" y1="410.6" x2="396.3" y2="409.2"/><line x1="370.8" y1="409.2" x2="374.8" y2="411.2"/><line x1="470.8" y1="417.3" x2="468" y2="421.3"/><line x1="446.5" y1="418" x2="448" y2="421"/><line x1="481.5" y1="404.5" x2="484" y2="408"/><line x1="438.8" y1="403.5" x2="435" y2="407.2"/><line x1="252.4" y1="536.4" x2="249" y2="539.1"/><line x1="296.8" y1="537.1" x2="305.6" y2="539.8"/><line x1="295" y1="547" x2="300.2" y2="545.9"/><line x1="270.6" y1="556.2" x2="292.8" y2="552.6"/><line x1="327.5" y1="535.5" x2="336.3" y2="539.1"/><line x1="332.3" y1="546.5" x2="345" y2="539"/><line x1="316.8" y1="556.2" x2="323.6" y2="554.9"/><line x1="408" y1="536.4" x2="403.4" y2="539.1"/><line x1="410" y1="532" x2="409.4" y2="529.7"/><line x1="386.5" y1="545.2" x2="394.6" y2="542.5"/><line x1="412.5" y1="546.5" x2="422.9" y2="545.9"/><line x1="371" y1="539.8" x2="366.3" y2="541.8"/><line x1="445.2" y1="536.3" x2="455.3" y2="539.1"/><line x1="460.4" y1="544.4" x2="470.1" y2="544.5"/><line x1="475.5" y1="538.3" x2="476.8" y2="542.5"/><line x1="480.2" y1="548.8" x2="484.2" y2="545.2"/><line x1="457.3" y1="552.6" x2="464" y2="549.2"/><line x1="430.4" y1="553.9" x2="447.2" y2="547.2"/></g><rect x="250.8" y="392.7" width="1" height="1" fill="#bbb"/><rect x="475.0" y="386.5" width="1" height="1" fill="#777"/><rect x="320.0" y="417.5" width="1" height="1" fill="#999"/><rect x="342.5" y="418.5" width="1" height="1" fill="#888"/><rect x="248.5" y="538.6" width="1" height="1" fill="#bbb"/><rect x="335.8" y="538.8" width="1" height="1" fill="#999"/><rect x="268.75" y="392" width="14.25" height="5.50" rx="0.9" fill="#fff" stroke="#888" stroke-width="0.5"/><text x="275.88" y="396.30" text-anchor="middle" style="font-family:'Liberation Sans',sans-serif;font-size:4.35px" fill="#2a2a2a">LGTN</text><rect x="248" y="403.25" width="15.75" height="5.50" rx="0.9" fill="#fff" stroke="#888" stroke-width="0.5"/><text x="255.88" y="407.55" text-anchor="middle" style="font-family:'Liberation Sans',sans-serif;font-size:4.35px" fill="#2a2a2a">YOD1</text><rect x="273" y="403.75" width="14.50" height="5.50" rx="0.9" fill="#fff" stroke="#888" stroke-width="0.5"/><text x="280.25" y="408.05" text-anchor="middle" style="font-family:'Liberation Sans',sans-serif;font-size:4.35px" fill="#2a2a2a">CYS1</text><rect x="298.75" y="403.5" width="13.75" height="5.50" rx="0.9" fill="#fff" stroke="#888" stroke-width="0.5"/><text x="305.62" y="407.80" text-anchor="middle" style="font-family:'Liberation Sans',sans-serif;font-size:4.35px" fill="#2a2a2a">PAK2</text><rect x="248.75" y="415.5" width="17.50" height="5.75" rx="0.9" fill="#fff" stroke="#888" stroke-width="0.5"/><text x="257.50" y="419.93" text-anchor="middle" style="font-family:'Liberation Sans',sans-serif;font-size:4.35px" fill="#2a2a2a">KCNN3</text><rect x="291.25" y="415.5" width="19.25" height="5.75" rx="0.9" fill="#fff" stroke="#888" stroke-width="0.5"/><text x="300.88" y="419.93" text-anchor="middle" style="font-family:'Liberation Sans',sans-serif;font-size:4.35px" fill="#2a2a2a">COL4A4</text><rect x="320.5" y="393" width="22.50" height="5.75" rx="0.9" fill="#fff" stroke="#888" stroke-width="0.5"/><text x="331.75" y="397.43" text-anchor="middle" style="font-family:'Liberation Sans',sans-serif;font-size:4.35px" fill="#2a2a2a">SNORA36</text><rect x="318.75" y="404.5" width="16.25" height="5.50" rx="0.9" fill="#fff" stroke="#888" stroke-width="0.5"/><text x="326.88" y="408.80" text-anchor="middle" style="font-family:'Liberation Sans',sans-serif;font-size:4.35px" fill="#2a2a2a">NHSL1</text><rect x="326.25" y="415.5" width="13.75" height="5.50" rx="0.9" fill="#fff" stroke="#888" stroke-width="0.5"/><text x="333.12" y="419.80" text-anchor="middle" style="font-family:'Liberation Sans',sans-serif;font-size:4.35px" fill="#2a2a2a">ITGA2</text><rect x="349.5" y="391.25" width="16.75" height="5.75" rx="0.9" fill="#fff" stroke="#888" stroke-width="0.5"/><text x="357.88" y="395.68" text-anchor="middle" style="font-family:'Liberation Sans',sans-serif;font-size:4.35px" fill="#2a2a2a">STMN2</text><rect x="377" y="392" width="33.00" height="6.00" rx="0.9" fill="#fff" stroke="#888" stroke-width="0.5"/><text x="393.50" y="396.55" text-anchor="middle" style="font-family:'Liberation Sans',sans-serif;font-size:4.35px" fill="#2a2a2a">LOC101929089</text><rect x="351.25" y="403.75" width="20.00" height="5.75" rx="0.9" fill="#fff" stroke="#888" stroke-width="0.5"/><text x="361.25" y="408.18" text-anchor="middle" style="font-family:'Liberation Sans',sans-serif;font-size:4.35px" fill="#2a2a2a">DENND3</text><rect x="415" y="404.25" width="16.25" height="5.75" rx="0.9" fill="#fff" stroke="#888" stroke-width="0.5"/><text x="423.12" y="408.68" text-anchor="middle" style="font-family:'Liberation Sans',sans-serif;font-size:4.35px" fill="#2a2a2a">RAD52</text><rect x="438.8" y="400.6" width="16.20" height="5.70" rx="0.9" fill="#fff" stroke="#888" stroke-width="0.5"/><text x="446.90" y="405.00" text-anchor="middle" style="font-family:'Liberation Sans',sans-serif;font-size:4.35px" fill="#2a2a2a">LTBP2</text><rect x="345.5" y="414.5" width="20.25" height="6.00" rx="0.9" fill="#fff" stroke="#888" stroke-width="0.5"/><text x="355.62" y="419.05" text-anchor="middle" style="font-family:'Liberation Sans',sans-serif;font-size:4.35px" fill="#2a2a2a">PTPRN2</text><rect x="372" y="415.75" width="16.75" height="5.50" rx="0.9" fill="#fff" stroke="#888" stroke-width="0.5"/><text x="380.38" y="420.05" text-anchor="middle" style="font-family:'Liberation Sans',sans-serif;font-size:4.35px" fill="#2a2a2a">SVILP1</text><rect x="395.5" y="413" width="13.25" height="5.75" rx="0.9" fill="#fff" stroke="#888" stroke-width="0.5"/><text x="402.12" y="417.43" text-anchor="middle" style="font-family:'Liberation Sans',sans-serif;font-size:4.35px" fill="#2a2a2a">CD81</text><rect x="438.8" y="413" width="15.80" height="5.80" rx="0.9" fill="#fff" stroke="#888" stroke-width="0.5"/><text x="446.70" y="417.45" text-anchor="middle" style="font-family:'Liberation Sans',sans-serif;font-size:4.35px" fill="#2a2a2a">PLEK2</text><rect x="464.6" y="400.6" width="16.60" height="5.70" rx="0.9" fill="#fff" stroke="#888" stroke-width="0.5"/><text x="472.90" y="405.00" text-anchor="middle" style="font-family:'Liberation Sans',sans-serif;font-size:4.35px" fill="#2a2a2a">ELFN2</text><rect x="461.3" y="412.1" width="20.20" height="5.60" rx="0.9" fill="#fff" stroke="#888" stroke-width="0.5"/><text x="471.40" y="416.45" text-anchor="middle" style="font-family:'Liberation Sans',sans-serif;font-size:4.35px" fill="#2a2a2a">SCUBE1</text><rect x="252" y="532.5" width="20.50" height="5.50" rx="0.9" fill="#fff" stroke="#888" stroke-width="0.5"/><text x="262.25" y="536.80" text-anchor="middle" style="font-family:'Liberation Sans',sans-serif;font-size:4.35px" fill="#2a2a2a">CCDC27</text><rect x="283" y="533.75" width="13.25" height="5.00" rx="0.9" fill="#fff" stroke="#888" stroke-width="0.5"/><text x="289.62" y="537.80" text-anchor="middle" style="font-family:'Liberation Sans',sans-serif;font-size:4.35px" fill="#2a2a2a">CD38</text><rect x="318.2" y="531" width="14.10" height="5.40" rx="0.9" fill="#fff" stroke="#888" stroke-width="0.5"/><text x="325.25" y="535.25" text-anchor="middle" style="font-family:'Liberation Sans',sans-serif;font-size:4.35px" fill="#2a2a2a">GRK6</text><rect x="302" y="542.5" width="14.25" height="5.50" rx="0.9" fill="#fff" stroke="#888" stroke-width="0.5"/><text x="309.12" y="546.80" text-anchor="middle" style="font-family:'Liberation Sans',sans-serif;font-size:4.35px" fill="#2a2a2a">NR1I2</text><rect x="275.5" y="545" width="19.50" height="5.00" rx="0.9" fill="#fff" stroke="#888" stroke-width="0.5"/><text x="285.25" y="549.05" text-anchor="middle" style="font-family:'Liberation Sans',sans-serif;font-size:4.35px" fill="#2a2a2a">CTNNA2</text><rect x="322.5" y="546.25" width="19.50" height="5.00" rx="0.9" fill="#fff" stroke="#888" stroke-width="0.5"/><text x="332.25" y="550.30" text-anchor="middle" style="font-family:'Liberation Sans',sans-serif;font-size:4.35px" fill="#2a2a2a">TREML1</text><rect x="252.5" y="553.75" width="17.50" height="5.00" rx="0.9" fill="#fff" stroke="#888" stroke-width="0.5"/><text x="261.25" y="557.80" text-anchor="middle" style="font-family:'Liberation Sans',sans-serif;font-size:4.35px" fill="#2a2a2a">TDGF1</text><rect x="302.5" y="553.75" width="14.50" height="5.00" rx="0.9" fill="#fff" stroke="#888" stroke-width="0.5"/><text x="309.75" y="557.80" text-anchor="middle" style="font-family:'Liberation Sans',sans-serif;font-size:4.35px" fill="#2a2a2a">CDH6</text><rect x="347.1" y="535.1" width="16.20" height="5.40" rx="0.9" fill="#fff" stroke="#888" stroke-width="0.5"/><text x="355.20" y="539.35" text-anchor="middle" style="font-family:'Liberation Sans',sans-serif;font-size:4.35px" fill="#2a2a2a">FKBP5</text><rect x="370.5" y="534.5" width="15.75" height="5.50" rx="0.9" fill="#fff" stroke="#888" stroke-width="0.5"/><text x="378.38" y="538.80" text-anchor="middle" style="font-family:'Liberation Sans',sans-serif;font-size:4.35px" fill="#2a2a2a">SPIDR</text><rect x="407" y="532" width="16.75" height="5.50" rx="0.9" fill="#fff" stroke="#888" stroke-width="0.5"/><text x="415.38" y="536.30" text-anchor="middle" style="font-family:'Liberation Sans',sans-serif;font-size:4.35px" fill="#2a2a2a">ARAP1</text><rect x="429.2" y="530.6" width="17.30" height="5.70" rx="0.9" fill="#fff" stroke="#888" stroke-width="0.5"/><text x="437.85" y="535.00" text-anchor="middle" style="font-family:'Liberation Sans',sans-serif;font-size:4.35px" fill="#2a2a2a">GLP2R</text><rect x="374.5" y="545.5" width="15.50" height="5.75" rx="0.9" fill="#fff" stroke="#888" stroke-width="0.5"/><text x="382.25" y="549.92" text-anchor="middle" style="font-family:'Liberation Sans',sans-serif;font-size:4.35px" fill="#2a2a2a">GRID1</text><rect x="397" y="544.5" width="15.50" height="5.50" rx="0.9" fill="#fff" stroke="#888" stroke-width="0.5"/><text x="404.75" y="548.80" text-anchor="middle" style="font-family:'Liberation Sans',sans-serif;font-size:4.35px" fill="#2a2a2a">LATS2</text><rect x="447.9" y="541.2" width="12.50" height="6.10" rx="0.9" fill="#fff" stroke="#888" stroke-width="0.5"/><text x="454.15" y="545.80" text-anchor="middle" style="font-family:'Liberation Sans',sans-serif;font-size:4.35px" fill="#2a2a2a">PRX</text><rect x="345.1" y="551.9" width="21.50" height="6.10" rx="0.9" fill="#fff" stroke="#888" stroke-width="0.5"/><text x="355.85" y="556.50" text-anchor="middle" style="font-family:'Liberation Sans',sans-serif;font-size:4.35px" fill="#2a2a2a">KIAA0146</text><rect x="407.5" y="553" width="25.00" height="5.75" rx="0.9" fill="#fff" stroke="#888" stroke-width="0.5"/><text x="420.00" y="557.42" text-anchor="middle" style="font-family:'Liberation Sans',sans-serif;font-size:4.35px" fill="#2a2a2a">LOC254559</text><rect x="438.8" y="551.7" width="20.60" height="7.10" rx="0.9" fill="#fff" stroke="#888" stroke-width="0.5"/><text x="449.10" y="556.80" text-anchor="middle" style="font-family:'Liberation Sans',sans-serif;font-size:4.35px" fill="#2a2a2a">SECTM1</text><rect x="465.8" y="532.5" width="19.20" height="5.80" rx="0.9" fill="#fff" stroke="#888" stroke-width="0.5"/><text x="475.40" y="536.95" text-anchor="middle" style="font-family:'Liberation Sans',sans-serif;font-size:4.35px" fill="#2a2a2a">OSBPL2</text><rect x="464.2" y="548.8" width="20.80" height="6.20" rx="0.9" fill="#fff" stroke="#888" stroke-width="0.5"/><text x="474.60" y="553.45" text-anchor="middle" style="font-family:'Liberation Sans',sans-serif;font-size:4.35px" fill="#2a2a2a">CACNG2</text></svg>
</body></html>
